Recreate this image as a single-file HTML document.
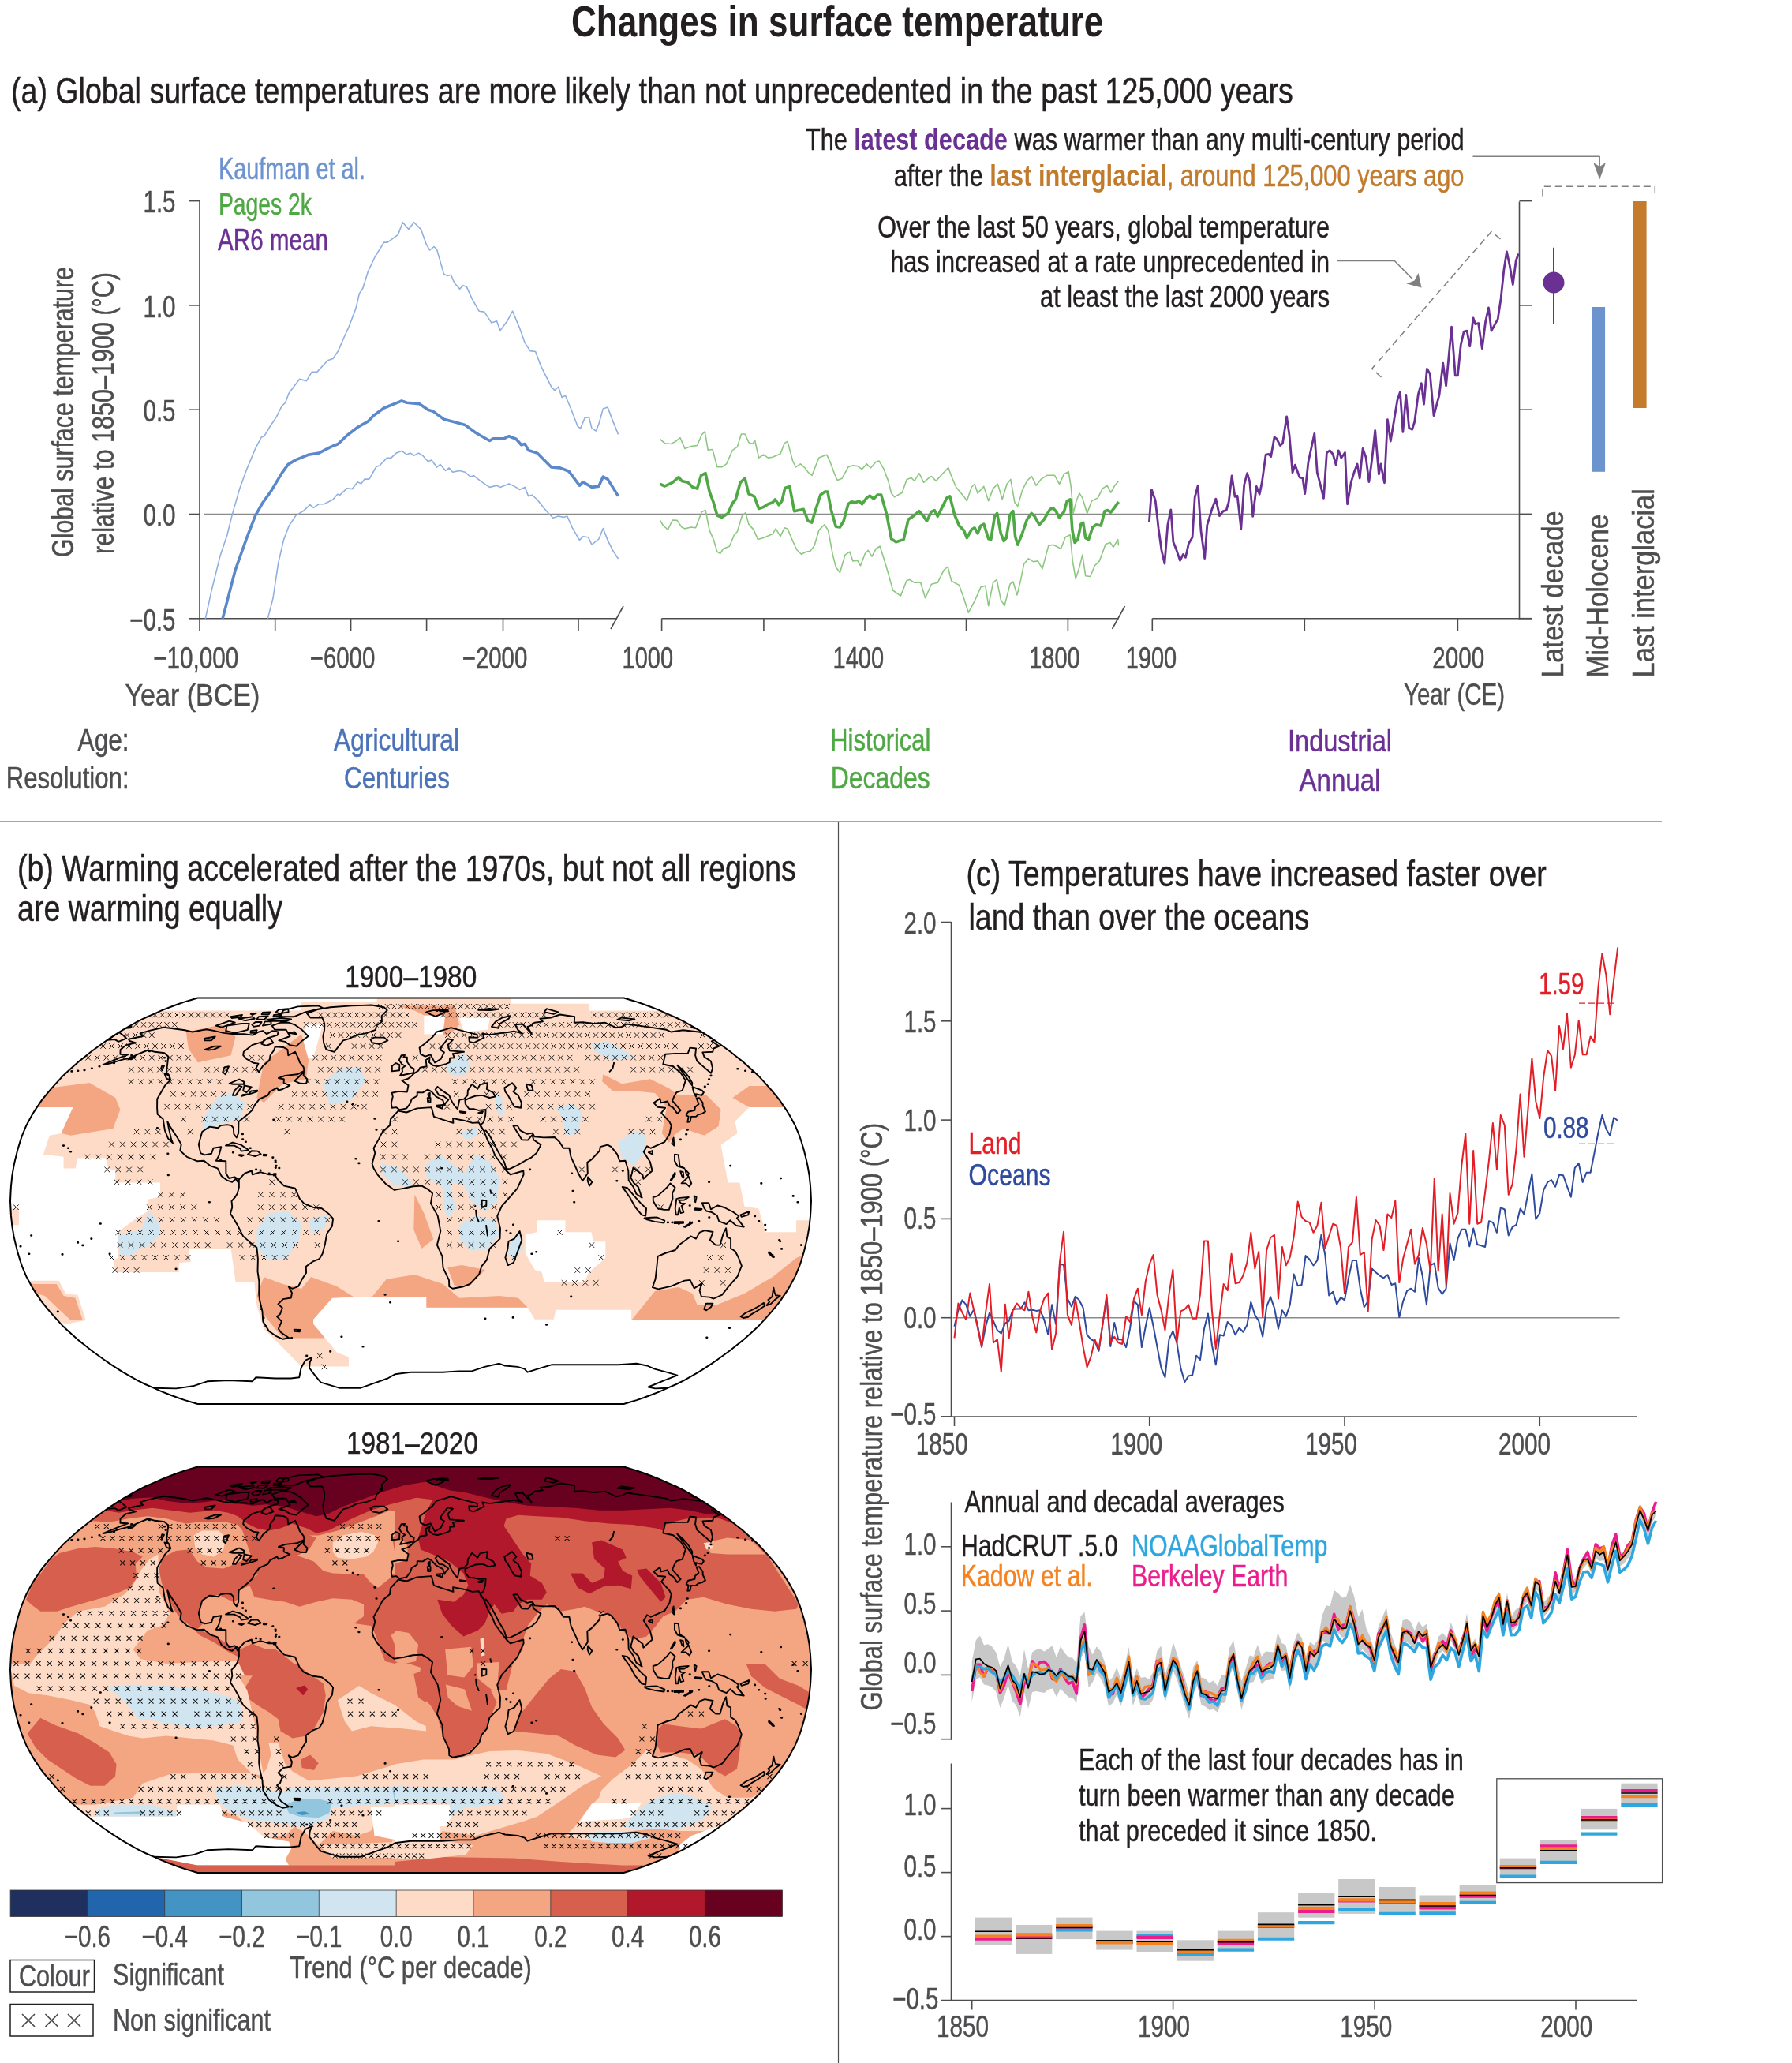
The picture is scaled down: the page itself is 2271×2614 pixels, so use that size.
<!DOCTYPE html>
<html><head><meta charset="utf-8"><title>Changes in surface temperature</title>
<style>html,body{margin:0;padding:0;background:#fff}svg{display:block}text{font-family:"Liberation Sans",sans-serif}</style>
</head><body>
<svg width="2271" height="2614" viewBox="0 0 2271 2614">
<rect width="2271" height="2614" fill="#fff"/>
<g opacity="0.9999">
<text transform="translate(724.0,46.3) scale(0.7952,1)" font-size="55.5" text-anchor="start" fill="#231f20" font-weight="bold">Changes in surface temperature</text>
<text transform="translate(14.0,131.0) scale(0.8258,1)" font-size="45.5" text-anchor="start" fill="#231f20" stroke="#231f20" stroke-width="0.5">(a) Global surface temperatures are more likely than not unprecedented in the past 125,000 years</text>
<text transform="translate(277.0,226.8) scale(0.7492,1)" font-size="38.5" text-anchor="start" fill="#6d93cf" stroke="#6d93cf" stroke-width="0.5">Kaufman et al.</text>
<text transform="translate(277.0,271.6) scale(0.7351,1)" font-size="38.5" text-anchor="start" fill="#4ea843" stroke="#4ea843" stroke-width="0.5">Pages 2k</text>
<text transform="translate(276.0,316.8) scale(0.7696,1)" font-size="38.5" text-anchor="start" fill="#6a3093" stroke="#6a3093" stroke-width="0.5">AR6 mean</text>
<line x1="253.0" y1="253.8" x2="253.0" y2="784.3" stroke="#4d4d4f" stroke-width="1.6" />
<line x1="239.5" y1="254.6" x2="253.0" y2="254.6" stroke="#4d4d4f" stroke-width="1.6" />
<text transform="translate(222.5,269.3) scale(0.7668,1)" font-size="38.5" text-anchor="end" fill="#4d4d4f" stroke="#4d4d4f" stroke-width="0.5">1.5</text>
<line x1="239.5" y1="386.9" x2="253.0" y2="386.9" stroke="#4d4d4f" stroke-width="1.6" />
<text transform="translate(222.5,401.6) scale(0.7668,1)" font-size="38.5" text-anchor="end" fill="#4d4d4f" stroke="#4d4d4f" stroke-width="0.5">1.0</text>
<line x1="239.5" y1="519.2" x2="253.0" y2="519.2" stroke="#4d4d4f" stroke-width="1.6" />
<text transform="translate(222.5,533.9) scale(0.7668,1)" font-size="38.5" text-anchor="end" fill="#4d4d4f" stroke="#4d4d4f" stroke-width="0.5">0.5</text>
<line x1="239.5" y1="651.5" x2="253.0" y2="651.5" stroke="#4d4d4f" stroke-width="1.6" />
<text transform="translate(222.5,666.2) scale(0.7668,1)" font-size="38.5" text-anchor="end" fill="#4d4d4f" stroke="#4d4d4f" stroke-width="0.5">0.0</text>
<line x1="239.5" y1="783.8" x2="253.0" y2="783.8" stroke="#4d4d4f" stroke-width="1.6" />
<text transform="translate(222.5,798.5) scale(0.7668,1)" font-size="38.5" text-anchor="end" fill="#4d4d4f" stroke="#4d4d4f" stroke-width="0.5">−0.5</text>
<line x1="258.0" y1="651.5" x2="1942.0" y2="651.5" stroke="#8a8a8a" stroke-width="1.4" />
<text transform="translate(92.5,522.0) rotate(-90) scale(0.7888,1)" font-size="38.5" text-anchor="middle" fill="#4d4d4f" stroke="#4d4d4f" stroke-width="0.5">Global surface temperature</text>
<text transform="translate(143.7,523.5) rotate(-90) scale(0.7936,1)" font-size="38.5" text-anchor="middle" fill="#4d4d4f" stroke="#4d4d4f" stroke-width="0.5">relative to 1850–1900 (°C)</text>
<line x1="253.0" y1="783.7" x2="781.0" y2="783.7" stroke="#4d4d4f" stroke-width="1.6" />
<line x1="253.0" y1="783.7" x2="253.0" y2="799.7" stroke="#4d4d4f" stroke-width="1.6" />
<line x1="348.7" y1="783.7" x2="348.7" y2="799.7" stroke="#4d4d4f" stroke-width="1.6" />
<line x1="444.6" y1="783.7" x2="444.6" y2="799.7" stroke="#4d4d4f" stroke-width="1.6" />
<line x1="540.6" y1="783.7" x2="540.6" y2="799.7" stroke="#4d4d4f" stroke-width="1.6" />
<line x1="637.5" y1="783.7" x2="637.5" y2="799.7" stroke="#4d4d4f" stroke-width="1.6" />
<line x1="733.0" y1="783.7" x2="733.0" y2="799.7" stroke="#4d4d4f" stroke-width="1.6" />
<line x1="774.0" y1="797.0" x2="790.0" y2="768.0" stroke="#4d4d4f" stroke-width="1.6" />
<text transform="translate(248.2,847.0) scale(0.7701,1)" font-size="38.5" text-anchor="middle" fill="#4d4d4f" stroke="#4d4d4f" stroke-width="0.5">−10,000</text>
<text transform="translate(434.0,847.0) scale(0.7629,1)" font-size="38.5" text-anchor="middle" fill="#4d4d4f" stroke="#4d4d4f" stroke-width="0.5">−6000</text>
<text transform="translate(627.0,847.0) scale(0.7629,1)" font-size="38.5" text-anchor="middle" fill="#4d4d4f" stroke="#4d4d4f" stroke-width="0.5">−2000</text>
<text transform="translate(158.5,894.0) scale(0.8846,1)" font-size="38.5" text-anchor="start" fill="#4d4d4f" stroke="#4d4d4f" stroke-width="0.5">Year (BCE)</text>
<line x1="838.6" y1="783.7" x2="1417.5" y2="783.7" stroke="#4d4d4f" stroke-width="1.6" />
<line x1="838.6" y1="783.7" x2="838.6" y2="799.7" stroke="#4d4d4f" stroke-width="1.6" />
<line x1="967.9" y1="783.7" x2="967.9" y2="799.7" stroke="#4d4d4f" stroke-width="1.6" />
<line x1="1096.0" y1="783.7" x2="1096.0" y2="799.7" stroke="#4d4d4f" stroke-width="1.6" />
<line x1="1224.5" y1="783.7" x2="1224.5" y2="799.7" stroke="#4d4d4f" stroke-width="1.6" />
<line x1="1353.4" y1="783.7" x2="1353.4" y2="799.7" stroke="#4d4d4f" stroke-width="1.6" />
<line x1="1409.5" y1="797.0" x2="1425.5" y2="768.0" stroke="#4d4d4f" stroke-width="1.6" />
<text transform="translate(820.8,847.0) scale(0.7531,1)" font-size="38.5" text-anchor="middle" fill="#4d4d4f" stroke="#4d4d4f" stroke-width="0.5">1000</text>
<text transform="translate(1087.8,847.0) scale(0.7531,1)" font-size="38.5" text-anchor="middle" fill="#4d4d4f" stroke="#4d4d4f" stroke-width="0.5">1400</text>
<text transform="translate(1336.4,847.0) scale(0.7531,1)" font-size="38.5" text-anchor="middle" fill="#4d4d4f" stroke="#4d4d4f" stroke-width="0.5">1800</text>
<line x1="1460.3" y1="783.7" x2="1942.0" y2="783.7" stroke="#4d4d4f" stroke-width="1.6" />
<line x1="1460.3" y1="783.7" x2="1460.3" y2="799.7" stroke="#4d4d4f" stroke-width="1.6" />
<line x1="1653.3" y1="783.7" x2="1653.3" y2="799.7" stroke="#4d4d4f" stroke-width="1.6" />
<line x1="1847.4" y1="783.7" x2="1847.4" y2="799.7" stroke="#4d4d4f" stroke-width="1.6" />
<text transform="translate(1459.0,847.0) scale(0.7531,1)" font-size="38.5" text-anchor="middle" fill="#4d4d4f" stroke="#4d4d4f" stroke-width="0.5">1900</text>
<text transform="translate(1848.2,847.0) scale(0.7706,1)" font-size="38.5" text-anchor="middle" fill="#4d4d4f" stroke="#4d4d4f" stroke-width="0.5">2000</text>
<text transform="translate(1779.0,892.7) scale(0.7636,1)" font-size="38.5" text-anchor="start" fill="#4d4d4f" stroke="#4d4d4f" stroke-width="0.5">Year (CE)</text>
<line x1="1925.5" y1="255.5" x2="1925.5" y2="784.5" stroke="#4d4d4f" stroke-width="1.6" />
<line x1="1925.5" y1="254.6" x2="1942.0" y2="254.6" stroke="#4d4d4f" stroke-width="1.6" />
<line x1="1925.5" y1="386.9" x2="1942.0" y2="386.9" stroke="#4d4d4f" stroke-width="1.6" />
<line x1="1925.5" y1="519.2" x2="1942.0" y2="519.2" stroke="#4d4d4f" stroke-width="1.6" />
<line x1="1925.5" y1="651.5" x2="1942.0" y2="651.5" stroke="#4d4d4f" stroke-width="1.6" />
<line x1="1925.5" y1="783.7" x2="1942.0" y2="783.7" stroke="#4d4d4f" stroke-width="1.6" />
<path d="M260.3,783.9 L267.9,749.1 L279.0,704.5 L287.9,677.7 L294.6,650.9 L303.6,619.6 L312.5,595.1 L323.7,568.3 L331.2,554.0 L334.8,552.7 L341.5,541.5 L350.4,528.1 L357.1,514.7 L361.6,510.3 L366.1,498.2 L379.5,480.4 L388.4,482.6 L395.1,471.4 L401.8,471.4 L415.2,456.7 L421.9,454.5 L428.6,444.6 L435.3,429.0 L442.0,414.3 L450.9,391.1 L455.4,371.9 L459.8,365.2 L466.5,343.8 L475.4,325.0 L486.6,307.1 L491.1,307.1 L504.5,297.3 L510.3,281.7 L517.9,290.6 L524.6,281.7 L533.5,290.6 L540.2,309.4 L544.6,317.0 L550.0,312.5 L553.6,316.1 L562.5,347.3 L567.0,349.6 L571.4,348.2 L575.9,358.5 L582.6,366.1 L587.1,361.6 L591.5,363.8 L598.2,378.6 L607.1,394.2 L613.8,395.1 L622.8,408.9 L629.5,406.7 L633.9,418.8 L642.9,406.7 L649.6,394.2 L658.5,415.6 L665.2,434.4 L671.9,444.6 L678.6,445.5 L685.3,463.4 L692.0,476.8 L698.7,490.2 L703.1,494.6 L707.6,490.2 L712.1,503.6 L716.5,501.3 L723.2,517.0 L732.1,540.2 L735.7,542.9 L741.1,529.5 L746.4,528.6 L750.0,542.9 L755.4,546.0 L758.9,537.1 L764.3,517.9 L770.1,516.1 L776.8,533.9 L783.5,550.4" fill="none" stroke="#8fb0df" stroke-width="1.6" stroke-linejoin="round" />
<path d="M339.3,783.9 L346.0,758.0 L352.7,713.4 L359.4,684.4 L366.1,666.5 L375.0,653.1 L383.9,647.8 L392.9,639.7 L397.3,643.3 L404.0,638.8 L410.7,638.8 L421.9,633.0 L427.7,626.3 L430.8,627.2 L439.7,618.8 L446.4,619.6 L453.1,610.7 L457.6,612.9 L462.1,607.1 L467.9,607.1 L476.8,591.5 L481.2,589.7 L490.2,580.4 L495.5,580.4 L502.2,574.1 L508.9,571.4 L515.6,575.9 L520.1,574.1 L524.6,577.2 L530.4,574.1 L535.7,577.2 L542.4,584.8 L546.9,583.0 L553.6,592.0 L558.0,588.4 L564.7,596.4 L569.2,592.9 L573.7,598.2 L582.6,596.4 L589.3,598.2 L596.0,604.0 L600.4,602.7 L609.4,609.8 L620.5,617.4 L629.5,615.2 L633.9,617.4 L645.1,612.9 L654.0,617.4 L658.5,620.5 L665.2,617.4 L669.6,628.6 L674.1,627.2 L680.8,633.0 L689.7,644.2 L696.4,651.8 L700.9,656.2 L707.6,654.0 L714.3,655.4 L718.8,654.0 L725.4,668.8 L734.4,684.4 L738.8,679.9 L745.5,680.8 L750.0,690.2 L758.9,683.0 L764.3,669.6 L770.1,684.4 L776.8,697.8 L783.5,708.0" fill="none" stroke="#8fb0df" stroke-width="1.6" stroke-linejoin="round" />
<path d="M282.1,783.9 L298.2,722.3 L312.5,682.1 L323.7,653.1 L332.6,637.5 L343.8,621.9 L357.1,599.6 L365.2,588.4 L375.0,582.6 L390.6,576.3 L404.0,574.1 L419.6,566.1 L428.6,562.5 L439.7,551.8 L453.1,541.5 L466.5,533.9 L473.2,526.8 L486.6,517.0 L508.9,508.0 L515.6,510.3 L531.2,511.6 L542.4,519.2 L549.1,521.4 L562.5,531.2 L569.2,533.0 L575.9,534.8 L589.3,538.4 L602.7,548.2 L620.5,558.5 L625.0,555.8 L638.4,555.8 L645.1,552.7 L654.0,556.2 L660.7,563.8 L665.2,562.5 L669.6,570.5 L680.8,574.1 L689.7,583.0 L698.7,592.0 L709.8,592.9 L721.0,597.3 L727.7,606.2 L734.4,615.2 L738.8,610.7 L750.0,617.4 L758.9,616.1 L764.3,604.0 L770.1,607.1 L783.5,628.6" fill="none" stroke="#5b88ca" stroke-width="3.6" stroke-linejoin="round" />
<path d="M836.6,556.6 L842.5,561.7 L850.3,562.5 L856.2,559.4 L862.0,554.7 L867.9,568.4 L875.7,565.6 L883.5,564.5 L889.4,550.8 L893.3,546.9 L897.2,570.3 L903.0,569.5 L908.9,591.8 L914.8,591.8 L920.6,587.9 L928.4,570.3 L934.3,566.4 L939.4,550.0 L944.1,550.0 L948.8,560.5 L953.8,562.5 L956.6,557.8 L961.6,580.1 L967.5,576.2 L973.4,580.1 L979.2,579.3 L989.0,575.0 L994.1,561.7 L998.0,559.4 L1004.6,584.0 L1008.5,591.8 L1014.4,587.9 L1020.2,593.0 L1024.1,598.4 L1029.2,602.3 L1033.9,589.8 L1037.8,580.1 L1047.6,576.2 L1051.5,584.0 L1057.3,599.6 L1061.2,608.6 L1067.1,606.2 L1074.9,591.8 L1080.8,589.8 L1086.6,590.6 L1092.5,594.5 L1098.4,587.9 L1103.4,593.0 L1110.1,585.2 L1114.0,584.0 L1119.8,593.8 L1125.7,609.4 L1129.6,625.0 L1133.5,629.7 L1143.3,624.2 L1149.1,607.4 L1155.0,605.5 L1158.9,609.4 L1164.8,599.6 L1170.6,611.3 L1176.5,606.2 L1180.4,603.5 L1186.2,609.4 L1194.1,600.8 L1201.9,592.6 L1205.8,603.5 L1211.6,617.2 L1221.4,628.9 L1225.3,634.8 L1231.2,617.2 L1235.1,613.3 L1239.0,625.0 L1246.8,616.4 L1252.7,634.8 L1258.5,619.1 L1264.4,613.3 L1270.2,632.8 L1276.1,613.3 L1280.8,607.4 L1285.9,636.7 L1289.8,641.4 L1295.6,621.1 L1301.5,609.4 L1307.3,603.5 L1313.2,615.2 L1319.1,607.4 L1326.9,602.3 L1336.6,602.3 L1342.5,613.3 L1348.4,600.8 L1354.2,597.7 L1357.3,617.2 L1360.1,650.4 L1364.0,634.8 L1367.9,625.0 L1371.8,630.9 L1377.7,650.4 L1383.5,634.8 L1391.3,630.9 L1397.2,619.1 L1403.0,615.2 L1407.7,624.2 L1412.8,615.2 L1417.5,609.4" fill="none" stroke="#8cc880" stroke-width="1.6" stroke-linejoin="round" />
<path d="M836.6,659.4 L840.5,666.0 L846.4,671.1 L852.3,659.0 L858.1,659.4 L864.0,668.0 L867.9,669.9 L875.7,668.0 L881.6,668.8 L889.4,648.4 L894.1,646.5 L899.1,671.9 L904.2,683.6 L908.9,699.2 L912.8,701.2 L916.7,695.3 L924.5,692.2 L930.4,677.7 L934.3,673.8 L940.2,654.3 L944.8,649.6 L948.8,664.1 L955.0,671.1 L960.5,683.6 L967.5,681.6 L973.4,678.9 L979.2,676.6 L983.1,669.9 L989.0,679.7 L994.1,668.8 L998.0,669.9 L1004.6,685.5 L1009.7,696.5 L1015.5,702.3 L1021.4,699.2 L1026.9,698.4 L1032.0,691.4 L1037.8,671.9 L1044.8,664.8 L1049.5,671.9 L1055.4,703.1 L1059.3,718.8 L1064.4,725.4 L1071.0,703.1 L1076.9,699.2 L1080.8,710.9 L1086.6,710.2 L1090.5,716.8 L1096.4,701.2 L1100.3,697.3 L1105.0,705.1 L1110.1,695.3 L1115.2,692.2 L1119.8,707.0 L1125.7,726.6 L1131.6,748.0 L1141.3,755.1 L1149.1,735.5 L1153.0,734.4 L1158.9,738.3 L1166.7,738.3 L1172.6,757.8 L1180.4,740.2 L1188.2,738.3 L1196.0,722.7 L1201.1,718.0 L1205.8,736.3 L1215.5,741.4 L1221.4,757.8 L1227.3,776.2 L1235.1,761.7 L1242.9,744.1 L1248.8,742.2 L1252.7,767.6 L1258.5,738.3 L1263.2,734.4 L1268.3,759.8 L1273.0,767.6 L1280.0,740.2 L1283.9,737.1 L1289.0,753.9 L1293.7,734.4 L1297.6,714.8 L1303.4,707.8 L1309.3,711.7 L1315.2,710.9 L1321.0,720.7 L1328.8,691.4 L1334.7,690.2 L1344.5,695.3 L1350.3,680.5 L1356.2,677.7 L1359.3,710.9 L1363.2,733.6 L1367.9,718.8 L1371.8,703.1 L1375.7,729.7 L1381.6,730.5 L1387.4,716.8 L1393.3,710.9 L1401.1,689.5 L1407.0,687.5 L1410.9,693.4 L1416.7,683.6 L1417.5,691.4" fill="none" stroke="#8cc880" stroke-width="1.6" stroke-linejoin="round" />
<path d="M836.6,613.3 L842.5,616.0 L852.3,611.3 L860.1,604.7 L864.0,609.4 L871.8,611.3 L877.7,617.2 L883.5,619.1 L888.6,602.3 L894.1,599.6 L899.1,623.0 L904.2,636.7 L908.9,653.1 L914.8,655.5 L922.6,650.4 L928.4,637.5 L932.3,632.8 L938.2,611.3 L944.1,606.2 L948.8,625.8 L955.8,628.9 L961.6,644.5 L967.5,642.6 L973.4,638.7 L979.2,636.7 L982.3,632.8 L987.0,639.8 L990.9,634.8 L994.8,618.4 L1000.7,616.4 L1006.6,647.7 L1012.4,646.5 L1018.3,645.3 L1024.1,660.2 L1028.8,662.1 L1033.9,645.3 L1039.8,627.0 L1045.6,623.0 L1048.8,623.0 L1053.4,646.5 L1059.3,667.2 L1064.4,668.0 L1069.1,660.2 L1074.9,638.7 L1078.8,635.9 L1084.7,636.7 L1088.6,634.8 L1092.5,638.7 L1098.4,630.9 L1102.3,628.1 L1107.3,632.0 L1112.0,627.0 L1116.7,627.0 L1123.8,652.3 L1129.6,682.8 L1135.5,686.7 L1145.2,683.6 L1151.1,658.2 L1157.0,654.3 L1164.8,647.7 L1170.6,654.3 L1174.5,660.2 L1180.4,648.4 L1184.3,646.5 L1188.2,654.3 L1194.1,642.6 L1199.9,630.9 L1203.8,628.9 L1209.7,652.3 L1215.5,666.0 L1221.4,671.9 L1225.3,681.6 L1231.2,671.1 L1235.1,668.8 L1239.0,675.8 L1242.9,666.0 L1246.8,664.1 L1252.7,682.8 L1255.8,683.6 L1260.5,654.3 L1263.6,650.4 L1268.3,675.8 L1272.2,685.5 L1275.3,681.6 L1280.0,652.3 L1283.9,647.7 L1286.6,679.7 L1289.8,690.2 L1295.6,675.8 L1301.5,658.2 L1307.3,650.4 L1311.2,654.3 L1317.1,664.8 L1323.0,658.2 L1330.8,645.3 L1334.7,643.8 L1338.6,648.4 L1342.5,656.2 L1348.4,648.4 L1352.3,634.8 L1356.2,632.8 L1358.9,671.9 L1362.0,687.5 L1365.9,683.6 L1369.8,664.1 L1372.6,662.1 L1375.7,681.6 L1379.6,683.6 L1384.7,668.0 L1389.4,664.8 L1395.2,666.0 L1399.9,647.7 L1403.8,646.5 L1407.7,649.2 L1412.8,642.6 L1417.5,635.9" fill="none" stroke="#4ea843" stroke-width="3.6" stroke-linejoin="round" />
<path d="M1456.4,661.4 L1459.5,620.4 L1464.2,634.1 L1468.1,669.2 L1472.0,697.3 L1475.9,714.1 L1479.8,665.3 L1483.8,645.8 L1486.9,686.8 L1490.8,696.6 L1495.5,710.2 L1499.4,702.4 L1502.5,706.3 L1506.4,688.8 L1511.1,680.9 L1514.2,630.2 L1518.1,615.3 L1522.0,673.1 L1526.7,707.5 L1529.8,665.3 L1535.7,645.8 L1540.8,632.1 L1545.5,653.6 L1550.2,647.7 L1554.1,646.6 L1557.2,636.0 L1561.1,602.8 L1565.0,629.4 L1568.1,628.2 L1572.8,670.0 L1576.7,614.5 L1580.6,599.7 L1583.8,610.6 L1587.7,654.4 L1592.3,616.5 L1596.2,626.2 L1599.4,610.6 L1604.1,576.2 L1608.0,575.5 L1610.7,578.6 L1615.0,554.0 L1617.7,555.9 L1622.4,564.5 L1625.5,561.8 L1630.6,527.8 L1634.1,552.0 L1638.0,598.9 L1641.2,589.1 L1647.0,604.8 L1650.9,605.9 L1653.7,625.5 L1658.0,585.2 L1662.7,563.8 L1665.8,549.3 L1669.3,598.9 L1673.6,615.3 L1677.5,631.3 L1681.4,573.5 L1685.3,570.8 L1689.2,575.5 L1693.1,589.1 L1696.2,570.8 L1699.8,580.2 L1704.5,573.5 L1707.6,638.8 L1712.3,610.6 L1716.6,597.0 L1720.1,588.0 L1723.2,605.9 L1727.1,568.4 L1731.0,579.4 L1734.9,610.6 L1738.8,581.3 L1742.7,545.4 L1747.4,600.9 L1749.8,588.0 L1754.5,611.8 L1758.4,531.7 L1762.3,559.1 L1767.0,530.5 L1770.9,507.1 L1774.4,496.6 L1777.9,547.3 L1781.8,500.5 L1785.7,542.3 L1789.6,544.2 L1792.7,534.5 L1797.4,499.3 L1801.3,485.6 L1804.5,512.2 L1808.4,467.3 L1812.3,473.9 L1817.0,526.6 L1820.9,512.2 L1824.0,500.5 L1828.7,460.2 L1832.6,488.8 L1836.5,446.6 L1839.6,414.1 L1844.3,475.9 L1847.4,475.9 L1851.3,436.8 L1855.2,420.0 L1859.1,419.2 L1862.7,438.8 L1867.0,402.8 L1869.7,410.6 L1873.6,409.5 L1878.3,441.5 L1882.6,407.5 L1886.5,389.9 L1890.0,419.2 L1894.3,411.4 L1898.2,404.4 L1902.1,378.2 L1906.0,341.1 L1909.5,318.8 L1913.4,337.2 L1917.3,360.6 L1921.2,330.2 L1924.4,321.6" fill="none" stroke="#6a3093" stroke-width="2.8" stroke-linejoin="round" />
<line x1="1969.0" y1="313.7" x2="1969.0" y2="410.6" stroke="#6a3093" stroke-width="2" />
<circle cx="1969" cy="358" r="13.5" fill="#6a3093"/>
<rect x="2017.5" y="389.0" width="16.6" height="208.8" fill="#6b93cd" stroke="none" stroke-width="0"/>
<rect x="2069.6" y="255.0" width="17.0" height="262.0" fill="#c47c2c" stroke="none" stroke-width="0"/>
<text transform="translate(1981.0,858.5) rotate(-90) scale(0.8723,1)" font-size="38.5" text-anchor="start" fill="#4d4d4f" stroke="#4d4d4f" stroke-width="0.5">Latest decade</text>
<text transform="translate(2037.7,858.5) rotate(-90) scale(0.8715,1)" font-size="38.5" text-anchor="start" fill="#4d4d4f" stroke="#4d4d4f" stroke-width="0.5">Mid-Holocene</text>
<text transform="translate(2096.0,858.5) rotate(-90) scale(0.8953,1)" font-size="38.5" text-anchor="start" fill="#4d4d4f" stroke="#4d4d4f" stroke-width="0.5">Last interglacial</text>
<path d="M1955.0,248.5 L1955.0,236.3 L2097.3,236.3 L2097.3,248.5" fill="none" stroke="#808080" stroke-width="1.5" stroke-linejoin="round" stroke-dasharray="9 5"/>
<path d="M1866.5,198.3 L2027.2,198.3 L2027.2,214.0" fill="none" stroke="#808080" stroke-width="1.5" stroke-linejoin="round" />
<path d="M2019.3,206 L2027.2,227.5 L2035,206 L2027.2,211 Z" fill="#808080"/>
<path d="M1750.5,478.0 L1738.8,467.0 L1890.0,293.5 L1903.0,304.0" fill="none" stroke="#808080" stroke-width="1.5" stroke-linejoin="round" stroke-dasharray="9 5"/>
<path d="M1694.0,330.5 L1767.3,330.5 L1790.0,353.5" fill="none" stroke="#808080" stroke-width="1.5" stroke-linejoin="round" />
<path d="M1797.5,346 L1801.5,364.5 L1782.5,359.5 L1792.5,355.5 Z" fill="#808080"/>
<text transform="translate(1855.5,190.0) scale(0.7980,1)" font-size="38.5" text-anchor="end" xml:space="preserve"><tspan fill="#231f20" stroke="#231f20" stroke-width="0.5">The </tspan><tspan fill="#6a3093" font-weight="bold">latest decade</tspan><tspan fill="#231f20" stroke="#231f20" stroke-width="0.5"> was warmer than any multi-century period</tspan></text>
<text transform="translate(1855.5,235.5) scale(0.8005,1)" font-size="38.5" text-anchor="end" xml:space="preserve"><tspan fill="#231f20" stroke="#231f20" stroke-width="0.5">after the </tspan><tspan fill="#c17b2d" font-weight="bold">last interglacial</tspan><tspan fill="#c17b2d" stroke="#c17b2d" stroke-width="0.5">, around 125,000 years ago</tspan></text>
<text transform="translate(1685.0,301.0) scale(0.7969,1)" font-size="38.5" text-anchor="end" fill="#231f20" stroke="#231f20" stroke-width="0.5">Over the last 50 years, global temperature</text>
<text transform="translate(1685.0,345.0) scale(0.7958,1)" font-size="38.5" text-anchor="end" fill="#231f20" stroke="#231f20" stroke-width="0.5">has increased at a rate unprecedented in</text>
<text transform="translate(1685.0,388.5) scale(0.7976,1)" font-size="38.5" text-anchor="end" fill="#231f20" stroke="#231f20" stroke-width="0.5">at least the last 2000 years</text>
<text transform="translate(163.6,951.0) scale(0.8207,1)" font-size="38.5" text-anchor="end" fill="#4d4d4f" stroke="#4d4d4f" stroke-width="0.5">Age:</text>
<text transform="translate(163.6,999.0) scale(0.8099,1)" font-size="38.5" text-anchor="end" fill="#4d4d4f" stroke="#4d4d4f" stroke-width="0.5">Resolution:</text>
<text transform="translate(502.5,951.0) scale(0.8256,1)" font-size="38.5" text-anchor="middle" fill="#4a72b8" stroke="#4a72b8" stroke-width="0.5">Agricultural</text>
<text transform="translate(503.0,999.0) scale(0.8132,1)" font-size="38.5" text-anchor="middle" fill="#4a72b8" stroke="#4a72b8" stroke-width="0.5">Centuries</text>
<text transform="translate(1115.8,951.0) scale(0.8022,1)" font-size="38.5" text-anchor="middle" fill="#4ea843" stroke="#4ea843" stroke-width="0.5">Historical</text>
<text transform="translate(1115.8,999.0) scale(0.8292,1)" font-size="38.5" text-anchor="middle" fill="#4ea843" stroke="#4ea843" stroke-width="0.5">Decades</text>
<text transform="translate(1698.0,951.5) scale(0.8449,1)" font-size="38.5" text-anchor="middle" fill="#6a3093" stroke="#6a3093" stroke-width="0.5">Industrial</text>
<text transform="translate(1698.0,1002.0) scale(0.8592,1)" font-size="38.5" text-anchor="middle" fill="#6a3093" stroke="#6a3093" stroke-width="0.5">Annual</text>
<line x1="0.0" y1="1041.0" x2="2106.0" y2="1041.0" stroke="#4d4d4f" stroke-width="1.2" />
<line x1="1062.5" y1="1041.0" x2="1062.5" y2="2614.0" stroke="#4d4d4f" stroke-width="1.2" />
<text transform="translate(22.0,1116.0) scale(0.8245,1)" font-size="45.5" text-anchor="start" fill="#231f20" stroke="#231f20" stroke-width="0.5">(b) Warming accelerated after the 1970s, but not all regions</text>
<text transform="translate(22.0,1166.5) scale(0.8252,1)" font-size="45.5" text-anchor="start" fill="#231f20" stroke="#231f20" stroke-width="0.5">are warming equally</text>
<text transform="translate(520.7,1250.8) scale(0.8666,1)" font-size="38.5" text-anchor="middle" fill="#231f20" stroke="#231f20" stroke-width="0.5">1900–1980</text>
<text transform="translate(522.5,1841.8) scale(0.8666,1)" font-size="38.5" text-anchor="middle" fill="#231f20" stroke="#231f20" stroke-width="0.5">1981–2020</text>
<clipPath id="mc1"><path d="M790.6,1264.5 L798.7,1267.0 L806.8,1269.4 L815.9,1272.5 L825.8,1276.3 L835.8,1280.1 L846.3,1284.8 L856.9,1289.5 L866.8,1294.4 L876.0,1299.6 L885.2,1304.8 L893.5,1310.2 L901.9,1315.7 L910.0,1321.3 L917.9,1327.0 L925.8,1332.8 L933.2,1338.7 L940.6,1344.6 L947.6,1350.7 L954.3,1356.8 L961.0,1362.9 L966.7,1369.1 L972.4,1375.3 L977.9,1381.6 L983.1,1387.9 L988.2,1394.2 L992.5,1400.6 L996.8,1406.9 L1000.7,1413.3 L1004.2,1419.7 L1007.7,1426.1 L1010.3,1432.4 L1013.0,1438.8 L1015.2,1445.2 L1017.1,1451.6 L1019.0,1458.0 L1020.5,1464.3 L1022.1,1470.7 L1023.5,1477.1 L1024.6,1483.5 L1025.7,1489.9 L1026.3,1496.2 L1027.0,1502.6 L1027.4,1509.0 L1027.7,1515.4 L1028.0,1521.8 L1027.7,1528.1 L1027.4,1534.5 L1027.0,1540.9 L1026.3,1547.3 L1025.7,1553.6 L1024.6,1560.0 L1023.5,1566.4 L1022.1,1572.8 L1020.5,1579.2 L1019.0,1585.5 L1017.1,1591.9 L1015.2,1598.3 L1013.0,1604.7 L1010.3,1611.1 L1007.7,1617.4 L1004.2,1623.8 L1000.7,1630.2 L996.8,1636.6 L992.5,1642.9 L988.2,1649.3 L983.1,1655.6 L977.9,1661.9 L972.4,1668.2 L966.7,1674.4 L961.0,1680.6 L954.3,1686.7 L947.6,1692.8 L940.6,1698.9 L933.2,1704.8 L925.8,1710.7 L917.9,1716.5 L910.0,1722.2 L901.9,1727.8 L893.5,1733.3 L885.2,1738.7 L876.0,1743.9 L866.8,1749.1 L856.9,1754.0 L846.3,1758.7 L835.8,1763.4 L825.8,1767.2 L815.9,1771.0 L806.8,1774.1 L798.7,1776.5 L790.6,1779.0 L250.4,1779.0 L242.3,1776.5 L234.2,1774.1 L225.1,1771.0 L215.2,1767.2 L205.2,1763.4 L194.7,1758.7 L184.1,1754.0 L174.2,1749.1 L165.0,1743.9 L155.8,1738.7 L147.5,1733.3 L139.1,1727.8 L131.0,1722.2 L123.1,1716.5 L115.2,1710.7 L107.8,1704.8 L100.4,1698.9 L93.4,1692.8 L86.7,1686.7 L80.0,1680.6 L74.3,1674.4 L68.6,1668.2 L63.1,1661.9 L57.9,1655.6 L52.8,1649.3 L48.5,1642.9 L44.2,1636.6 L40.3,1630.2 L36.8,1623.8 L33.3,1617.4 L30.7,1611.1 L28.0,1604.7 L25.8,1598.3 L23.9,1591.9 L22.0,1585.5 L20.5,1579.2 L18.9,1572.8 L17.5,1566.4 L16.4,1560.0 L15.3,1553.6 L14.7,1547.3 L14.0,1540.9 L13.6,1534.5 L13.3,1528.1 L13.0,1521.8 L13.3,1515.4 L13.6,1509.0 L14.0,1502.6 L14.7,1496.2 L15.3,1489.9 L16.4,1483.5 L17.5,1477.1 L18.9,1470.7 L20.5,1464.3 L22.0,1458.0 L23.9,1451.6 L25.8,1445.2 L28.0,1438.8 L30.7,1432.4 L33.3,1426.1 L36.8,1419.7 L40.3,1413.3 L44.2,1406.9 L48.5,1400.6 L52.8,1394.2 L57.9,1387.9 L63.1,1381.6 L68.6,1375.3 L74.3,1369.1 L80.0,1362.9 L86.7,1356.8 L93.4,1350.7 L100.4,1344.6 L107.8,1338.7 L115.2,1332.8 L123.1,1327.0 L131.0,1321.3 L139.1,1315.7 L147.5,1310.2 L155.8,1304.8 L165.0,1299.6 L174.2,1294.4 L184.1,1289.5 L194.7,1284.8 L205.2,1280.1 L215.2,1276.3 L225.1,1272.5 L234.2,1269.4 L242.3,1267.0 L250.4,1264.5 Z"/></clipPath>
<g clip-path="url(#mc1)">
<rect x="0.0" y="1259.5" width="1050.0" height="524.5" fill="#fddbc7" stroke="none" stroke-width="0"/>
<path d="M11.9,1403.0 L92.6,1403.0 L77.6,1435.9 L62.7,1438.8 L54.9,1462.7 L80.6,1465.7 L80.6,1480.6 L95.5,1480.6 L98.5,1467.5 L134.3,1467.5 L137.3,1480.6 L146.3,1483.6 L146.3,1498.5 L203.0,1498.5 L203.0,1516.5 L188.1,1519.4 L188.1,1534.4 L173.2,1543.3 L149.3,1561.2 L149.3,1594.1 L143.3,1597.1 L146.3,1612.0 L226.9,1612.0 L226.9,1600.1 L241.8,1598.9 L238.8,1582.1 L292.6,1582.1 L298.5,1623.9 L322.4,1625.1 L325.4,1653.8 L334.4,1683.7 L352.3,1701.6 L370.2,1719.5 L382.1,1731.4 L441.9,1731.4 L441.9,1719.5 L426.9,1713.5 L412.0,1695.6 L397.1,1677.7 L397.1,1671.7 L421.0,1644.8 L471.7,1643.0 L540.4,1643.0 L540.4,1656.8 L668.8,1656.8 L677.7,1671.7 L701.6,1671.7 L704.6,1659.8 L800.1,1659.8 L800.1,1672.9 L1033.0,1672.9 L1033.0,1803.1 L6.0,1803.1 Z" fill="#ffffff"/>
<path d="M949.4,1403.0 L931.5,1420.9 L934.5,1435.9 L913.6,1450.8 L922.5,1498.5 L937.4,1498.5 L943.4,1528.4 L961.3,1531.4 L970.3,1561.2 L1009.1,1561.2 L1009.1,1546.3 L1033.0,1546.3 L1033.0,1403.0 Z" fill="#ffffff"/>
<path d="M680.7,1546.3 L716.5,1546.3 L716.5,1561.2 L749.4,1561.2 L752.3,1573.2 L767.3,1573.2 L767.3,1594.1 L746.4,1612.0 L740.4,1625.1 L689.7,1625.1 L686.7,1612.0 L677.7,1609.0 L665.8,1588.1 L665.8,1564.2 L680.7,1561.2 Z" fill="#ffffff"/>
<path d="M388.1,1298.5 L409.0,1298.5 L397.1,1340.3 L382.1,1340.3 Z" fill="#ffffff"/>
<path d="M537.4,1286.6 L564.3,1286.6 L561.3,1310.5 L537.4,1310.5 Z" fill="#ffffff"/>
<path d="M582.2,1289.6 L621.0,1289.6 L618.0,1304.5 L588.1,1307.5 Z" fill="#ffffff"/>
<path d="M119.4,1307.5 L185.1,1289.6 L191.1,1280.6 L382.1,1280.6 L382.1,1269.3 L477.7,1269.3 L477.7,1259.7 L238.8,1259.7 Z" fill="#ffffff"/>
<path d="M647.9,1259.7 L800.1,1259.7 L931.5,1319.4 L859.8,1289.6 L847.9,1280.6 L746.4,1280.6 L746.4,1271.7 L647.9,1271.7 Z" fill="#ffffff"/>
<path d="M9.0,1531.4 L23.9,1531.4 L23.9,1552.3 L9.0,1552.3 Z" fill="#fddbc7"/>
<path d="M23.9,1622.7 L74.6,1622.7 L83.6,1639.5 L98.5,1640.7 L108.7,1672.9 L83.6,1677.7 L23.9,1653.8 Z" fill="#fddbc7"/>
<path d="M59.7,1379.1 L113.4,1372.0 L146.3,1391.1 L152.3,1406.0 L143.3,1429.9 L89.6,1438.8 L77.6,1435.9 L92.6,1403.0 L35.8,1403.0 Z" fill="#f4a582"/>
<path d="M235.9,1307.5 L280.6,1298.5 L298.5,1313.4 L292.6,1337.3 L250.8,1346.3 L238.8,1328.4 Z" fill="#f4a582"/>
<path d="M334.4,1346.3 L382.1,1310.5 L391.1,1343.3 L388.1,1367.2 L358.3,1373.2 L334.4,1397.0 L325.4,1391.1 Z" fill="#f4a582"/>
<path d="M504.5,1274.6 L576.2,1274.6 L582.2,1298.5 L567.2,1313.4 L561.3,1310.5 L564.3,1286.6 L537.4,1286.6 L525.4,1280.6 Z" fill="#f4a582"/>
<path d="M764.3,1361.2 L788.2,1373.2 L824.0,1367.2 L847.9,1379.1 L859.8,1388.1 L895.6,1388.1 L913.6,1406.0 L910.6,1426.9 L892.7,1438.8 L865.8,1429.9 L853.9,1438.8 L847.9,1447.8 L838.9,1435.9 L844.9,1403.0 L830.0,1385.1 L800.1,1382.1 L776.2,1382.1 L763.1,1370.2 Z" fill="#f4a582"/>
<path d="M949.4,1376.1 L985.2,1376.1 L1015.1,1403.0 L949.4,1403.0 L928.5,1391.1 Z" fill="#f4a582"/>
<path d="M471.7,1643.0 L489.6,1621.0 L525.4,1615.0 L561.3,1626.9 L582.2,1644.8 L632.9,1641.9 L656.8,1644.8 L668.8,1656.8 L540.4,1656.8 L540.4,1643.0 Z" fill="#f4a582"/>
<path d="M325.4,1641.9 L334.4,1618.0 L358.3,1626.9 L382.1,1632.9 L394.1,1618.0 L426.9,1629.9 L447.8,1643.0 L421.0,1644.8 L397.1,1671.7 L397.1,1677.7 L412.0,1695.6 L382.1,1695.6 L358.3,1695.6 L334.4,1665.7 Z" fill="#f4a582"/>
<path d="M567.2,1606.0 L585.2,1603.0 L615.0,1609.0 L597.1,1626.9 L576.2,1629.9 Z" fill="#f4a582"/>
<path d="M525.4,1513.5 L537.4,1537.4 L549.3,1570.2 L534.4,1582.1 L524.3,1558.3 Z" fill="#f4a582"/>
<path d="M800.1,1672.9 L830.0,1635.9 L859.8,1631.1 L877.7,1638.9 L883.7,1653.8 L907.6,1653.8 L943.4,1638.9 L979.2,1618.0 L1009.1,1594.1 L1030.0,1585.1 L1030.0,1672.9 Z" fill="#f4a582"/>
<path d="M32.8,1626.9 L71.7,1626.9 L80.6,1641.9 L95.5,1644.8 L104.5,1671.7 L89.6,1672.9 L56.7,1641.9 L35.8,1635.9 Z" fill="#f4a582"/>
<path d="M256.8,1417.9 L274.7,1391.1 L292.6,1383.9 L310.5,1397.0 L304.5,1417.9 L280.6,1423.9 L256.8,1432.9 Z" fill="#d1e5f0"/>
<path d="M409.0,1373.2 L429.9,1354.1 L456.8,1352.3 L462.8,1370.2 L444.8,1394.1 L418.0,1400.0 Z" fill="#d1e5f0"/>
<path d="M564.3,1349.3 L588.1,1334.3 L595.9,1349.3 L588.1,1364.2 L570.2,1361.2 Z" fill="#d1e5f0"/>
<path d="M483.7,1474.7 L501.6,1477.7 L519.5,1492.6 L522.5,1504.5 L498.6,1501.5 L483.7,1486.6 Z" fill="#d1e5f0"/>
<path d="M540.4,1474.7 L558.3,1462.7 L573.2,1474.7 L588.1,1486.6 L603.1,1462.7 L621.0,1471.7 L632.9,1492.6 L629.9,1522.4 L615.0,1534.4 L597.1,1522.4 L588.1,1501.5 L573.2,1498.5 L567.2,1516.5 L558.3,1501.5 L540.4,1492.6 Z" fill="#d1e5f0"/>
<path d="M561.3,1510.5 L570.2,1504.5 L578.0,1531.4 L567.2,1543.3 L561.3,1528.4 Z" fill="#d1e5f0"/>
<path d="M582.2,1552.3 L603.1,1540.3 L627.0,1546.3 L632.9,1564.2 L618.0,1582.1 L597.1,1585.1 L582.2,1570.2 Z" fill="#d1e5f0"/>
<path d="M647.9,1570.2 L659.8,1561.2 L662.8,1582.1 L650.8,1597.1 L643.7,1588.1 Z" fill="#d1e5f0"/>
<path d="M704.6,1403.0 L725.5,1398.2 L737.4,1409.0 L733.2,1435.9 L716.5,1438.8 L713.5,1417.9 Z" fill="#d1e5f0"/>
<path d="M782.2,1447.8 L806.1,1432.9 L819.2,1438.8 L815.0,1462.7 L803.1,1477.7 L788.2,1465.7 Z" fill="#d1e5f0"/>
<path d="M627.0,1385.1 L635.9,1388.1 L637.7,1415.0 L629.9,1409.0 Z" fill="#d1e5f0"/>
<path d="M582.2,1435.9 L603.1,1426.9 L606.1,1438.8 L591.1,1444.8 Z" fill="#d1e5f0"/>
<path d="M749.4,1322.4 L770.3,1319.4 L806.1,1340.3 L776.2,1343.3 L753.5,1332.6 Z" fill="#d1e5f0"/>
<path d="M325.4,1558.3 L340.3,1537.4 L364.2,1534.4 L382.1,1549.3 L379.2,1570.2 L364.2,1594.1 L340.3,1597.1 L325.4,1582.1 Z" fill="#d1e5f0"/>
<path d="M394.1,1543.3 L415.0,1540.3 L412.0,1555.3 L398.9,1564.2 L391.1,1555.3 Z" fill="#d1e5f0"/>
<path d="M149.3,1564.2 L179.1,1558.3 L188.1,1534.4 L200.0,1546.3 L203.0,1564.2 L188.1,1579.2 L176.1,1582.1 L167.2,1591.1 L152.3,1591.1 Z" fill="#d1e5f0"/>
<path d="M479.3,1272.1 l6.6,6.6 M479.3,1278.7 l6.6,-6.6 M487.8,1272.1 l6.6,6.6 M487.8,1278.7 l6.6,-6.6 M496.2,1272.1 l6.6,6.6 M496.2,1278.7 l6.6,-6.6 M504.6,1272.1 l6.6,6.6 M504.6,1278.7 l6.6,-6.6 M513.0,1272.1 l6.6,6.6 M513.0,1278.7 l6.6,-6.6 M521.4,1272.1 l6.6,6.6 M521.4,1278.7 l6.6,-6.6 M529.8,1272.1 l6.6,6.6 M529.8,1278.7 l6.6,-6.6 M538.2,1272.1 l6.6,6.6 M538.2,1278.7 l6.6,-6.6 M546.6,1272.1 l6.6,6.6 M546.6,1278.7 l6.6,-6.6 M555.1,1272.1 l6.6,6.6 M555.1,1278.7 l6.6,-6.6 M563.5,1272.1 l6.6,6.6 M563.5,1278.7 l6.6,-6.6 M571.9,1272.1 l6.6,6.6 M571.9,1278.7 l6.6,-6.6 M580.3,1272.1 l6.6,6.6 M580.3,1278.7 l6.6,-6.6 M588.7,1272.1 l6.6,6.6 M588.7,1278.7 l6.6,-6.6 M597.1,1272.1 l6.6,6.6 M597.1,1278.7 l6.6,-6.6 M605.5,1272.1 l6.6,6.6 M605.5,1278.7 l6.6,-6.6 M613.9,1272.1 l6.6,6.6 M613.9,1278.7 l6.6,-6.6 M622.4,1272.1 l6.6,6.6 M622.4,1278.7 l6.6,-6.6 M630.8,1272.1 l6.6,6.6 M630.8,1278.7 l6.6,-6.6 M639.2,1272.1 l6.6,6.6 M639.2,1278.7 l6.6,-6.6 M193.3,1282.7 l6.6,6.6 M193.3,1289.3 l6.6,-6.6 M202.4,1282.7 l6.6,6.6 M202.4,1289.3 l6.6,-6.6 M211.5,1282.7 l6.6,6.6 M211.5,1289.3 l6.6,-6.6 M220.7,1282.7 l6.6,6.6 M220.7,1289.3 l6.6,-6.6 M229.8,1282.7 l6.6,6.6 M229.8,1289.3 l6.6,-6.6 M238.9,1282.7 l6.6,6.6 M238.9,1289.3 l6.6,-6.6 M248.0,1282.7 l6.6,6.6 M248.0,1289.3 l6.6,-6.6 M257.2,1282.7 l6.6,6.6 M257.2,1289.3 l6.6,-6.6 M266.3,1282.7 l6.6,6.6 M266.3,1289.3 l6.6,-6.6 M275.4,1282.7 l6.6,6.6 M275.4,1289.3 l6.6,-6.6 M284.5,1282.7 l6.6,6.6 M284.5,1289.3 l6.6,-6.6 M403.1,1282.7 l6.6,6.6 M403.1,1289.3 l6.6,-6.6 M412.3,1282.7 l6.6,6.6 M412.3,1289.3 l6.6,-6.6 M421.4,1282.7 l6.6,6.6 M421.4,1289.3 l6.6,-6.6 M430.5,1282.7 l6.6,6.6 M430.5,1289.3 l6.6,-6.6 M439.6,1282.7 l6.6,6.6 M439.6,1289.3 l6.6,-6.6 M448.8,1282.7 l6.6,6.6 M448.8,1289.3 l6.6,-6.6 M457.9,1282.7 l6.6,6.6 M457.9,1289.3 l6.6,-6.6 M467.0,1282.7 l6.6,6.6 M467.0,1289.3 l6.6,-6.6 M476.1,1282.7 l6.6,6.6 M476.1,1289.3 l6.6,-6.6 M485.3,1282.7 l6.6,6.6 M485.3,1289.3 l6.6,-6.6 M494.4,1282.7 l6.6,6.6 M494.4,1289.3 l6.6,-6.6 M503.5,1282.7 l6.6,6.6 M503.5,1289.3 l6.6,-6.6 M512.6,1282.7 l6.6,6.6 M512.6,1289.3 l6.6,-6.6 M558.3,1282.7 l6.6,6.6 M558.3,1289.3 l6.6,-6.6 M567.4,1282.7 l6.6,6.6 M567.4,1289.3 l6.6,-6.6 M576.5,1282.7 l6.6,6.6 M576.5,1289.3 l6.6,-6.6 M585.6,1282.7 l6.6,6.6 M585.6,1289.3 l6.6,-6.6 M594.8,1282.7 l6.6,6.6 M594.8,1289.3 l6.6,-6.6 M603.9,1282.7 l6.6,6.6 M603.9,1289.3 l6.6,-6.6 M613.0,1282.7 l6.6,6.6 M613.0,1289.3 l6.6,-6.6 M622.1,1282.7 l6.6,6.6 M622.1,1289.3 l6.6,-6.6 M631.3,1282.7 l6.6,6.6 M631.3,1289.3 l6.6,-6.6 M640.4,1282.7 l6.6,6.6 M640.4,1289.3 l6.6,-6.6 M649.5,1282.7 l6.6,6.6 M649.5,1289.3 l6.6,-6.6 M658.6,1282.7 l6.6,6.6 M658.6,1289.3 l6.6,-6.6 M667.8,1282.7 l6.6,6.6 M667.8,1289.3 l6.6,-6.6 M676.9,1282.7 l6.6,6.6 M676.9,1289.3 l6.6,-6.6 M686.0,1282.7 l6.6,6.6 M686.0,1289.3 l6.6,-6.6 M749.9,1282.7 l6.6,6.6 M749.9,1289.3 l6.6,-6.6 M759.0,1282.7 l6.6,6.6 M759.0,1289.3 l6.6,-6.6 M768.1,1282.7 l6.6,6.6 M768.1,1289.3 l6.6,-6.6 M777.2,1282.7 l6.6,6.6 M777.2,1289.3 l6.6,-6.6 M786.4,1282.7 l6.6,6.6 M786.4,1289.3 l6.6,-6.6 M795.5,1282.7 l6.6,6.6 M795.5,1289.3 l6.6,-6.6 M804.6,1282.7 l6.6,6.6 M804.6,1289.3 l6.6,-6.6 M813.7,1282.7 l6.6,6.6 M813.7,1289.3 l6.6,-6.6 M822.9,1282.7 l6.6,6.6 M822.9,1289.3 l6.6,-6.6 M832.0,1282.7 l6.6,6.6 M832.0,1289.3 l6.6,-6.6 M841.1,1282.7 l6.6,6.6 M841.1,1289.3 l6.6,-6.6 M168.9,1295.0 l6.6,6.6 M168.9,1301.6 l6.6,-6.6 M178.7,1295.0 l6.6,6.6 M178.7,1301.6 l6.6,-6.6 M188.6,1295.0 l6.6,6.6 M188.6,1301.6 l6.6,-6.6 M198.4,1295.0 l6.6,6.6 M198.4,1301.6 l6.6,-6.6 M208.2,1295.0 l6.6,6.6 M208.2,1301.6 l6.6,-6.6 M218.0,1295.0 l6.6,6.6 M218.0,1301.6 l6.6,-6.6 M384.8,1295.0 l6.6,6.6 M384.8,1301.6 l6.6,-6.6 M394.6,1295.0 l6.6,6.6 M394.6,1301.6 l6.6,-6.6 M404.4,1295.0 l6.6,6.6 M404.4,1301.6 l6.6,-6.6 M414.2,1295.0 l6.6,6.6 M414.2,1301.6 l6.6,-6.6 M424.0,1295.0 l6.6,6.6 M424.0,1301.6 l6.6,-6.6 M433.8,1295.0 l6.6,6.6 M433.8,1301.6 l6.6,-6.6 M443.6,1295.0 l6.6,6.6 M443.6,1301.6 l6.6,-6.6 M453.4,1295.0 l6.6,6.6 M453.4,1301.6 l6.6,-6.6 M463.2,1295.0 l6.6,6.6 M463.2,1301.6 l6.6,-6.6 M473.1,1295.0 l6.6,6.6 M473.1,1301.6 l6.6,-6.6 M482.9,1295.0 l6.6,6.6 M482.9,1301.6 l6.6,-6.6 M492.7,1295.0 l6.6,6.6 M492.7,1301.6 l6.6,-6.6 M502.5,1295.0 l6.6,6.6 M502.5,1301.6 l6.6,-6.6 M512.3,1295.0 l6.6,6.6 M512.3,1301.6 l6.6,-6.6 M522.1,1295.0 l6.6,6.6 M522.1,1301.6 l6.6,-6.6 M630.0,1295.0 l6.6,6.6 M630.0,1301.6 l6.6,-6.6 M639.8,1295.0 l6.6,6.6 M639.8,1301.6 l6.6,-6.6 M649.6,1295.0 l6.6,6.6 M649.6,1301.6 l6.6,-6.6 M659.4,1295.0 l6.6,6.6 M659.4,1301.6 l6.6,-6.6 M669.3,1295.0 l6.6,6.6 M669.3,1301.6 l6.6,-6.6 M679.1,1295.0 l6.6,6.6 M679.1,1301.6 l6.6,-6.6 M688.9,1295.0 l6.6,6.6 M688.9,1301.6 l6.6,-6.6 M698.7,1295.0 l6.6,6.6 M698.7,1301.6 l6.6,-6.6 M708.5,1295.0 l6.6,6.6 M708.5,1301.6 l6.6,-6.6 M718.3,1295.0 l6.6,6.6 M718.3,1301.6 l6.6,-6.6 M728.1,1295.0 l6.6,6.6 M728.1,1301.6 l6.6,-6.6 M737.9,1295.0 l6.6,6.6 M737.9,1301.6 l6.6,-6.6 M747.7,1295.0 l6.6,6.6 M747.7,1301.6 l6.6,-6.6 M757.6,1295.0 l6.6,6.6 M757.6,1301.6 l6.6,-6.6 M767.4,1295.0 l6.6,6.6 M767.4,1301.6 l6.6,-6.6 M777.2,1295.0 l6.6,6.6 M777.2,1301.6 l6.6,-6.6 M787.0,1295.0 l6.6,6.6 M787.0,1301.6 l6.6,-6.6 M796.8,1295.0 l6.6,6.6 M796.8,1301.6 l6.6,-6.6 M806.6,1295.0 l6.6,6.6 M806.6,1301.6 l6.6,-6.6 M816.4,1295.0 l6.6,6.6 M816.4,1301.6 l6.6,-6.6 M826.2,1295.0 l6.6,6.6 M826.2,1301.6 l6.6,-6.6 M836.0,1295.0 l6.6,6.6 M836.0,1301.6 l6.6,-6.6 M845.8,1295.0 l6.6,6.6 M845.8,1301.6 l6.6,-6.6 M855.7,1295.0 l6.6,6.6 M855.7,1301.6 l6.6,-6.6 M865.5,1295.0 l6.6,6.6 M865.5,1301.6 l6.6,-6.6 M157.7,1308.3 l6.6,6.6 M157.7,1314.9 l6.6,-6.6 M168.1,1308.3 l6.6,6.6 M168.1,1314.9 l6.6,-6.6 M178.6,1308.3 l6.6,6.6 M178.6,1314.9 l6.6,-6.6 M189.0,1308.3 l6.6,6.6 M189.0,1314.9 l6.6,-6.6 M418.2,1308.3 l6.6,6.6 M418.2,1314.9 l6.6,-6.6 M428.6,1308.3 l6.6,6.6 M428.6,1314.9 l6.6,-6.6 M439.1,1308.3 l6.6,6.6 M439.1,1314.9 l6.6,-6.6 M449.5,1308.3 l6.6,6.6 M449.5,1314.9 l6.6,-6.6 M459.9,1308.3 l6.6,6.6 M459.9,1314.9 l6.6,-6.6 M470.3,1308.3 l6.6,6.6 M470.3,1314.9 l6.6,-6.6 M480.7,1308.3 l6.6,6.6 M480.7,1314.9 l6.6,-6.6 M491.2,1308.3 l6.6,6.6 M491.2,1314.9 l6.6,-6.6 M501.6,1308.3 l6.6,6.6 M501.6,1314.9 l6.6,-6.6 M564.1,1308.3 l6.6,6.6 M564.1,1314.9 l6.6,-6.6 M574.5,1308.3 l6.6,6.6 M574.5,1314.9 l6.6,-6.6 M584.9,1308.3 l6.6,6.6 M584.9,1314.9 l6.6,-6.6 M595.3,1308.3 l6.6,6.6 M595.3,1314.9 l6.6,-6.6 M605.8,1308.3 l6.6,6.6 M605.8,1314.9 l6.6,-6.6 M616.2,1308.3 l6.6,6.6 M616.2,1314.9 l6.6,-6.6 M626.6,1308.3 l6.6,6.6 M626.6,1314.9 l6.6,-6.6 M637.0,1308.3 l6.6,6.6 M637.0,1314.9 l6.6,-6.6 M647.4,1308.3 l6.6,6.6 M647.4,1314.9 l6.6,-6.6 M657.9,1308.3 l6.6,6.6 M657.9,1314.9 l6.6,-6.6 M668.3,1308.3 l6.6,6.6 M668.3,1314.9 l6.6,-6.6 M678.7,1308.3 l6.6,6.6 M678.7,1314.9 l6.6,-6.6 M689.1,1308.3 l6.6,6.6 M689.1,1314.9 l6.6,-6.6 M699.5,1308.3 l6.6,6.6 M699.5,1314.9 l6.6,-6.6 M710.0,1308.3 l6.6,6.6 M710.0,1314.9 l6.6,-6.6 M720.4,1308.3 l6.6,6.6 M720.4,1314.9 l6.6,-6.6 M730.8,1308.3 l6.6,6.6 M730.8,1314.9 l6.6,-6.6 M741.2,1308.3 l6.6,6.6 M741.2,1314.9 l6.6,-6.6 M751.6,1308.3 l6.6,6.6 M751.6,1314.9 l6.6,-6.6 M762.1,1308.3 l6.6,6.6 M762.1,1314.9 l6.6,-6.6 M772.5,1308.3 l6.6,6.6 M772.5,1314.9 l6.6,-6.6 M782.9,1308.3 l6.6,6.6 M782.9,1314.9 l6.6,-6.6 M793.3,1308.3 l6.6,6.6 M793.3,1314.9 l6.6,-6.6 M803.7,1308.3 l6.6,6.6 M803.7,1314.9 l6.6,-6.6 M814.2,1308.3 l6.6,6.6 M814.2,1314.9 l6.6,-6.6 M824.6,1308.3 l6.6,6.6 M824.6,1314.9 l6.6,-6.6 M835.0,1308.3 l6.6,6.6 M835.0,1314.9 l6.6,-6.6 M887.1,1308.3 l6.6,6.6 M887.1,1314.9 l6.6,-6.6 M127.3,1322.3 l6.6,6.6 M127.3,1328.9 l6.6,-6.6 M138.3,1322.3 l6.6,6.6 M138.3,1328.9 l6.6,-6.6 M149.2,1322.3 l6.6,6.6 M149.2,1328.9 l6.6,-6.6 M160.2,1322.3 l6.6,6.6 M160.2,1328.9 l6.6,-6.6 M171.2,1322.3 l6.6,6.6 M171.2,1328.9 l6.6,-6.6 M182.2,1322.3 l6.6,6.6 M182.2,1328.9 l6.6,-6.6 M193.2,1322.3 l6.6,6.6 M193.2,1328.9 l6.6,-6.6 M204.2,1322.3 l6.6,6.6 M204.2,1328.9 l6.6,-6.6 M215.1,1322.3 l6.6,6.6 M215.1,1328.9 l6.6,-6.6 M226.1,1322.3 l6.6,6.6 M226.1,1328.9 l6.6,-6.6 M412.9,1322.3 l6.6,6.6 M412.9,1328.9 l6.6,-6.6 M445.8,1322.3 l6.6,6.6 M445.8,1328.9 l6.6,-6.6 M456.8,1322.3 l6.6,6.6 M456.8,1328.9 l6.6,-6.6 M467.8,1322.3 l6.6,6.6 M467.8,1328.9 l6.6,-6.6 M478.8,1322.3 l6.6,6.6 M478.8,1328.9 l6.6,-6.6 M544.7,1322.3 l6.6,6.6 M544.7,1328.9 l6.6,-6.6 M555.6,1322.3 l6.6,6.6 M555.6,1328.9 l6.6,-6.6 M566.6,1322.3 l6.6,6.6 M566.6,1328.9 l6.6,-6.6 M577.6,1322.3 l6.6,6.6 M577.6,1328.9 l6.6,-6.6 M588.6,1322.3 l6.6,6.6 M588.6,1328.9 l6.6,-6.6 M599.6,1322.3 l6.6,6.6 M599.6,1328.9 l6.6,-6.6 M610.6,1322.3 l6.6,6.6 M610.6,1328.9 l6.6,-6.6 M621.5,1322.3 l6.6,6.6 M621.5,1328.9 l6.6,-6.6 M632.5,1322.3 l6.6,6.6 M632.5,1328.9 l6.6,-6.6 M643.5,1322.3 l6.6,6.6 M643.5,1328.9 l6.6,-6.6 M654.5,1322.3 l6.6,6.6 M654.5,1328.9 l6.6,-6.6 M665.5,1322.3 l6.6,6.6 M665.5,1328.9 l6.6,-6.6 M676.5,1322.3 l6.6,6.6 M676.5,1328.9 l6.6,-6.6 M687.4,1322.3 l6.6,6.6 M687.4,1328.9 l6.6,-6.6 M698.4,1322.3 l6.6,6.6 M698.4,1328.9 l6.6,-6.6 M709.4,1322.3 l6.6,6.6 M709.4,1328.9 l6.6,-6.6 M720.4,1322.3 l6.6,6.6 M720.4,1328.9 l6.6,-6.6 M731.4,1322.3 l6.6,6.6 M731.4,1328.9 l6.6,-6.6 M742.4,1322.3 l6.6,6.6 M742.4,1328.9 l6.6,-6.6 M753.4,1322.3 l6.6,6.6 M753.4,1328.9 l6.6,-6.6 M764.3,1322.3 l6.6,6.6 M764.3,1328.9 l6.6,-6.6 M775.3,1322.3 l6.6,6.6 M775.3,1328.9 l6.6,-6.6 M786.3,1322.3 l6.6,6.6 M786.3,1328.9 l6.6,-6.6 M797.3,1322.3 l6.6,6.6 M797.3,1328.9 l6.6,-6.6 M808.3,1322.3 l6.6,6.6 M808.3,1328.9 l6.6,-6.6 M819.3,1322.3 l6.6,6.6 M819.3,1328.9 l6.6,-6.6 M830.2,1322.3 l6.6,6.6 M830.2,1328.9 l6.6,-6.6 M841.2,1322.3 l6.6,6.6 M841.2,1328.9 l6.6,-6.6 M852.2,1322.3 l6.6,6.6 M852.2,1328.9 l6.6,-6.6 M885.2,1322.3 l6.6,6.6 M885.2,1328.9 l6.6,-6.6 M896.1,1322.3 l6.6,6.6 M896.1,1328.9 l6.6,-6.6 M108.4,1336.9 l6.6,6.6 M108.4,1343.5 l6.6,-6.6 M119.9,1336.9 l6.6,6.6 M119.9,1343.5 l6.6,-6.6 M131.5,1336.9 l6.6,6.6 M131.5,1343.5 l6.6,-6.6 M143.0,1336.9 l6.6,6.6 M143.0,1343.5 l6.6,-6.6 M154.5,1336.9 l6.6,6.6 M154.5,1343.5 l6.6,-6.6 M166.0,1336.9 l6.6,6.6 M166.0,1343.5 l6.6,-6.6 M177.5,1336.9 l6.6,6.6 M177.5,1343.5 l6.6,-6.6 M189.0,1336.9 l6.6,6.6 M189.0,1343.5 l6.6,-6.6 M200.5,1336.9 l6.6,6.6 M200.5,1343.5 l6.6,-6.6 M212.1,1336.9 l6.6,6.6 M212.1,1343.5 l6.6,-6.6 M223.6,1336.9 l6.6,6.6 M223.6,1343.5 l6.6,-6.6 M235.1,1336.9 l6.6,6.6 M235.1,1343.5 l6.6,-6.6 M315.7,1336.9 l6.6,6.6 M315.7,1343.5 l6.6,-6.6 M327.2,1336.9 l6.6,6.6 M327.2,1343.5 l6.6,-6.6 M396.3,1336.9 l6.6,6.6 M396.3,1343.5 l6.6,-6.6 M407.8,1336.9 l6.6,6.6 M407.8,1343.5 l6.6,-6.6 M419.3,1336.9 l6.6,6.6 M419.3,1343.5 l6.6,-6.6 M430.8,1336.9 l6.6,6.6 M430.8,1343.5 l6.6,-6.6 M442.4,1336.9 l6.6,6.6 M442.4,1343.5 l6.6,-6.6 M453.9,1336.9 l6.6,6.6 M453.9,1343.5 l6.6,-6.6 M465.4,1336.9 l6.6,6.6 M465.4,1343.5 l6.6,-6.6 M476.9,1336.9 l6.6,6.6 M476.9,1343.5 l6.6,-6.6 M523.0,1336.9 l6.6,6.6 M523.0,1343.5 l6.6,-6.6 M580.5,1336.9 l6.6,6.6 M580.5,1343.5 l6.6,-6.6 M592.0,1336.9 l6.6,6.6 M592.0,1343.5 l6.6,-6.6 M603.6,1336.9 l6.6,6.6 M603.6,1343.5 l6.6,-6.6 M615.1,1336.9 l6.6,6.6 M615.1,1343.5 l6.6,-6.6 M626.6,1336.9 l6.6,6.6 M626.6,1343.5 l6.6,-6.6 M638.1,1336.9 l6.6,6.6 M638.1,1343.5 l6.6,-6.6 M649.6,1336.9 l6.6,6.6 M649.6,1343.5 l6.6,-6.6 M661.1,1336.9 l6.6,6.6 M661.1,1343.5 l6.6,-6.6 M672.6,1336.9 l6.6,6.6 M672.6,1343.5 l6.6,-6.6 M684.2,1336.9 l6.6,6.6 M684.2,1343.5 l6.6,-6.6 M695.7,1336.9 l6.6,6.6 M695.7,1343.5 l6.6,-6.6 M707.2,1336.9 l6.6,6.6 M707.2,1343.5 l6.6,-6.6 M718.7,1336.9 l6.6,6.6 M718.7,1343.5 l6.6,-6.6 M741.7,1336.9 l6.6,6.6 M741.7,1343.5 l6.6,-6.6 M753.2,1336.9 l6.6,6.6 M753.2,1343.5 l6.6,-6.6 M764.8,1336.9 l6.6,6.6 M764.8,1343.5 l6.6,-6.6 M776.3,1336.9 l6.6,6.6 M776.3,1343.5 l6.6,-6.6 M787.8,1336.9 l6.6,6.6 M787.8,1343.5 l6.6,-6.6 M799.3,1336.9 l6.6,6.6 M799.3,1343.5 l6.6,-6.6 M810.8,1336.9 l6.6,6.6 M810.8,1343.5 l6.6,-6.6 M822.3,1336.9 l6.6,6.6 M822.3,1343.5 l6.6,-6.6 M833.9,1336.9 l6.6,6.6 M833.9,1343.5 l6.6,-6.6 M163.1,1351.9 l6.6,6.6 M163.1,1358.5 l6.6,-6.6 M175.1,1351.9 l6.6,6.6 M175.1,1358.5 l6.6,-6.6 M187.1,1351.9 l6.6,6.6 M187.1,1358.5 l6.6,-6.6 M199.1,1351.9 l6.6,6.6 M199.1,1358.5 l6.6,-6.6 M211.1,1351.9 l6.6,6.6 M211.1,1358.5 l6.6,-6.6 M223.1,1351.9 l6.6,6.6 M223.1,1358.5 l6.6,-6.6 M235.1,1351.9 l6.6,6.6 M235.1,1358.5 l6.6,-6.6 M259.1,1351.9 l6.6,6.6 M259.1,1358.5 l6.6,-6.6 M271.1,1351.9 l6.6,6.6 M271.1,1358.5 l6.6,-6.6 M283.1,1351.9 l6.6,6.6 M283.1,1358.5 l6.6,-6.6 M295.1,1351.9 l6.6,6.6 M295.1,1358.5 l6.6,-6.6 M307.1,1351.9 l6.6,6.6 M307.1,1358.5 l6.6,-6.6 M319.1,1351.9 l6.6,6.6 M319.1,1358.5 l6.6,-6.6 M403.2,1351.9 l6.6,6.6 M403.2,1358.5 l6.6,-6.6 M415.2,1351.9 l6.6,6.6 M415.2,1358.5 l6.6,-6.6 M427.2,1351.9 l6.6,6.6 M427.2,1358.5 l6.6,-6.6 M439.2,1351.9 l6.6,6.6 M439.2,1358.5 l6.6,-6.6 M451.2,1351.9 l6.6,6.6 M451.2,1358.5 l6.6,-6.6 M463.2,1351.9 l6.6,6.6 M463.2,1358.5 l6.6,-6.6 M475.2,1351.9 l6.6,6.6 M475.2,1358.5 l6.6,-6.6 M535.2,1351.9 l6.6,6.6 M535.2,1358.5 l6.6,-6.6 M547.2,1351.9 l6.6,6.6 M547.2,1358.5 l6.6,-6.6 M559.2,1351.9 l6.6,6.6 M559.2,1358.5 l6.6,-6.6 M571.2,1351.9 l6.6,6.6 M571.2,1358.5 l6.6,-6.6 M583.2,1351.9 l6.6,6.6 M583.2,1358.5 l6.6,-6.6 M595.2,1351.9 l6.6,6.6 M595.2,1358.5 l6.6,-6.6 M607.2,1351.9 l6.6,6.6 M607.2,1358.5 l6.6,-6.6 M619.2,1351.9 l6.6,6.6 M619.2,1358.5 l6.6,-6.6 M631.2,1351.9 l6.6,6.6 M631.2,1358.5 l6.6,-6.6 M643.2,1351.9 l6.6,6.6 M643.2,1358.5 l6.6,-6.6 M655.2,1351.9 l6.6,6.6 M655.2,1358.5 l6.6,-6.6 M667.2,1351.9 l6.6,6.6 M667.2,1358.5 l6.6,-6.6 M679.2,1351.9 l6.6,6.6 M679.2,1358.5 l6.6,-6.6 M691.2,1351.9 l6.6,6.6 M691.2,1358.5 l6.6,-6.6 M703.2,1351.9 l6.6,6.6 M703.2,1358.5 l6.6,-6.6 M715.3,1351.9 l6.6,6.6 M715.3,1358.5 l6.6,-6.6 M727.3,1351.9 l6.6,6.6 M727.3,1358.5 l6.6,-6.6 M799.3,1351.9 l6.6,6.6 M799.3,1358.5 l6.6,-6.6 M811.3,1351.9 l6.6,6.6 M811.3,1358.5 l6.6,-6.6 M823.3,1351.9 l6.6,6.6 M823.3,1358.5 l6.6,-6.6 M835.3,1351.9 l6.6,6.6 M835.3,1358.5 l6.6,-6.6 M847.3,1351.9 l6.6,6.6 M847.3,1358.5 l6.6,-6.6 M859.3,1351.9 l6.6,6.6 M859.3,1358.5 l6.6,-6.6 M871.3,1351.9 l6.6,6.6 M871.3,1358.5 l6.6,-6.6 M162.8,1367.4 l6.6,6.6 M162.8,1374.0 l6.6,-6.6 M175.3,1367.4 l6.6,6.6 M175.3,1374.0 l6.6,-6.6 M187.7,1367.4 l6.6,6.6 M187.7,1374.0 l6.6,-6.6 M200.1,1367.4 l6.6,6.6 M200.1,1374.0 l6.6,-6.6 M212.6,1367.4 l6.6,6.6 M212.6,1374.0 l6.6,-6.6 M225.0,1367.4 l6.6,6.6 M225.0,1374.0 l6.6,-6.6 M237.4,1367.4 l6.6,6.6 M237.4,1374.0 l6.6,-6.6 M249.9,1367.4 l6.6,6.6 M249.9,1374.0 l6.6,-6.6 M262.3,1367.4 l6.6,6.6 M262.3,1374.0 l6.6,-6.6 M274.7,1367.4 l6.6,6.6 M274.7,1374.0 l6.6,-6.6 M386.6,1367.4 l6.6,6.6 M386.6,1374.0 l6.6,-6.6 M399.1,1367.4 l6.6,6.6 M399.1,1374.0 l6.6,-6.6 M411.5,1367.4 l6.6,6.6 M411.5,1374.0 l6.6,-6.6 M423.9,1367.4 l6.6,6.6 M423.9,1374.0 l6.6,-6.6 M436.4,1367.4 l6.6,6.6 M436.4,1374.0 l6.6,-6.6 M448.8,1367.4 l6.6,6.6 M448.8,1374.0 l6.6,-6.6 M461.2,1367.4 l6.6,6.6 M461.2,1374.0 l6.6,-6.6 M473.7,1367.4 l6.6,6.6 M473.7,1374.0 l6.6,-6.6 M573.2,1367.4 l6.6,6.6 M573.2,1374.0 l6.6,-6.6 M585.6,1367.4 l6.6,6.6 M585.6,1374.0 l6.6,-6.6 M598.0,1367.4 l6.6,6.6 M598.0,1374.0 l6.6,-6.6 M610.5,1367.4 l6.6,6.6 M610.5,1374.0 l6.6,-6.6 M622.9,1367.4 l6.6,6.6 M622.9,1374.0 l6.6,-6.6 M635.3,1367.4 l6.6,6.6 M635.3,1374.0 l6.6,-6.6 M672.6,1367.4 l6.6,6.6 M672.6,1374.0 l6.6,-6.6 M685.1,1367.4 l6.6,6.6 M685.1,1374.0 l6.6,-6.6 M697.5,1367.4 l6.6,6.6 M697.5,1374.0 l6.6,-6.6 M709.9,1367.4 l6.6,6.6 M709.9,1374.0 l6.6,-6.6 M722.4,1367.4 l6.6,6.6 M722.4,1374.0 l6.6,-6.6 M734.8,1367.4 l6.6,6.6 M734.8,1374.0 l6.6,-6.6 M747.2,1367.4 l6.6,6.6 M747.2,1374.0 l6.6,-6.6 M216.1,1383.0 l6.6,6.6 M216.1,1389.6 l6.6,-6.6 M228.9,1383.0 l6.6,6.6 M228.9,1389.6 l6.6,-6.6 M241.7,1383.0 l6.6,6.6 M241.7,1389.6 l6.6,-6.6 M254.5,1383.0 l6.6,6.6 M254.5,1389.6 l6.6,-6.6 M267.3,1383.0 l6.6,6.6 M267.3,1389.6 l6.6,-6.6 M280.2,1383.0 l6.6,6.6 M280.2,1389.6 l6.6,-6.6 M369.9,1383.0 l6.6,6.6 M369.9,1389.6 l6.6,-6.6 M382.7,1383.0 l6.6,6.6 M382.7,1389.6 l6.6,-6.6 M395.5,1383.0 l6.6,6.6 M395.5,1389.6 l6.6,-6.6 M408.3,1383.0 l6.6,6.6 M408.3,1389.6 l6.6,-6.6 M421.1,1383.0 l6.6,6.6 M421.1,1389.6 l6.6,-6.6 M433.9,1383.0 l6.6,6.6 M433.9,1389.6 l6.6,-6.6 M446.7,1383.0 l6.6,6.6 M446.7,1389.6 l6.6,-6.6 M459.5,1383.0 l6.6,6.6 M459.5,1389.6 l6.6,-6.6 M472.4,1383.0 l6.6,6.6 M472.4,1389.6 l6.6,-6.6 M574.9,1383.0 l6.6,6.6 M574.9,1389.6 l6.6,-6.6 M613.3,1383.0 l6.6,6.6 M613.3,1389.6 l6.6,-6.6 M626.1,1383.0 l6.6,6.6 M626.1,1389.6 l6.6,-6.6 M664.5,1383.0 l6.6,6.6 M664.5,1389.6 l6.6,-6.6 M677.4,1383.0 l6.6,6.6 M677.4,1389.6 l6.6,-6.6 M690.2,1383.0 l6.6,6.6 M690.2,1389.6 l6.6,-6.6 M703.0,1383.0 l6.6,6.6 M703.0,1389.6 l6.6,-6.6 M715.8,1383.0 l6.6,6.6 M715.8,1389.6 l6.6,-6.6 M728.6,1383.0 l6.6,6.6 M728.6,1389.6 l6.6,-6.6 M741.4,1383.0 l6.6,6.6 M741.4,1389.6 l6.6,-6.6 M208.4,1398.9 l6.6,6.6 M208.4,1405.5 l6.6,-6.6 M221.5,1398.9 l6.6,6.6 M221.5,1405.5 l6.6,-6.6 M234.7,1398.9 l6.6,6.6 M234.7,1405.5 l6.6,-6.6 M247.8,1398.9 l6.6,6.6 M247.8,1405.5 l6.6,-6.6 M261.0,1398.9 l6.6,6.6 M261.0,1405.5 l6.6,-6.6 M274.1,1398.9 l6.6,6.6 M274.1,1405.5 l6.6,-6.6 M287.2,1398.9 l6.6,6.6 M287.2,1405.5 l6.6,-6.6 M300.4,1398.9 l6.6,6.6 M300.4,1405.5 l6.6,-6.6 M313.5,1398.9 l6.6,6.6 M313.5,1405.5 l6.6,-6.6 M352.9,1398.9 l6.6,6.6 M352.9,1405.5 l6.6,-6.6 M366.1,1398.9 l6.6,6.6 M366.1,1405.5 l6.6,-6.6 M379.2,1398.9 l6.6,6.6 M379.2,1405.5 l6.6,-6.6 M392.4,1398.9 l6.6,6.6 M392.4,1405.5 l6.6,-6.6 M405.5,1398.9 l6.6,6.6 M405.5,1405.5 l6.6,-6.6 M418.6,1398.9 l6.6,6.6 M418.6,1405.5 l6.6,-6.6 M431.8,1398.9 l6.6,6.6 M431.8,1405.5 l6.6,-6.6 M444.9,1398.9 l6.6,6.6 M444.9,1405.5 l6.6,-6.6 M458.1,1398.9 l6.6,6.6 M458.1,1405.5 l6.6,-6.6 M563.2,1398.9 l6.6,6.6 M563.2,1405.5 l6.6,-6.6 M615.8,1398.9 l6.6,6.6 M615.8,1405.5 l6.6,-6.6 M628.9,1398.9 l6.6,6.6 M628.9,1405.5 l6.6,-6.6 M642.0,1398.9 l6.6,6.6 M642.0,1405.5 l6.6,-6.6 M668.3,1398.9 l6.6,6.6 M668.3,1405.5 l6.6,-6.6 M681.5,1398.9 l6.6,6.6 M681.5,1405.5 l6.6,-6.6 M694.6,1398.9 l6.6,6.6 M694.6,1405.5 l6.6,-6.6 M707.7,1398.9 l6.6,6.6 M707.7,1405.5 l6.6,-6.6 M720.9,1398.9 l6.6,6.6 M720.9,1405.5 l6.6,-6.6 M734.0,1398.9 l6.6,6.6 M734.0,1405.5 l6.6,-6.6 M747.2,1398.9 l6.6,6.6 M747.2,1405.5 l6.6,-6.6 M228.9,1414.8 l6.6,6.6 M228.9,1421.4 l6.6,-6.6 M255.7,1414.8 l6.6,6.6 M255.7,1421.4 l6.6,-6.6 M269.1,1414.8 l6.6,6.6 M269.1,1421.4 l6.6,-6.6 M282.5,1414.8 l6.6,6.6 M282.5,1421.4 l6.6,-6.6 M295.9,1414.8 l6.6,6.6 M295.9,1421.4 l6.6,-6.6 M309.3,1414.8 l6.6,6.6 M309.3,1421.4 l6.6,-6.6 M349.6,1414.8 l6.6,6.6 M349.6,1421.4 l6.6,-6.6 M363.0,1414.8 l6.6,6.6 M363.0,1421.4 l6.6,-6.6 M376.4,1414.8 l6.6,6.6 M376.4,1421.4 l6.6,-6.6 M389.8,1414.8 l6.6,6.6 M389.8,1421.4 l6.6,-6.6 M403.2,1414.8 l6.6,6.6 M403.2,1421.4 l6.6,-6.6 M416.6,1414.8 l6.6,6.6 M416.6,1421.4 l6.6,-6.6 M430.0,1414.8 l6.6,6.6 M430.0,1421.4 l6.6,-6.6 M497.1,1414.8 l6.6,6.6 M497.1,1421.4 l6.6,-6.6 M591.0,1414.8 l6.6,6.6 M591.0,1421.4 l6.6,-6.6 M604.4,1414.8 l6.6,6.6 M604.4,1421.4 l6.6,-6.6 M617.8,1414.8 l6.6,6.6 M617.8,1421.4 l6.6,-6.6 M631.2,1414.8 l6.6,6.6 M631.2,1421.4 l6.6,-6.6 M644.6,1414.8 l6.6,6.6 M644.6,1421.4 l6.6,-6.6 M684.8,1414.8 l6.6,6.6 M684.8,1421.4 l6.6,-6.6 M698.3,1414.8 l6.6,6.6 M698.3,1421.4 l6.6,-6.6 M711.7,1414.8 l6.6,6.6 M711.7,1421.4 l6.6,-6.6 M725.1,1414.8 l6.6,6.6 M725.1,1421.4 l6.6,-6.6 M738.5,1414.8 l6.6,6.6 M738.5,1421.4 l6.6,-6.6 M819.0,1414.8 l6.6,6.6 M819.0,1421.4 l6.6,-6.6 M832.4,1414.8 l6.6,6.6 M832.4,1421.4 l6.6,-6.6 M169.8,1430.7 l6.6,6.6 M169.8,1437.3 l6.6,-6.6 M183.4,1430.7 l6.6,6.6 M183.4,1437.3 l6.6,-6.6 M197.0,1430.7 l6.6,6.6 M197.0,1437.3 l6.6,-6.6 M237.9,1430.7 l6.6,6.6 M237.9,1437.3 l6.6,-6.6 M360.5,1430.7 l6.6,6.6 M360.5,1437.3 l6.6,-6.6 M483.1,1430.7 l6.6,6.6 M483.1,1437.3 l6.6,-6.6 M496.8,1430.7 l6.6,6.6 M496.8,1437.3 l6.6,-6.6 M578.5,1430.7 l6.6,6.6 M578.5,1437.3 l6.6,-6.6 M592.1,1430.7 l6.6,6.6 M592.1,1437.3 l6.6,-6.6 M605.8,1430.7 l6.6,6.6 M605.8,1437.3 l6.6,-6.6 M619.4,1430.7 l6.6,6.6 M619.4,1437.3 l6.6,-6.6 M633.0,1430.7 l6.6,6.6 M633.0,1437.3 l6.6,-6.6 M701.1,1430.7 l6.6,6.6 M701.1,1437.3 l6.6,-6.6 M714.8,1430.7 l6.6,6.6 M714.8,1437.3 l6.6,-6.6 M728.4,1430.7 l6.6,6.6 M728.4,1437.3 l6.6,-6.6 M796.5,1430.7 l6.6,6.6 M796.5,1437.3 l6.6,-6.6 M810.1,1430.7 l6.6,6.6 M810.1,1437.3 l6.6,-6.6 M823.8,1430.7 l6.6,6.6 M823.8,1437.3 l6.6,-6.6 M138.2,1446.7 l6.6,6.6 M138.2,1453.3 l6.6,-6.6 M152.0,1446.7 l6.6,6.6 M152.0,1453.3 l6.6,-6.6 M165.8,1446.7 l6.6,6.6 M165.8,1453.3 l6.6,-6.6 M179.6,1446.7 l6.6,6.6 M179.6,1453.3 l6.6,-6.6 M193.3,1446.7 l6.6,6.6 M193.3,1453.3 l6.6,-6.6 M207.1,1446.7 l6.6,6.6 M207.1,1453.3 l6.6,-6.6 M482.7,1446.7 l6.6,6.6 M482.7,1453.3 l6.6,-6.6 M496.5,1446.7 l6.6,6.6 M496.5,1453.3 l6.6,-6.6 M551.7,1446.7 l6.6,6.6 M551.7,1453.3 l6.6,-6.6 M565.4,1446.7 l6.6,6.6 M565.4,1453.3 l6.6,-6.6 M579.2,1446.7 l6.6,6.6 M579.2,1453.3 l6.6,-6.6 M593.0,1446.7 l6.6,6.6 M593.0,1453.3 l6.6,-6.6 M606.8,1446.7 l6.6,6.6 M606.8,1453.3 l6.6,-6.6 M620.6,1446.7 l6.6,6.6 M620.6,1453.3 l6.6,-6.6 M634.3,1446.7 l6.6,6.6 M634.3,1453.3 l6.6,-6.6 M648.1,1446.7 l6.6,6.6 M648.1,1453.3 l6.6,-6.6 M107.1,1462.6 l6.6,6.6 M107.1,1469.2 l6.6,-6.6 M121.0,1462.6 l6.6,6.6 M121.0,1469.2 l6.6,-6.6 M134.9,1462.6 l6.6,6.6 M134.9,1469.2 l6.6,-6.6 M148.8,1462.6 l6.6,6.6 M148.8,1469.2 l6.6,-6.6 M162.7,1462.6 l6.6,6.6 M162.7,1469.2 l6.6,-6.6 M176.6,1462.6 l6.6,6.6 M176.6,1469.2 l6.6,-6.6 M190.5,1462.6 l6.6,6.6 M190.5,1469.2 l6.6,-6.6 M482.4,1462.6 l6.6,6.6 M482.4,1469.2 l6.6,-6.6 M496.3,1462.6 l6.6,6.6 M496.3,1469.2 l6.6,-6.6 M510.2,1462.6 l6.6,6.6 M510.2,1469.2 l6.6,-6.6 M538.1,1462.6 l6.6,6.6 M538.1,1469.2 l6.6,-6.6 M552.0,1462.6 l6.6,6.6 M552.0,1469.2 l6.6,-6.6 M565.9,1462.6 l6.6,6.6 M565.9,1469.2 l6.6,-6.6 M579.8,1462.6 l6.6,6.6 M579.8,1469.2 l6.6,-6.6 M593.7,1462.6 l6.6,6.6 M593.7,1469.2 l6.6,-6.6 M607.6,1462.6 l6.6,6.6 M607.6,1469.2 l6.6,-6.6 M621.5,1462.6 l6.6,6.6 M621.5,1469.2 l6.6,-6.6 M635.4,1462.6 l6.6,6.6 M635.4,1469.2 l6.6,-6.6 M132.4,1478.6 l6.6,6.6 M132.4,1485.2 l6.6,-6.6 M146.4,1478.6 l6.6,6.6 M146.4,1485.2 l6.6,-6.6 M160.3,1478.6 l6.6,6.6 M160.3,1485.2 l6.6,-6.6 M174.3,1478.6 l6.6,6.6 M174.3,1485.2 l6.6,-6.6 M482.2,1478.6 l6.6,6.6 M482.2,1485.2 l6.6,-6.6 M496.2,1478.6 l6.6,6.6 M496.2,1485.2 l6.6,-6.6 M510.2,1478.6 l6.6,6.6 M510.2,1485.2 l6.6,-6.6 M524.2,1478.6 l6.6,6.6 M524.2,1485.2 l6.6,-6.6 M538.2,1478.6 l6.6,6.6 M538.2,1485.2 l6.6,-6.6 M552.2,1478.6 l6.6,6.6 M552.2,1485.2 l6.6,-6.6 M566.2,1478.6 l6.6,6.6 M566.2,1485.2 l6.6,-6.6 M580.2,1478.6 l6.6,6.6 M580.2,1485.2 l6.6,-6.6 M594.2,1478.6 l6.6,6.6 M594.2,1485.2 l6.6,-6.6 M608.2,1478.6 l6.6,6.6 M608.2,1485.2 l6.6,-6.6 M622.2,1478.6 l6.6,6.6 M622.2,1485.2 l6.6,-6.6 M636.2,1478.6 l6.6,6.6 M636.2,1485.2 l6.6,-6.6 M734.1,1478.6 l6.6,6.6 M734.1,1485.2 l6.6,-6.6 M776.1,1478.6 l6.6,6.6 M776.1,1485.2 l6.6,-6.6 M804.1,1478.6 l6.6,6.6 M804.1,1485.2 l6.6,-6.6 M818.1,1478.6 l6.6,6.6 M818.1,1485.2 l6.6,-6.6 M144.7,1494.5 l6.6,6.6 M144.7,1501.1 l6.6,-6.6 M158.8,1494.5 l6.6,6.6 M158.8,1501.1 l6.6,-6.6 M172.9,1494.5 l6.6,6.6 M172.9,1501.1 l6.6,-6.6 M186.9,1494.5 l6.6,6.6 M186.9,1501.1 l6.6,-6.6 M341.5,1494.5 l6.6,6.6 M341.5,1501.1 l6.6,-6.6 M510.2,1494.5 l6.6,6.6 M510.2,1501.1 l6.6,-6.6 M524.2,1494.5 l6.6,6.6 M524.2,1501.1 l6.6,-6.6 M538.3,1494.5 l6.6,6.6 M538.3,1501.1 l6.6,-6.6 M552.3,1494.5 l6.6,6.6 M552.3,1501.1 l6.6,-6.6 M566.4,1494.5 l6.6,6.6 M566.4,1501.1 l6.6,-6.6 M580.4,1494.5 l6.6,6.6 M580.4,1501.1 l6.6,-6.6 M594.5,1494.5 l6.6,6.6 M594.5,1501.1 l6.6,-6.6 M608.6,1494.5 l6.6,6.6 M608.6,1501.1 l6.6,-6.6 M622.6,1494.5 l6.6,6.6 M622.6,1501.1 l6.6,-6.6 M636.7,1494.5 l6.6,6.6 M636.7,1501.1 l6.6,-6.6 M805.3,1494.5 l6.6,6.6 M805.3,1501.1 l6.6,-6.6 M200.2,1510.5 l6.6,6.6 M200.2,1517.1 l6.6,-6.6 M214.3,1510.5 l6.6,6.6 M214.3,1517.1 l6.6,-6.6 M228.4,1510.5 l6.6,6.6 M228.4,1517.1 l6.6,-6.6 M327.0,1510.5 l6.6,6.6 M327.0,1517.1 l6.6,-6.6 M341.1,1510.5 l6.6,6.6 M341.1,1517.1 l6.6,-6.6 M355.2,1510.5 l6.6,6.6 M355.2,1517.1 l6.6,-6.6 M369.3,1510.5 l6.6,6.6 M369.3,1517.1 l6.6,-6.6 M552.4,1510.5 l6.6,6.6 M552.4,1517.1 l6.6,-6.6 M566.5,1510.5 l6.6,6.6 M566.5,1517.1 l6.6,-6.6 M580.6,1510.5 l6.6,6.6 M580.6,1517.1 l6.6,-6.6 M594.7,1510.5 l6.6,6.6 M594.7,1517.1 l6.6,-6.6 M608.8,1510.5 l6.6,6.6 M608.8,1517.1 l6.6,-6.6 M622.9,1510.5 l6.6,6.6 M622.9,1517.1 l6.6,-6.6 M636.9,1510.5 l6.6,6.6 M636.9,1517.1 l6.6,-6.6 M17.1,1526.4 l6.6,6.6 M17.1,1533.0 l6.6,-6.6 M186.1,1526.4 l6.6,6.6 M186.1,1533.0 l6.6,-6.6 M200.2,1526.4 l6.6,6.6 M200.2,1533.0 l6.6,-6.6 M214.3,1526.4 l6.6,6.6 M214.3,1533.0 l6.6,-6.6 M228.4,1526.4 l6.6,6.6 M228.4,1533.0 l6.6,-6.6 M242.5,1526.4 l6.6,6.6 M242.5,1533.0 l6.6,-6.6 M327.0,1526.4 l6.6,6.6 M327.0,1533.0 l6.6,-6.6 M341.1,1526.4 l6.6,6.6 M341.1,1533.0 l6.6,-6.6 M355.2,1526.4 l6.6,6.6 M355.2,1533.0 l6.6,-6.6 M369.3,1526.4 l6.6,6.6 M369.3,1533.0 l6.6,-6.6 M383.4,1526.4 l6.6,6.6 M383.4,1533.0 l6.6,-6.6 M397.5,1526.4 l6.6,6.6 M397.5,1533.0 l6.6,-6.6 M552.4,1526.4 l6.6,6.6 M552.4,1533.0 l6.6,-6.6 M566.5,1526.4 l6.6,6.6 M566.5,1533.0 l6.6,-6.6 M580.6,1526.4 l6.6,6.6 M580.6,1533.0 l6.6,-6.6 M594.7,1526.4 l6.6,6.6 M594.7,1533.0 l6.6,-6.6 M608.8,1526.4 l6.6,6.6 M608.8,1533.0 l6.6,-6.6 M622.9,1526.4 l6.6,6.6 M622.9,1533.0 l6.6,-6.6 M834.2,1526.4 l6.6,6.6 M834.2,1533.0 l6.6,-6.6 M172.9,1542.4 l6.6,6.6 M172.9,1549.0 l6.6,-6.6 M186.9,1542.4 l6.6,6.6 M186.9,1549.0 l6.6,-6.6 M201.0,1542.4 l6.6,6.6 M201.0,1549.0 l6.6,-6.6 M215.0,1542.4 l6.6,6.6 M215.0,1549.0 l6.6,-6.6 M229.1,1542.4 l6.6,6.6 M229.1,1549.0 l6.6,-6.6 M243.1,1542.4 l6.6,6.6 M243.1,1549.0 l6.6,-6.6 M257.2,1542.4 l6.6,6.6 M257.2,1549.0 l6.6,-6.6 M271.2,1542.4 l6.6,6.6 M271.2,1549.0 l6.6,-6.6 M313.4,1542.4 l6.6,6.6 M313.4,1549.0 l6.6,-6.6 M327.5,1542.4 l6.6,6.6 M327.5,1549.0 l6.6,-6.6 M341.5,1542.4 l6.6,6.6 M341.5,1549.0 l6.6,-6.6 M355.6,1542.4 l6.6,6.6 M355.6,1549.0 l6.6,-6.6 M369.6,1542.4 l6.6,6.6 M369.6,1549.0 l6.6,-6.6 M383.7,1542.4 l6.6,6.6 M383.7,1549.0 l6.6,-6.6 M397.7,1542.4 l6.6,6.6 M397.7,1549.0 l6.6,-6.6 M411.8,1542.4 l6.6,6.6 M411.8,1549.0 l6.6,-6.6 M566.4,1542.4 l6.6,6.6 M566.4,1549.0 l6.6,-6.6 M580.4,1542.4 l6.6,6.6 M580.4,1549.0 l6.6,-6.6 M594.5,1542.4 l6.6,6.6 M594.5,1549.0 l6.6,-6.6 M608.6,1542.4 l6.6,6.6 M608.6,1549.0 l6.6,-6.6 M622.6,1542.4 l6.6,6.6 M622.6,1549.0 l6.6,-6.6 M146.4,1558.3 l6.6,6.6 M146.4,1564.9 l6.6,-6.6 M160.3,1558.3 l6.6,6.6 M160.3,1564.9 l6.6,-6.6 M174.3,1558.3 l6.6,6.6 M174.3,1564.9 l6.6,-6.6 M188.3,1558.3 l6.6,6.6 M188.3,1564.9 l6.6,-6.6 M202.3,1558.3 l6.6,6.6 M202.3,1564.9 l6.6,-6.6 M216.3,1558.3 l6.6,6.6 M216.3,1564.9 l6.6,-6.6 M230.3,1558.3 l6.6,6.6 M230.3,1564.9 l6.6,-6.6 M244.3,1558.3 l6.6,6.6 M244.3,1564.9 l6.6,-6.6 M258.3,1558.3 l6.6,6.6 M258.3,1564.9 l6.6,-6.6 M272.3,1558.3 l6.6,6.6 M272.3,1564.9 l6.6,-6.6 M286.3,1558.3 l6.6,6.6 M286.3,1564.9 l6.6,-6.6 M300.3,1558.3 l6.6,6.6 M300.3,1564.9 l6.6,-6.6 M314.3,1558.3 l6.6,6.6 M314.3,1564.9 l6.6,-6.6 M328.3,1558.3 l6.6,6.6 M328.3,1564.9 l6.6,-6.6 M342.3,1558.3 l6.6,6.6 M342.3,1564.9 l6.6,-6.6 M356.3,1558.3 l6.6,6.6 M356.3,1564.9 l6.6,-6.6 M370.3,1558.3 l6.6,6.6 M370.3,1564.9 l6.6,-6.6 M384.3,1558.3 l6.6,6.6 M384.3,1564.9 l6.6,-6.6 M398.2,1558.3 l6.6,6.6 M398.2,1564.9 l6.6,-6.6 M566.2,1558.3 l6.6,6.6 M566.2,1564.9 l6.6,-6.6 M580.2,1558.3 l6.6,6.6 M580.2,1564.9 l6.6,-6.6 M594.2,1558.3 l6.6,6.6 M594.2,1564.9 l6.6,-6.6 M608.2,1558.3 l6.6,6.6 M608.2,1564.9 l6.6,-6.6 M622.2,1558.3 l6.6,6.6 M622.2,1564.9 l6.6,-6.6 M706.1,1558.3 l6.6,6.6 M706.1,1564.9 l6.6,-6.6 M148.8,1574.3 l6.6,6.6 M148.8,1580.9 l6.6,-6.6 M162.7,1574.3 l6.6,6.6 M162.7,1580.9 l6.6,-6.6 M176.6,1574.3 l6.6,6.6 M176.6,1580.9 l6.6,-6.6 M190.5,1574.3 l6.6,6.6 M190.5,1580.9 l6.6,-6.6 M204.4,1574.3 l6.6,6.6 M204.4,1580.9 l6.6,-6.6 M218.3,1574.3 l6.6,6.6 M218.3,1580.9 l6.6,-6.6 M232.2,1574.3 l6.6,6.6 M232.2,1580.9 l6.6,-6.6 M246.1,1574.3 l6.6,6.6 M246.1,1580.9 l6.6,-6.6 M260.0,1574.3 l6.6,6.6 M260.0,1580.9 l6.6,-6.6 M287.8,1574.3 l6.6,6.6 M287.8,1580.9 l6.6,-6.6 M301.7,1574.3 l6.6,6.6 M301.7,1580.9 l6.6,-6.6 M315.6,1574.3 l6.6,6.6 M315.6,1580.9 l6.6,-6.6 M329.5,1574.3 l6.6,6.6 M329.5,1580.9 l6.6,-6.6 M343.4,1574.3 l6.6,6.6 M343.4,1580.9 l6.6,-6.6 M357.3,1574.3 l6.6,6.6 M357.3,1580.9 l6.6,-6.6 M371.2,1574.3 l6.6,6.6 M371.2,1580.9 l6.6,-6.6 M399.0,1574.3 l6.6,6.6 M399.0,1580.9 l6.6,-6.6 M565.9,1574.3 l6.6,6.6 M565.9,1580.9 l6.6,-6.6 M579.8,1574.3 l6.6,6.6 M579.8,1580.9 l6.6,-6.6 M593.7,1574.3 l6.6,6.6 M593.7,1580.9 l6.6,-6.6 M607.6,1574.3 l6.6,6.6 M607.6,1580.9 l6.6,-6.6 M621.5,1574.3 l6.6,6.6 M621.5,1580.9 l6.6,-6.6 M746.6,1574.3 l6.6,6.6 M746.6,1580.9 l6.6,-6.6 M913.4,1574.3 l6.6,6.6 M913.4,1580.9 l6.6,-6.6 M138.2,1590.2 l6.6,6.6 M138.2,1596.8 l6.6,-6.6 M152.0,1590.2 l6.6,6.6 M152.0,1596.8 l6.6,-6.6 M165.8,1590.2 l6.6,6.6 M165.8,1596.8 l6.6,-6.6 M179.6,1590.2 l6.6,6.6 M179.6,1596.8 l6.6,-6.6 M193.3,1590.2 l6.6,6.6 M193.3,1596.8 l6.6,-6.6 M207.1,1590.2 l6.6,6.6 M207.1,1596.8 l6.6,-6.6 M220.9,1590.2 l6.6,6.6 M220.9,1596.8 l6.6,-6.6 M234.7,1590.2 l6.6,6.6 M234.7,1596.8 l6.6,-6.6 M303.6,1590.2 l6.6,6.6 M303.6,1596.8 l6.6,-6.6 M317.4,1590.2 l6.6,6.6 M317.4,1596.8 l6.6,-6.6 M331.2,1590.2 l6.6,6.6 M331.2,1596.8 l6.6,-6.6 M344.9,1590.2 l6.6,6.6 M344.9,1596.8 l6.6,-6.6 M358.7,1590.2 l6.6,6.6 M358.7,1596.8 l6.6,-6.6 M648.1,1590.2 l6.6,6.6 M648.1,1596.8 l6.6,-6.6 M758.4,1590.2 l6.6,6.6 M758.4,1596.8 l6.6,-6.6 M896.2,1590.2 l6.6,6.6 M896.2,1596.8 l6.6,-6.6 M910.0,1590.2 l6.6,6.6 M910.0,1596.8 l6.6,-6.6 M142.5,1606.2 l6.6,6.6 M142.5,1612.8 l6.6,-6.6 M156.1,1606.2 l6.6,6.6 M156.1,1612.8 l6.6,-6.6 M169.8,1606.2 l6.6,6.6 M169.8,1612.8 l6.6,-6.6 M728.4,1606.2 l6.6,6.6 M728.4,1612.8 l6.6,-6.6 M742.0,1606.2 l6.6,6.6 M742.0,1612.8 l6.6,-6.6 M891.9,1606.2 l6.6,6.6 M891.9,1612.8 l6.6,-6.6 M905.5,1606.2 l6.6,6.6 M905.5,1612.8 l6.6,-6.6 M919.1,1606.2 l6.6,6.6 M919.1,1612.8 l6.6,-6.6 M711.7,1622.1 l6.6,6.6 M711.7,1628.7 l6.6,-6.6 M725.1,1622.1 l6.6,6.6 M725.1,1628.7 l6.6,-6.6 M738.5,1622.1 l6.6,6.6 M738.5,1628.7 l6.6,-6.6 M751.9,1622.1 l6.6,6.6 M751.9,1628.7 l6.6,-6.6 M886.0,1622.1 l6.6,6.6 M886.0,1628.7 l6.6,-6.6 M912.8,1622.1 l6.6,6.6 M912.8,1628.7 l6.6,-6.6 M401.9,1714.6 l6.6,6.6 M401.9,1721.2 l6.6,-6.6 M407.8,1728.6 l6.6,6.6 M407.8,1735.2 l6.6,-6.6 " stroke="#111" stroke-width="0.95" fill="none"/>
<path d="M163.0,1316.8 L174.9,1314.3 L181.0,1313.0 L177.6,1309.4 L188.4,1306.1 L207.2,1301.7 L215.7,1302.7 L234.2,1305.3 L243.9,1307.5 L261.8,1304.2 L271.9,1306.1 L283.5,1308.9 L296.7,1310.2 L309.1,1310.2 L320.4,1311.6 L327.9,1307.5 L333.0,1306.1 L338.1,1310.2 L345.3,1306.1 L352.5,1307.5 L351.7,1311.6 L338.3,1315.7 L333.2,1319.9 L319.4,1324.2 L308.8,1332.8 L308.2,1337.2 L312.3,1341.7 L320.9,1346.7 L327.5,1347.6 L324.4,1353.7 L328.2,1358.3 L333.0,1350.7 L341.6,1343.2 L342.5,1337.2 L346.9,1331.3 L348.8,1326.2 L359.3,1327.0 L364.4,1329.9 L365.3,1337.2 L374.1,1332.8 L377.7,1340.2 L379.9,1346.1 L384.7,1352.2 L385.5,1356.8 L376.7,1361.3 L361.4,1362.9 L353.0,1366.0 L359.9,1367.5 L359.6,1372.2 L367.3,1375.3 L358.3,1380.0 L352.8,1381.6 L351.2,1378.4 L342.1,1383.2 L339.3,1387.9 L328.7,1392.6 L322.5,1400.6 L319.4,1406.9 L312.4,1413.3 L302.4,1421.3 L302.2,1435.6 L299.8,1441.4 L296.4,1437.2 L295.8,1429.2 L293.1,1426.1 L288.0,1425.1 L279.6,1426.1 L276.2,1429.2 L265.7,1427.6 L256.2,1434.0 L251.8,1450.0 L254.2,1461.1 L259.5,1463.4 L268.0,1461.8 L270.4,1454.8 L280.3,1453.2 L277.4,1464.3 L273.9,1470.7 L286.3,1471.3 L286.4,1486.7 L290.2,1493.0 L297.3,1491.4 L302.8,1494.6 L302.6,1499.4 L298.6,1493.7 L294.2,1497.8 L287.3,1495.3 L280.5,1489.9 L275.7,1480.3 L266.2,1477.1 L258.5,1470.7 L250.1,1471.3 L236.9,1465.9 L228.3,1458.0 L229.7,1450.0 L224.5,1441.0 L215.6,1427.6 L212.3,1421.3 L213.8,1429.2 L217.1,1443.6 L219.0,1448.4 L213.1,1442.6 L208.9,1432.4 L206.7,1418.1 L199.6,1411.7 L199.1,1403.7 L199.2,1392.6 L209.2,1375.3 L216.2,1368.2 L214.6,1362.9 L210.8,1358.3 L212.1,1349.1 L213.3,1338.7 L208.4,1334.3 L196.3,1332.8 L187.6,1330.5 L175.1,1335.7 L165.8,1340.2 L153.4,1343.2 L139.1,1347.6 L130.5,1349.1 L152.0,1340.2 L162.0,1336.3 L152.4,1335.7 L152.6,1329.9 L159.8,1324.2 L172.1,1321.3 L164.2,1319.0 Z M389.0,1284.1 L402.3,1279.1 L418.7,1276.3 L445.4,1274.4 L470.9,1273.5 L486.6,1276.3 L490.7,1280.1 L483.7,1287.2 L484.0,1294.4 L477.1,1299.6 L475.9,1304.8 L464.9,1308.9 L451.7,1311.6 L441.9,1316.3 L434.8,1318.4 L423.7,1332.8 L413.5,1329.9 L410.1,1321.3 L409.4,1313.0 L411.1,1304.8 L411.3,1297.0 L408.4,1289.5 L393.4,1289.5 Z M365.6,1295.7 L373.3,1298.3 L382.7,1304.8 L390.6,1313.0 L383.4,1318.4 L375.5,1325.6 L367.5,1324.2 L361.2,1319.9 L353.4,1318.4 L367.5,1313.0 L362.5,1304.8 L348.3,1304.8 L344.7,1299.6 L355.9,1295.7 Z M287.5,1299.6 L306.1,1297.0 L315.8,1297.0 L313.8,1304.8 L297.9,1308.9 L286.2,1306.1 Z M353.6,1288.3 L372.2,1288.3 L386.9,1282.4 L409.3,1277.3 L403.7,1274.4 L377.5,1275.4 L359.3,1280.1 Z M273.6,1299.6 L290.6,1293.7 L297.8,1295.7 L281.1,1301.7 Z M338.3,1291.9 L355.5,1290.0 L369.1,1291.4 L363.4,1293.7 L344.2,1293.7 Z M302.0,1290.7 L320.3,1288.3 L322.7,1290.7 L310.3,1293.2 Z M302.8,1494.6 L310.2,1486.7 L318.9,1483.5 L319.9,1488.3 L330.0,1485.1 L341.0,1488.3 L348.0,1488.3 L351.9,1494.6 L360.1,1502.6 L374.1,1505.8 L379.6,1518.6 L385.2,1524.9 L396.5,1529.7 L407.8,1531.3 L416.3,1537.7 L422.1,1544.1 L420.9,1553.6 L414.2,1563.2 L412.0,1576.0 L408.6,1588.7 L404.8,1595.1 L396.8,1598.3 L387.8,1604.7 L388.1,1612.7 L383.0,1620.6 L377.8,1630.2 L370.2,1632.8 L365.8,1630.2 L370.0,1638.2 L368.8,1644.5 L358.7,1646.1 L352.5,1652.4 L357.8,1657.2 L355.0,1665.1 L351.0,1668.2 L356.9,1674.4 L352.9,1683.7 L356.1,1688.3 L366.1,1695.3 L358.5,1696.8 L349.7,1692.8 L341.0,1686.7 L333.3,1674.4 L332.5,1661.9 L329.5,1649.3 L328.2,1639.8 L328.4,1623.8 L326.5,1611.1 L326.9,1595.1 L325.4,1580.8 L317.2,1574.4 L308.1,1566.4 L301.6,1553.6 L296.1,1544.1 L291.9,1537.7 L294.3,1529.7 L293.5,1521.8 L297.9,1517.0 L300.8,1512.2 L302.9,1504.2 Z M504.6,1407.6 L515.2,1409.5 L528.4,1404.4 L546.8,1403.1 L549.9,1414.9 L560.8,1418.7 L574.4,1422.9 L574.1,1417.1 L587.7,1419.7 L598.7,1422.9 L606.7,1422.2 L613.0,1432.4 L618.1,1445.2 L623.6,1454.8 L627.5,1464.3 L635.0,1474.5 L641.8,1483.5 L646.7,1488.3 L663.3,1483.5 L663.6,1488.3 L655.6,1505.8 L644.5,1518.6 L636.0,1528.1 L630.2,1540.9 L634.0,1556.8 L633.5,1569.6 L620.4,1582.4 L616.8,1596.7 L610.2,1604.7 L607.3,1614.3 L595.5,1627.0 L587.2,1630.2 L573.7,1632.8 L569.3,1630.2 L569.0,1622.2 L561.5,1606.3 L560.5,1591.9 L553.9,1577.6 L558.3,1560.0 L554.8,1540.9 L545.9,1524.9 L548.1,1512.2 L543.0,1507.4 L534.6,1502.6 L523.3,1503.2 L512.1,1505.8 L499.4,1507.7 L488.2,1499.4 L478.4,1488.3 L473.5,1480.3 L471.6,1474.5 L475.3,1461.1 L473.5,1454.8 L479.9,1443.6 L485.1,1433.4 L494.0,1426.1 L495.0,1418.1 Z M658.6,1560.0 L661.3,1571.2 L650.9,1599.9 L643.8,1603.1 L640.4,1593.5 L643.4,1582.4 L644.5,1572.8 L651.7,1569.6 Z M496.8,1403.7 L495.7,1398.0 L497.8,1389.5 L496.7,1384.7 L505.2,1382.9 L515.9,1383.5 L517.5,1375.3 L509.3,1369.1 L516.8,1366.9 L520.5,1364.4 L524.4,1360.4 L530.1,1356.8 L532.4,1352.8 L540.7,1351.3 L539.6,1343.2 L544.6,1339.6 L543.9,1346.1 L548.9,1350.1 L554.5,1351.0 L564.2,1348.5 L569.7,1346.1 L570.1,1340.8 L575.8,1340.2 L573.8,1335.1 L583.7,1333.4 L588.0,1332.8 L576.6,1331.9 L569.8,1331.3 L567.5,1324.2 L573.9,1317.6 L567.2,1316.3 L559.1,1327.0 L558.5,1330.5 L562.9,1333.4 L558.7,1341.7 L554.3,1344.6 L551.0,1346.4 L545.5,1336.3 L538.8,1338.7 L533.0,1335.7 L531.6,1327.6 L537.9,1322.7 L547.9,1314.3 L553.3,1307.5 L563.0,1304.8 L571.5,1302.2 L581.3,1304.8 L587.9,1306.7 L604.6,1310.8 L605.0,1314.9 L594.3,1314.3 L594.8,1319.9 L600.6,1321.3 L606.2,1318.4 L613.4,1314.9 L611.4,1309.4 L620.3,1311.1 L632.0,1309.4 L643.7,1308.0 L651.2,1306.7 L662.0,1309.4 L656.2,1304.8 L652.9,1298.3 L662.2,1297.5 L673.9,1310.2 L668.6,1300.9 L674.1,1299.1 L677.4,1295.7 L687.9,1294.4 L684.4,1290.7 L698.0,1289.5 L709.7,1285.5 L728.2,1288.3 L727.7,1295.7 L738.7,1295.2 L752.5,1297.0 L766.4,1295.7 L780.6,1302.2 L788.8,1300.9 L794.1,1297.5 L818.6,1300.9 L844.7,1304.8 L850.4,1307.5 L865.7,1305.3 L885.3,1307.5 L890.2,1308.0 L905.2,1317.9 L901.9,1319.3 L911.5,1325.6 L904.3,1328.5 L903.3,1332.8 L890.4,1333.4 L892.6,1339.3 L900.9,1344.6 L903.1,1353.7 L901.0,1359.8 L883.4,1344.6 L881.1,1337.2 L882.1,1328.5 L874.4,1327.6 L871.7,1334.9 L855.9,1334.9 L843.1,1335.7 L840.3,1348.5 L853.2,1351.3 L862.9,1359.8 L868.8,1369.1 L864.8,1381.6 L857.4,1384.1 L854.2,1389.5 L852.1,1394.8 L862.6,1406.9 L858.4,1411.1 L853.2,1403.7 L848.6,1401.2 L845.9,1395.5 L837.7,1397.4 L836.3,1392.0 L828.5,1397.4 L833.5,1402.8 L843.2,1403.7 L838.1,1410.1 L848.4,1421.3 L850.7,1426.1 L848.4,1437.2 L842.4,1446.8 L833.5,1450.9 L824.5,1454.8 L820.0,1452.2 L815.7,1459.5 L823.9,1472.3 L826.6,1483.5 L819.4,1489.9 L815.4,1493.7 L814.5,1488.9 L807.5,1483.5 L802.4,1479.6 L800.8,1486.7 L799.3,1492.1 L803.1,1498.8 L809.0,1504.2 L812.1,1513.8 L813.6,1517.6 L806.4,1512.8 L802.8,1504.2 L796.7,1495.6 L796.3,1483.5 L792.5,1470.7 L785.3,1471.3 L782.3,1462.7 L774.6,1453.2 L770.0,1450.6 L760.7,1453.2 L760.0,1458.0 L749.7,1469.1 L744.3,1472.9 L744.8,1486.7 L738.3,1496.2 L733.7,1488.3 L728.7,1477.1 L723.5,1465.9 L721.4,1454.8 L714.0,1454.8 L709.0,1446.8 L702.8,1441.0 L689.1,1441.4 L677.5,1440.4 L674.7,1435.6 L668.0,1436.9 L659.3,1432.4 L655.8,1426.1 L650.5,1426.7 L658.1,1438.8 L661.4,1444.2 L668.9,1444.6 L674.5,1438.2 L676.3,1444.2 L685.4,1450.6 L680.0,1461.1 L673.5,1466.6 L665.4,1470.7 L654.6,1477.1 L646.4,1480.9 L641.7,1481.2 L639.0,1472.3 L631.4,1459.5 L626.6,1450.0 L620.4,1438.8 L615.7,1432.4 L613.9,1433.1 L610.1,1429.2 L608.5,1426.1 L612.9,1421.9 L615.2,1413.3 L615.6,1406.0 L606.5,1406.9 L601.0,1405.3 L594.4,1405.0 L589.8,1399.0 L589.4,1394.2 L595.4,1391.1 L602.8,1388.5 L611.7,1387.9 L620.0,1391.1 L627.4,1389.5 L625.3,1384.7 L616.8,1380.0 L617.8,1372.2 L608.2,1374.4 L605.3,1379.7 L598.1,1373.8 L592.9,1381.6 L592.5,1387.9 L587.9,1392.6 L582.3,1393.6 L580.8,1400.6 L579.9,1405.3 L575.6,1400.6 L571.0,1392.6 L569.3,1387.9 L558.6,1380.6 L554.5,1376.9 L551.7,1380.6 L556.5,1387.9 L561.7,1388.5 L568.3,1393.6 L564.9,1397.4 L563.2,1400.6 L561.3,1394.2 L552.7,1389.5 L546.7,1383.2 L542.1,1380.6 L535.8,1384.4 L528.7,1384.1 L528.7,1388.5 L521.8,1392.6 L519.7,1398.3 L515.2,1404.4 L506.5,1406.3 L502.1,1403.1 Z M150.8,1308.0 L155.8,1311.6 L160.3,1315.7 L150.2,1319.9 L145.6,1317.1 L135.8,1317.9 Z M507.0,1362.9 L524.1,1359.2 L524.6,1354.3 L520.5,1352.2 L515.8,1345.2 L515.9,1339.6 L511.3,1339.3 L513.0,1336.9 L508.6,1337.2 L505.9,1343.2 L509.2,1348.2 L513.4,1350.7 L509.3,1353.7 L510.1,1357.4 Z M506.1,1356.2 L506.3,1349.1 L501.7,1347.0 L496.8,1350.7 L496.8,1357.4 Z M469.4,1317.1 L474.1,1314.6 L486.7,1314.6 L491.4,1318.4 L481.3,1323.0 L471.8,1321.3 Z M622.9,1300.9 L628.2,1294.4 L636.4,1289.5 L646.5,1287.2 L644.8,1290.7 L633.6,1297.0 L631.8,1302.7 Z M540.1,1282.4 L548.5,1280.1 L567.6,1279.7 L560.2,1284.3 L551.9,1287.9 L545.9,1285.3 Z M689.7,1282.4 L692.9,1278.2 L707.5,1282.4 L701.5,1284.8 Z M782.4,1291.9 L787.7,1289.5 L804.3,1291.4 L797.6,1293.2 Z M871.3,1421.9 L872.6,1414.6 L869.7,1413.3 L872.0,1408.8 L880.4,1406.9 L880.9,1402.8 L885.5,1399.0 L882.7,1391.7 L886.1,1391.1 L890.6,1397.4 L890.6,1401.2 L893.9,1408.5 L889.8,1411.1 L885.0,1412.3 L881.8,1414.9 L875.9,1414.9 L874.5,1421.3 Z M882.0,1389.5 L879.1,1384.1 L877.6,1377.2 L889.7,1381.6 L891.9,1384.1 L889.3,1387.9 L881.8,1386.3 Z M877.0,1375.3 L868.0,1362.9 L858.3,1349.8 L866.3,1356.8 L872.8,1364.4 L877.3,1372.2 Z M851.5,1448.4 L853.6,1441.4 L854.3,1451.6 Z M821.9,1460.2 L826.5,1458.0 L827.2,1462.7 Z M745.1,1491.4 L750.4,1497.8 L747.0,1502.6 L744.7,1496.2 Z M855.0,1462.7 L859.8,1463.4 L861.4,1477.1 L867.4,1480.3 L858.7,1477.7 L854.9,1470.7 Z M863.6,1499.4 L872.8,1490.8 L876.2,1499.4 L873.7,1503.6 L869.2,1499.4 Z M788.7,1503.9 L795.0,1505.2 L803.7,1515.4 L812.2,1524.9 L819.1,1531.3 L818.2,1540.6 L813.2,1539.3 L805.1,1529.7 L798.1,1517.0 Z M816.6,1543.4 L825.7,1542.8 L832.7,1542.5 L842.3,1546.6 L841.5,1549.5 L829.6,1547.9 L819.9,1545.4 Z M827.7,1517.0 L833.3,1515.4 L838.8,1510.6 L845.6,1504.2 L849.5,1499.4 L855.5,1504.8 L852.1,1512.2 L852.5,1518.6 L847.8,1532.9 L841.6,1532.9 L833.2,1531.3 L830.5,1526.5 L827.8,1521.8 Z M857.3,1519.2 L861.5,1517.9 L872.8,1517.0 L867.3,1520.5 L860.2,1520.8 L863.0,1524.9 L868.0,1524.9 L863.7,1528.1 L866.3,1536.1 L862.6,1537.1 L860.8,1530.4 L859.1,1539.3 L856.8,1539.3 L855.7,1531.3 Z M889.8,1524.3 L898.2,1524.3 L900.8,1532.3 L909.4,1527.5 L917.8,1530.0 L928.8,1535.5 L936.4,1540.9 L933.9,1543.4 L942.7,1554.6 L933.1,1553.0 L925.2,1546.3 L920.6,1551.1 L911.1,1547.3 L908.8,1540.3 L902.1,1536.1 L895.1,1534.5 L892.4,1530.7 Z M833.6,1591.9 L832.4,1604.7 L830.6,1620.6 L826.9,1631.2 L834.1,1633.4 L850.1,1629.9 L867.6,1622.6 L874.6,1621.9 L879.7,1632.4 L889.8,1626.1 L886.5,1635.0 L888.9,1642.9 L899.1,1643.6 L904.6,1645.5 L915.1,1640.7 L923.3,1630.2 L934.6,1617.4 L939.9,1604.0 L935.9,1593.5 L931.7,1585.5 L926.1,1581.7 L926.1,1569.6 L921.4,1567.4 L920.1,1556.2 L916.6,1563.2 L912.5,1577.6 L907.0,1577.6 L899.8,1571.2 L903.5,1561.0 L893.1,1559.1 L886.6,1561.6 L882.0,1569.6 L875.4,1566.4 L869.1,1571.2 L860.5,1577.6 L855.8,1584.0 L844.1,1587.5 Z M894.8,1651.8 L903.4,1651.8 L900.9,1656.2 L895.1,1660.3 L892.3,1658.8 Z M980.4,1631.8 L981.6,1637.5 L983.1,1641.3 L988.7,1642.0 L981.9,1647.1 L976.6,1652.4 L971.5,1654.0 L975.2,1649.3 L973.5,1647.1 L978.6,1642.9 L979.9,1634.0 Z M968.0,1650.9 L968.9,1654.7 L960.8,1660.3 L952.6,1665.1 L948.1,1668.8 L942.0,1670.0 L938.6,1668.2 L944.9,1663.5 L954.9,1658.8 L961.7,1655.0 Z M286.0,1451.6 L294.8,1447.7 L305.4,1450.6 L313.1,1455.7 L315.1,1457.3 L305.8,1458.6 L304.8,1455.7 L297.0,1451.6 Z M314.0,1462.7 L318.9,1458.3 L326.6,1458.6 L330.7,1462.4 L323.2,1465.0 Z M373.3,1369.7 L385.0,1358.3 L384.7,1362.9 L389.5,1367.5 L388.0,1373.1 L380.6,1372.8 Z M639.3,1378.4 L649.0,1372.2 L654.4,1378.4 L650.5,1383.2 L656.7,1387.9 L660.9,1397.4 L660.1,1403.7 L651.9,1402.2 L648.1,1395.8 L643.8,1387.9 L640.3,1383.2 Z M666.9,1373.8 L673.7,1375.3 L675.5,1381.6 L669.2,1381.6 Z M610.7,1520.8 L616.4,1521.1 L616.3,1528.1 L610.7,1529.7 Z M290.7,1372.8 L303.1,1367.5 L309.1,1370.7 L309.0,1373.8 L302.8,1373.8 L295.2,1373.8 Z M294.9,1387.9 L298.7,1387.9 L306.4,1376.9 L303.0,1375.9 L297.4,1381.6 Z M309.6,1375.3 L318.7,1377.5 L312.5,1384.1 L308.1,1382.2 Z M306.1,1388.8 L318.3,1385.7 L325.6,1383.2 L326.1,1381.6 L318.1,1382.5 L315.5,1386.3 L307.4,1387.3 Z M284.7,1352.2 L290.0,1351.3 L285.7,1361.3 L282.2,1358.3 Z M259.9,1315.7 L272.7,1313.5 L267.8,1318.4 L259.2,1318.4 Z M259.6,1329.9 L272.3,1325.6 L280.0,1325.6 L270.8,1329.9 L263.6,1330.5 Z M335.8,1294.4 L343.5,1294.4 L343.6,1297.5 L332.9,1299.6 Z M323.8,1295.0 L331.5,1295.0 L328.9,1299.6 L321.7,1300.9 L319.4,1298.3 Z M335.2,1317.1 L342.5,1315.7 L346.3,1321.3 L337.4,1325.0 L331.3,1322.7 Z M317.8,1306.1 L325.6,1305.3 L323.9,1308.6 L317.5,1308.9 Z M327.7,1288.3 L339.7,1287.6 L334.5,1291.9 L325.6,1291.4 Z M353.7,1279.1 L365.3,1278.2 L365.6,1282.4 L354.5,1284.3 L349.5,1282.4 Z M292.4,1288.3 L307.0,1286.0 L304.7,1288.8 L293.7,1290.0 Z M332.9,1282.9 L342.4,1282.4 L340.7,1285.3 L331.6,1285.3 Z M208.5,1360.4 L214.6,1362.9 L214.9,1368.2 L211.0,1366.6 Z M205.4,1350.1 L208.0,1350.7 L205.3,1356.2 L204.1,1353.7 Z M165.6,1339.3 L171.3,1338.7 L167.7,1341.7 L162.5,1342.3 Z M854.8,1548.2 L866.1,1548.2 L866.0,1549.8 L854.7,1550.1 Z M867.0,1554.6 L877.3,1548.5 L877.2,1549.8 L868.4,1554.9 Z M879.8,1515.4 L882.6,1517.0 L881.3,1523.3 L879.9,1520.2 Z M881.1,1531.3 L889.5,1532.0 L888.1,1533.2 L881.0,1532.9 Z M849.8,1495.3 L855.4,1485.7 L855.7,1488.3 L851.4,1494.6 Z M868.4,1481.9 L872.9,1486.7 L871.9,1489.9 L869.6,1487.3 Z M862.2,1484.1 L865.7,1485.1 L866.4,1492.4 L864.3,1490.5 Z M938.5,1539.3 L949.1,1535.1 L948.3,1539.3 L939.7,1541.8 Z M974.5,1586.2 L981.0,1592.9 L979.5,1593.2 L974.1,1587.8 Z M541.7,1391.1 L545.6,1391.1 L545.5,1396.7 L542.4,1397.4 Z M542.5,1386.3 L544.8,1384.7 L544.7,1389.5 L542.9,1388.8 Z M553.3,1400.6 L561.4,1399.9 L560.1,1404.7 L553.4,1402.2 Z M582.8,1408.2 L590.3,1409.1 L589.6,1410.1 L583.2,1409.5 Z M606.3,1410.1 L612.0,1408.2 L610.7,1411.1 L607.0,1411.1 Z M303.1,1463.1 L308.9,1463.7 L306.5,1465.0 L303.0,1464.0 Z M334.0,1462.7 L338.4,1463.1 L337.7,1464.3 L333.8,1464.3 Z M372.7,1684.6 L380.6,1684.9 L379.7,1687.3 L373.5,1686.7 Z M346.9,1487.3 L349.7,1487.3 L349.3,1489.5 L346.8,1489.5 Z M161.3,1301.7 L166.7,1300.9 L165.4,1302.2 L159.5,1302.7 Z M876.2,1301.4 L878.3,1300.9 L881.5,1302.7 L879.1,1302.7 Z M365.9,1308.9 L373.0,1307.5 L375.4,1310.2 Z M317.8,1284.8 L324.8,1283.6 L319.8,1286.0 Z M347.1,1286.0 L357.1,1285.3 L356.3,1287.6 L346.2,1288.3 Z M606.1,1279.7 L618.8,1278.2 L631.4,1278.8 L622.1,1280.1 Z M555.4,1279.5 L565.8,1279.5 L568.2,1281.3 L557.6,1281.3 Z M194.7,1758.7 L223.3,1759.4 L244.6,1756.3 L262.5,1750.3 L289.7,1749.1 L319.9,1750.3 L324.3,1745.2 L349.0,1746.5 L368.5,1746.5 L379.2,1745.2 L381.6,1733.3 L387.0,1723.6 L395.2,1720.2 L392.7,1726.4 L392.0,1733.3 L400.0,1743.9 L406.6,1751.6 L430.0,1758.7 L457.1,1758.7 L473.4,1752.8 L491.3,1746.5 L500.5,1741.3 L520.5,1738.7 L540.8,1738.7 L561.0,1738.7 L581.6,1737.4 L597.9,1737.4 L614.3,1731.9 L632.8,1727.8 L639.9,1730.5 L656.0,1731.9 L664.8,1734.6 L668.4,1738.7 L681.2,1734.6 L699.6,1729.2 L720.7,1729.2 L741.8,1729.2 L762.8,1729.2 L783.9,1729.2 L806.5,1727.8 L820.2,1730.5 L829.6,1734.6 L844.7,1738.7 L858.4,1742.6 L841.7,1749.1 L821.6,1757.5 L830.4,1759.4 L846.3,1758.7 M772.1,1358.3 L776.4,1353.7 L778.3,1346.1 M603.0,1532.9 L603.8,1540.9 L607.0,1548.9 M616.0,1552.1 L617.1,1560.0 L618.0,1566.4 M621.3,1507.4 L622.5,1512.8 M601.6,1529.4 L602.8,1527.2 " fill="none" stroke="#000" stroke-width="1.9" stroke-linejoin="round"/>
<path d="M86.2,1454.8 h0.6 M89.3,1459.2 h0.6 M80.2,1451.6 h0.6 M25.7,1579.2 h0.6 M1015.1,1577.6 h0.6 M978.6,1590.3 h0.6 M969.4,1552.1 h0.6 M988.4,1572.8 h0.6 M104.6,1577.9 h0.6 M39.4,1565.5 h0.6 M925.4,1477.1 h0.6 M898.3,1497.8 h0.6 M349.7,1477.1 h0.6 M348.8,1470.7 h0.6 M335.5,1463.7 h0.6 M305.5,1464.0 h0.6 M454.6,1473.9 h0.6 M476.7,1431.5 h0.6 M453.3,1401.2 h0.6 M474.6,1417.4 h0.6 M679.4,1586.2 h0.6 M673.6,1588.7 h0.6 M725.8,1509.0 h0.6 M265.1,1523.3 h0.6 M377.7,1685.8 h0.6 M432.6,1693.7 h0.6 M692.3,1678.4 h0.6 M504.3,1572.8 h0.6 M479.7,1547.3 h0.6 M542.8,1394.8 h0.6 M543.3,1387.9 h0.6 M557.0,1402.2 h0.6 M586.6,1409.5 h0.6 M607.9,1410.1 h0.6 M346.5,1418.7 h0.6 M869.4,1437.2 h0.6 M880.8,1532.0 h0.6 M874.2,1548.9 h0.6 M860.0,1550.5 h0.6 M851.7,1548.9 h0.6 M846.1,1548.9 h0.6 M948.2,1536.1 h0.6 M956.3,1540.9 h0.6 M964.5,1499.4 h0.6 M989.2,1493.0 h0.6 M1004.9,1515.4 h0.6 M127.0,1550.5 h0.6 M222.8,1607.9 h0.6 M73.0,1661.9 h0.6 M553.6,1280.6 h0.6 M620.2,1278.2 h0.6 M482.0,1293.2 h0.6 M125.7,1351.3 h0.6 M116.1,1353.7 h0.6 M106.7,1355.9 h0.6 M98.5,1356.8 h0.6 M90.6,1357.4 h0.6 M953.2,1358.3 h0.6 M944.3,1356.8 h0.6 M934.5,1354.3 h0.6 M893.0,1376.9 h0.6 M896.9,1373.8 h0.6 M898.3,1367.5 h0.6 M900.7,1362.9 h0.6 M871.0,1431.5 h0.6 M862.1,1443.9 h0.6 M307.4,1443.6 h0.6 M311.1,1446.8 h0.6 M317.0,1454.8 h0.6 M307.1,1436.9 h0.6 M348.9,1472.6 h0.6 M349.0,1479.6 h0.6 M353.5,1480.0 h0.6 M345.5,1466.6 h0.6 M671.3,1481.9 h0.6 M559.4,1480.3 h0.6 M961.4,1547.3 h0.6 M969.9,1558.4 h0.6 M987.4,1571.2 h0.6 M990.3,1582.4 h0.6 M36.5,1588.7 h0.6 M1010.7,1523.3 h0.6 M78.7,1589.4 h0.6 M98.3,1574.4 h0.6 M138.8,1588.7 h0.6 M115.5,1569.6 h0.6 M873.9,1527.5 h0.6 M885.5,1547.3 h0.6 M898.5,1542.5 h0.6 M789.0,1483.5 h0.6 M781.5,1496.2 h0.6 M724.3,1486.7 h0.6 M727.4,1523.3 h0.6 M641.5,1559.1 h0.6 M646.7,1562.6 h0.6 M650.2,1551.7 h0.6 M450.6,1468.2 h0.6 M446.9,1399.0 h0.6 M439.5,1395.8 h0.6 M924.2,1682.8 h0.6 M895.5,1694.7 h0.6 M459.7,1706.3 h0.6 M418.4,1712.4 h0.6 M388.4,1717.9 h0.6 M614.6,1670.7 h0.6 M649.9,1669.4 h0.6 M723.4,1642.9 h0.6 M487.8,1640.4 h0.6 M494.3,1650.2 h0.6 M329.8,1482.8 h0.6 M324.3,1481.9 h0.6 M340.8,1486.7 h0.6 M295.1,1460.2 h0.6 M279.3,1469.8 h0.6 M213.0,1488.9 h0.6 M212.5,1461.8 h0.6 M199.1,1429.2 h0.6 M166.4,1337.2 h0.6 M144.2,1347.0 h0.6 M189.1,1331.9 h0.6 M208.2,1340.2 h0.6 M209.8,1344.6 h0.6 M369.3,1695.3 h0.6 M336.7,1680.6 h0.6 M333.7,1669.7 h0.6 M331.1,1658.8 h0.6 " stroke="#000" stroke-width="2.6" stroke-linecap="round"/>
</g>
<path d="M790.6,1264.5 L798.7,1267.0 L806.8,1269.4 L815.9,1272.5 L825.8,1276.3 L835.8,1280.1 L846.3,1284.8 L856.9,1289.5 L866.8,1294.4 L876.0,1299.6 L885.2,1304.8 L893.5,1310.2 L901.9,1315.7 L910.0,1321.3 L917.9,1327.0 L925.8,1332.8 L933.2,1338.7 L940.6,1344.6 L947.6,1350.7 L954.3,1356.8 L961.0,1362.9 L966.7,1369.1 L972.4,1375.3 L977.9,1381.6 L983.1,1387.9 L988.2,1394.2 L992.5,1400.6 L996.8,1406.9 L1000.7,1413.3 L1004.2,1419.7 L1007.7,1426.1 L1010.3,1432.4 L1013.0,1438.8 L1015.2,1445.2 L1017.1,1451.6 L1019.0,1458.0 L1020.5,1464.3 L1022.1,1470.7 L1023.5,1477.1 L1024.6,1483.5 L1025.7,1489.9 L1026.3,1496.2 L1027.0,1502.6 L1027.4,1509.0 L1027.7,1515.4 L1028.0,1521.8 L1027.7,1528.1 L1027.4,1534.5 L1027.0,1540.9 L1026.3,1547.3 L1025.7,1553.6 L1024.6,1560.0 L1023.5,1566.4 L1022.1,1572.8 L1020.5,1579.2 L1019.0,1585.5 L1017.1,1591.9 L1015.2,1598.3 L1013.0,1604.7 L1010.3,1611.1 L1007.7,1617.4 L1004.2,1623.8 L1000.7,1630.2 L996.8,1636.6 L992.5,1642.9 L988.2,1649.3 L983.1,1655.6 L977.9,1661.9 L972.4,1668.2 L966.7,1674.4 L961.0,1680.6 L954.3,1686.7 L947.6,1692.8 L940.6,1698.9 L933.2,1704.8 L925.8,1710.7 L917.9,1716.5 L910.0,1722.2 L901.9,1727.8 L893.5,1733.3 L885.2,1738.7 L876.0,1743.9 L866.8,1749.1 L856.9,1754.0 L846.3,1758.7 L835.8,1763.4 L825.8,1767.2 L815.9,1771.0 L806.8,1774.1 L798.7,1776.5 L790.6,1779.0 L250.4,1779.0 L242.3,1776.5 L234.2,1774.1 L225.1,1771.0 L215.2,1767.2 L205.2,1763.4 L194.7,1758.7 L184.1,1754.0 L174.2,1749.1 L165.0,1743.9 L155.8,1738.7 L147.5,1733.3 L139.1,1727.8 L131.0,1722.2 L123.1,1716.5 L115.2,1710.7 L107.8,1704.8 L100.4,1698.9 L93.4,1692.8 L86.7,1686.7 L80.0,1680.6 L74.3,1674.4 L68.6,1668.2 L63.1,1661.9 L57.9,1655.6 L52.8,1649.3 L48.5,1642.9 L44.2,1636.6 L40.3,1630.2 L36.8,1623.8 L33.3,1617.4 L30.7,1611.1 L28.0,1604.7 L25.8,1598.3 L23.9,1591.9 L22.0,1585.5 L20.5,1579.2 L18.9,1572.8 L17.5,1566.4 L16.4,1560.0 L15.3,1553.6 L14.7,1547.3 L14.0,1540.9 L13.6,1534.5 L13.3,1528.1 L13.0,1521.8 L13.3,1515.4 L13.6,1509.0 L14.0,1502.6 L14.7,1496.2 L15.3,1489.9 L16.4,1483.5 L17.5,1477.1 L18.9,1470.7 L20.5,1464.3 L22.0,1458.0 L23.9,1451.6 L25.8,1445.2 L28.0,1438.8 L30.7,1432.4 L33.3,1426.1 L36.8,1419.7 L40.3,1413.3 L44.2,1406.9 L48.5,1400.6 L52.8,1394.2 L57.9,1387.9 L63.1,1381.6 L68.6,1375.3 L74.3,1369.1 L80.0,1362.9 L86.7,1356.8 L93.4,1350.7 L100.4,1344.6 L107.8,1338.7 L115.2,1332.8 L123.1,1327.0 L131.0,1321.3 L139.1,1315.7 L147.5,1310.2 L155.8,1304.8 L165.0,1299.6 L174.2,1294.4 L184.1,1289.5 L194.7,1284.8 L205.2,1280.1 L215.2,1276.3 L225.1,1272.5 L234.2,1269.4 L242.3,1267.0 L250.4,1264.5 Z" fill="none" stroke="#000" stroke-width="2"/>
<clipPath id="mc2"><path d="M790.6,1858.5 L798.7,1861.0 L806.8,1863.4 L815.9,1866.5 L825.8,1870.3 L835.8,1874.1 L846.3,1878.8 L856.9,1883.5 L866.8,1888.4 L876.0,1893.6 L885.2,1898.8 L893.5,1904.2 L901.9,1909.7 L910.0,1915.3 L917.9,1921.0 L925.8,1926.8 L933.2,1932.7 L940.6,1938.6 L947.6,1944.7 L954.3,1950.8 L961.0,1956.9 L966.7,1963.1 L972.4,1969.3 L977.9,1975.6 L983.1,1981.9 L988.2,1988.2 L992.5,1994.6 L996.8,2000.9 L1000.7,2007.3 L1004.2,2013.7 L1007.7,2020.1 L1010.3,2026.4 L1013.0,2032.8 L1015.2,2039.2 L1017.1,2045.6 L1019.0,2052.0 L1020.5,2058.3 L1022.1,2064.7 L1023.5,2071.1 L1024.6,2077.5 L1025.7,2083.9 L1026.3,2090.2 L1027.0,2096.6 L1027.4,2103.0 L1027.7,2109.4 L1028.0,2115.8 L1027.7,2122.1 L1027.4,2128.5 L1027.0,2134.9 L1026.3,2141.3 L1025.7,2147.6 L1024.6,2154.0 L1023.5,2160.4 L1022.1,2166.8 L1020.5,2173.2 L1019.0,2179.5 L1017.1,2185.9 L1015.2,2192.3 L1013.0,2198.7 L1010.3,2205.1 L1007.7,2211.4 L1004.2,2217.8 L1000.7,2224.2 L996.8,2230.6 L992.5,2236.9 L988.2,2243.3 L983.1,2249.6 L977.9,2255.9 L972.4,2262.2 L966.7,2268.4 L961.0,2274.6 L954.3,2280.7 L947.6,2286.8 L940.6,2292.9 L933.2,2298.8 L925.8,2304.7 L917.9,2310.5 L910.0,2316.2 L901.9,2321.8 L893.5,2327.3 L885.2,2332.7 L876.0,2337.9 L866.8,2343.1 L856.9,2348.0 L846.3,2352.7 L835.8,2357.4 L825.8,2361.2 L815.9,2365.0 L806.8,2368.1 L798.7,2370.5 L790.6,2373.0 L250.4,2373.0 L242.3,2370.5 L234.2,2368.1 L225.1,2365.0 L215.2,2361.2 L205.2,2357.4 L194.7,2352.7 L184.1,2348.0 L174.2,2343.1 L165.0,2337.9 L155.8,2332.7 L147.5,2327.3 L139.1,2321.8 L131.0,2316.2 L123.1,2310.5 L115.2,2304.7 L107.8,2298.8 L100.4,2292.9 L93.4,2286.8 L86.7,2280.7 L80.0,2274.6 L74.3,2268.4 L68.6,2262.2 L63.1,2255.9 L57.9,2249.6 L52.8,2243.3 L48.5,2236.9 L44.2,2230.6 L40.3,2224.2 L36.8,2217.8 L33.3,2211.4 L30.7,2205.1 L28.0,2198.7 L25.8,2192.3 L23.9,2185.9 L22.0,2179.5 L20.5,2173.2 L18.9,2166.8 L17.5,2160.4 L16.4,2154.0 L15.3,2147.6 L14.7,2141.3 L14.0,2134.9 L13.6,2128.5 L13.3,2122.1 L13.0,2115.8 L13.3,2109.4 L13.6,2103.0 L14.0,2096.6 L14.7,2090.2 L15.3,2083.9 L16.4,2077.5 L17.5,2071.1 L18.9,2064.7 L20.5,2058.3 L22.0,2052.0 L23.9,2045.6 L25.8,2039.2 L28.0,2032.8 L30.7,2026.4 L33.3,2020.1 L36.8,2013.7 L40.3,2007.3 L44.2,2000.9 L48.5,1994.6 L52.8,1988.2 L57.9,1981.9 L63.1,1975.6 L68.6,1969.3 L74.3,1963.1 L80.0,1956.9 L86.7,1950.8 L93.4,1944.7 L100.4,1938.6 L107.8,1932.7 L115.2,1926.8 L123.1,1921.0 L131.0,1915.3 L139.1,1909.7 L147.5,1904.2 L155.8,1898.8 L165.0,1893.6 L174.2,1888.4 L184.1,1883.5 L194.7,1878.8 L205.2,1874.1 L215.2,1870.3 L225.1,1866.5 L234.2,1863.4 L242.3,1861.0 L250.4,1858.5 Z"/></clipPath>
<g clip-path="url(#mc2)">
<rect x="0.0" y="1853.5" width="1050.0" height="524.5" fill="#f4a582" stroke="none" stroke-width="0"/>
<path d="M90.4,1849.0 L542.3,1849.0 L542.3,1919.8 L494.1,1913.8 L476.1,1921.3 L452.0,1930.4 L427.8,1939.4 L403.7,1945.4 L388.7,1945.4 L376.6,1952.9 L361.6,1960.5 L346.5,1966.5 L331.4,1969.5 L319.4,1975.5 L307.3,1939.4 L301.3,1931.9 L283.2,1927.9 L259.1,1927.9 L235.0,1930.4 L210.9,1924.3 L186.8,1921.3 L162.7,1924.3 L138.6,1928.8 L117.5,1927.3 L90.4,1939.4 Z" fill="#d6604d"/>
<path d="M75.3,1968.0 L99.4,1962.0 L120.5,1959.9 L144.6,1962.0 L168.7,1966.5 L180.8,1972.5 L171.7,1981.6 L173.2,1999.7 L164.2,2011.7 L150.7,2017.7 L132.6,2023.8 L111.5,2029.8 L90.4,2035.8 L72.3,2041.8 L51.2,2041.8 L39.2,2032.8 L33.1,2026.8 L42.2,2005.7 L54.2,1990.6 L64.8,1975.5 Z" fill="#d6604d"/>
<path d="M207.9,1972.5 L223.0,1965.0 L238.0,1963.5 L244.1,1969.5 L250.1,1978.6 L262.1,1986.1 L283.2,1987.6 L298.3,1981.6 L319.4,1971.0 L331.4,1965.0 L346.5,1962.0 L361.6,1956.0 L373.6,1948.4 L388.7,1943.9 L400.7,1948.4 L391.7,1963.5 L373.6,1972.5 L355.5,1981.6 L337.5,1990.6 L322.4,1996.6 L316.4,2008.7 L304.3,2014.7 L301.3,2026.8 L295.3,2029.8 L277.2,2020.7 L262.1,2023.8 L254.6,2032.8 L251.6,2047.9 L257.6,2056.9 L250.1,2064.4 L241.0,2059.9 L229.0,2050.9 L219.9,2038.8 L212.4,2020.7 L204.9,2005.7 L201.3,1987.6 Z" fill="#d6604d"/>
<path d="M250.1,2064.4 L262.1,2068.9 L280.2,2078.0 L295.3,2087.0 L304.3,2090.0 L301.3,2099.1 L289.2,2093.1 L271.2,2081.0 L253.1,2072.0 L241.0,2059.9 Z" fill="#d6604d"/>
<path d="M319.4,1999.7 L346.5,1983.1 L376.6,1971.0 L397.7,1978.6 L409.8,1990.6 L421.8,1993.6 L461.0,1995.1 L470.0,2005.7 L479.1,2011.7 L494.1,1999.7 L500.2,1993.6 L500.2,1966.5 L497.1,1948.4 L512.2,1936.4 L542.3,1930.4 L542.3,2099.1 L512.2,2102.1 L500.2,2108.1 L488.1,2105.1 L482.1,2090.0 L476.1,2072.0 L470.0,2059.9 L448.9,2056.9 L461.0,2047.9 L461.0,2032.8 L445.9,2026.8 L421.8,2025.3 L400.7,2029.8 L379.6,2035.8 L361.6,2029.8 L340.5,2026.8 L322.4,2023.8 L316.4,2008.7 Z" fill="#d6604d"/>
<path d="M304.3,2090.0 L319.4,2082.5 L337.5,2090.0 L349.5,2090.0 L361.6,2099.1 L379.6,2114.1 L388.7,2123.2 L301.3,2123.2 L301.3,2099.1 Z" fill="#d6604d"/>
<path d="M500.0,1879.1 L921.8,1909.3 L952.0,1939.4 L1012.2,2032.8 L1009.2,2038.8 L982.1,2041.8 L952.0,2038.8 L921.8,2032.8 L891.7,2023.8 L870.6,2026.8 L855.5,2041.8 L840.5,2047.9 L831.4,2059.9 L819.4,2073.5 L801.3,2078.0 L789.2,2065.9 L780.2,2053.9 L771.2,2044.8 L756.1,2041.8 L741.0,2035.8 L729.0,2038.8 L710.9,2041.8 L692.8,2032.8 L680.8,2044.8 L668.7,2059.9 L662.7,2078.0 L662.7,2090.0 L650.6,2105.1 L641.6,2141.3 L539.2,2141.3 L536.2,2114.1 L518.1,2108.1 L500.0,2105.1 Z" fill="#d6604d"/>
<path d="M894.7,1954.5 L921.8,1948.4 L952.0,1951.4 L970.0,1969.5 L921.8,1969.5 L900.7,1968.0 Z" fill="#f4a582"/>
<path d="M500.0,2065.9 L518.1,2068.9 L530.1,2084.0 L527.1,2105.1 L512.1,2108.1 L500.0,2105.1 Z" fill="#f4a582"/>
<path d="M564.8,2099.1 L578.3,2090.0 L599.4,2099.1 L600.9,2135.2 L590.4,2142.8 L567.8,2135.2 Z" fill="#f4a582"/>
<path d="M500.0,1948.4 L515.1,1954.5 L518.1,1975.5 L500.0,1981.6 Z" fill="#f4a582"/>
<path d="M495.6,2072.0 L503.2,2065.9 L518.2,2072.0 L524.3,2087.0 L512.2,2090.0 L500.2,2084.0 Z" fill="#f4a582"/>
<path d="M90.4,1849.0 L539.9,1849.0 L539.9,1894.2 L518.2,1900.2 L494.1,1906.2 L470.0,1913.8 L445.9,1924.3 L427.8,1933.4 L415.8,1939.4 L400.7,1942.4 L388.7,1936.4 L370.6,1930.4 L355.5,1936.4 L340.5,1939.4 L325.4,1936.4 L313.4,1930.4 L301.3,1921.3 L289.2,1916.8 L271.2,1913.8 L241.0,1916.8 L216.9,1913.8 L192.8,1910.8 L168.7,1913.8 L150.7,1916.8 L132.6,1913.8 L90.4,1924.3 Z" fill="#b2182b"/>
<path d="M500.0,1849.0 L952.0,1849.0 L952.0,1939.4 L912.8,1924.3 L897.7,1922.8 L870.6,1924.3 L843.5,1930.4 L840.5,1939.4 L831.4,1936.4 L801.3,1931.9 L771.2,1930.4 L741.0,1927.3 L710.9,1922.8 L680.8,1921.3 L656.7,1919.8 L641.6,1924.3 L638.6,1933.4 L650.6,1951.4 L662.7,1969.5 L673.2,1981.6 L671.7,1996.6 L686.8,2005.7 L692.8,2017.7 L686.8,2026.8 L668.7,2026.8 L656.7,2032.8 L650.6,2041.8 L635.6,2044.8 L626.5,2032.8 L620.5,2041.8 L614.5,2056.9 L605.5,2065.9 L587.4,2073.5 L572.3,2059.9 L560.3,2044.8 L554.2,2026.8 L575.3,2029.8 L587.4,2020.7 L593.4,2008.7 L587.4,1993.6 L569.3,1978.6 L548.2,1969.5 L533.1,1963.5 L530.1,1948.4 L539.2,1918.3 L548.2,1900.2 L500.0,1894.2 Z" fill="#b2182b"/>
<path d="M750.1,1954.5 L762.1,1951.4 L789.2,1963.5 L793.8,1974.0 L783.2,1978.6 L789.2,1990.6 L801.3,1996.6 L799.8,2013.2 L783.2,2008.7 L765.1,2010.2 L747.1,2019.2 L732.0,2011.7 L723.0,1993.6 L738.0,1993.6 L750.1,2005.7 L765.1,1999.7 L766.7,1987.6 L753.1,1975.5 Z" fill="#b2182b"/>
<path d="M807.3,1989.1 L819.4,1987.6 L837.5,2005.7 L843.5,2023.8 L837.5,2029.8 L822.4,2011.7 L810.3,1996.6 Z" fill="#b2182b"/>
<path d="M90.4,1849.0 L539.9,1849.0 L539.9,1877.6 L512.2,1882.1 L482.1,1891.2 L458.0,1900.2 L433.9,1909.3 L415.8,1918.3 L400.7,1921.3 L385.7,1916.8 L361.6,1909.3 L337.5,1906.2 L319.4,1907.8 L301.3,1904.7 L280.2,1900.2 L259.1,1903.2 L235.0,1904.7 L210.9,1901.7 L192.8,1897.2 L168.7,1898.7 L150.7,1901.7 L90.4,1909.3 Z" fill="#67001f"/>
<path d="M500.0,1849.0 L952.0,1849.0 L952.0,1939.4 L912.8,1919.8 L894.7,1918.3 L873.6,1913.8 L849.5,1910.8 L819.4,1912.3 L789.2,1913.8 L759.1,1913.8 L729.0,1910.8 L698.9,1909.3 L668.7,1907.8 L641.6,1903.2 L614.5,1897.2 L590.4,1891.2 L569.3,1888.2 L551.2,1882.1 L539.2,1874.6 L518.1,1876.1 L500.0,1877.6 Z" fill="#67001f"/>
<path d="M245.6,1945.4 L256.1,1939.4 L277.2,1939.4 L286.2,1948.4 L283.2,1963.5 L271.2,1972.5 L256.1,1969.5 L247.1,1960.5 Z" fill="#fddbc7"/>
<path d="M421.8,1954.5 L433.9,1945.4 L458.0,1940.9 L476.1,1945.4 L479.1,1954.5 L473.0,1966.5 L464.0,1972.5 L445.9,1975.5 L427.8,1974.0 L421.8,1966.5 Z" fill="#fddbc7"/>
<path d="M200.4,1969.5 L201.9,2017.7 L210.9,2035.8 L215.4,2044.8 L204.9,2059.9 L186.8,2065.9 L177.8,2078.0 L168.7,2090.0 L177.8,2102.1 L210.9,2108.1 L271.2,2105.1 L301.3,2105.1 L310.3,2123.2 L27.1,2123.2 L45.2,2099.1 L69.3,2075.0 L81.4,2056.9 L99.4,2041.8 L132.6,2035.8 L141.6,2029.8 L156.7,2020.7 L168.7,2008.7 L177.8,1990.6 L189.8,1975.5 Z" fill="#fddbc7"/>
<path d="M891.7,1955.1 L902.2,1954.5 L903.1,1962.3 L895.3,1963.5 Z" fill="#fddbc7"/>
<path d="M608.5,2076.5 L613.6,2075.6 L614.5,2097.6 L610.0,2098.5 Z" fill="#fddbc7"/>
<path d="M34.6,2196.4 L51.2,2176.8 L69.3,2185.8 L99.4,2196.4 L120.5,2208.4 L138.6,2220.5 L147.6,2235.5 L146.1,2250.6 L132.6,2262.7 L114.5,2262.7 L96.4,2253.6 L78.3,2241.6 L60.3,2229.5 L45.2,2214.5 Z" fill="#d6604d"/>
<path d="M310.3,2139.1 L319.4,2124.1 L331.4,2109.0 L376.6,2109.0 L391.7,2121.1 L409.8,2133.1 L412.8,2148.2 L409.8,2169.3 L397.7,2190.4 L388.7,2199.4 L370.6,2202.4 L355.5,2193.4 L352.5,2178.3 L340.5,2169.3 L325.4,2160.2 L313.4,2151.2 Z" fill="#d6604d"/>
<path d="M375.1,2139.1 L385.7,2135.5 L390.2,2140.6 L384.2,2148.2 Z" fill="#b2182b"/>
<path d="M381.1,2229.5 L393.2,2223.5 L403.7,2234.0 L397.7,2243.1 L382.7,2240.1 Z" fill="#d6604d"/>
<path d="M524.3,2121.1 L539.9,2115.0 L539.9,2157.2 L530.3,2151.2 Z" fill="#d6604d"/>
<path d="M12.1,2109.0 L301.3,2109.0 L304.3,2127.1 L313.4,2142.1 L319.4,2169.3 L323.9,2187.3 L326.9,2208.4 L331.4,2235.5 L334.4,2250.6 L319.4,2247.6 L301.3,2229.5 L295.3,2211.4 L271.2,2205.4 L241.0,2202.4 L210.9,2199.4 L180.8,2202.4 L162.7,2199.4 L144.6,2193.4 L126.5,2187.3 L120.5,2169.3 L114.5,2160.2 L90.4,2154.2 L60.3,2148.2 L36.2,2145.2 L18.1,2136.1 Z" fill="#fddbc7"/>
<path d="M132.6,2137.6 L168.7,2134.6 L210.9,2136.1 L247.1,2139.1 L271.2,2145.2 L295.3,2151.2 L304.3,2160.2 L307.3,2181.3 L295.3,2184.3 L271.2,2187.3 L241.0,2188.8 L210.9,2184.3 L192.8,2179.8 L174.8,2178.3 L168.7,2169.3 L156.7,2154.2 L144.6,2145.2 Z" fill="#d1e5f0"/>
<path d="M427.8,2154.2 L455.0,2136.1 L470.0,2145.2 L500.2,2160.2 L527.3,2181.3 L539.9,2187.3 L539.9,2193.4 L512.2,2190.4 L470.0,2187.3 L445.9,2193.4 L436.9,2181.3 Z" fill="#fddbc7"/>
<path d="M180.8,2259.7 L216.9,2247.6 L316.4,2246.1 L328.4,2253.6 L337.5,2241.6 L343.5,2223.5 L340.5,2208.4 L352.5,2208.4 L361.6,2235.5 L370.6,2244.6 L391.7,2256.6 L452.0,2250.6 L500.2,2236.1 L542.3,2232.5 L542.3,2289.8 L482.1,2295.8 L470.0,2319.9 L452.0,2325.9 L421.8,2319.9 L403.7,2338.0 L391.7,2325.9 L373.6,2313.9 L361.6,2325.9 L337.5,2328.9 L313.4,2313.9 L301.3,2301.8 L271.2,2289.8 L229.0,2286.8 L223.0,2301.8 L138.6,2301.8 L111.5,2301.8 L90.4,2286.8 L120.5,2286.8 L168.7,2277.7 Z" fill="#fddbc7"/>
<path d="M271.2,2265.7 L301.3,2262.7 L331.4,2265.7 L355.5,2271.7 L370.6,2265.7 L421.8,2265.7 L482.1,2264.2 L542.3,2263.3 L542.3,2284.4 L482.1,2286.8 L421.8,2289.8 L415.8,2304.8 L391.7,2313.9 L361.6,2310.9 L331.4,2307.9 L313.4,2304.8 L289.2,2292.8 L277.2,2283.8 Z" fill="#d1e5f0"/>
<path d="M120.5,2292.8 L144.6,2286.8 L192.8,2286.8 L210.9,2292.8 L229.0,2297.3 L223.0,2301.8 L120.5,2301.8 Z" fill="#d1e5f0"/>
<path d="M144.6,2296.4 L180.8,2295.2 L180.8,2298.8 L144.6,2298.2 Z" fill="#92c5de"/>
<path d="M361.6,2286.8 L379.6,2279.2 L403.7,2279.2 L420.3,2283.8 L417.3,2297.3 L403.7,2303.3 L379.6,2301.8 L366.1,2297.3 Z" fill="#92c5de"/>
<path d="M375.1,2296.4 L385.7,2295.2 L393.2,2298.2 L382.7,2300.0 Z" fill="#4393c3"/>
<path d="M497.1,2265.7 L509.2,2268.7 L512.2,2283.8 L500.2,2282.2 Z" fill="#92c5de"/>
<path d="M403.7,2338.0 L542.3,2332.6 L542.3,2353.7 L421.8,2354.6 Z" fill="#fddbc7"/>
<path d="M110.0,2301.8 L223.0,2301.8 L224.5,2286.8 L278.7,2286.8 L283.2,2301.8 L313.4,2309.4 L334.4,2327.4 L366.1,2333.5 L369.1,2342.5 L361.6,2356.1 L366.1,2363.6 L250.1,2363.6 L210.9,2357.6 L150.7,2335.0 Z" fill="#ffffff"/>
<path d="M470.0,2289.8 L542.3,2287.4 L542.3,2332.6 L512.2,2333.5 L474.5,2325.9 Z" fill="#ffffff"/>
<path d="M180.8,2350.0 L250.1,2363.6 L539.9,2363.6 L539.9,2380.2 L180.8,2380.2 Z" fill="#d6604d"/>
<path d="M530.1,2130.1 L536.2,2096.9 L560.3,2087.9 L599.4,2090.9 L603.9,2127.1 L620.5,2139.1 L629.6,2157.2 L620.5,2178.3 L614.5,2193.4 L605.5,2208.4 L590.4,2223.5 L572.3,2226.5 L563.3,2205.4 L554.2,2175.3 L545.2,2160.2 L533.1,2148.2 Z" fill="#d6604d"/>
<path d="M650.6,2193.4 L656.7,2175.3 L668.7,2160.2 L680.8,2145.2 L695.8,2127.1 L710.9,2115.0 L729.0,2118.0 L741.0,2139.1 L750.1,2163.2 L765.1,2184.3 L783.2,2202.4 L792.3,2217.5 L780.2,2226.5 L756.1,2223.5 L729.0,2211.4 L707.9,2199.4 L680.8,2196.4 Z" fill="#d6604d"/>
<path d="M831.4,2193.4 L840.5,2184.3 L861.6,2187.3 L888.7,2190.4 L903.7,2184.3 L918.8,2178.3 L933.9,2187.3 L939.9,2199.4 L936.9,2223.5 L933.9,2241.6 L918.8,2250.6 L903.7,2241.6 L885.7,2223.5 L861.6,2220.5 L837.5,2220.5 L831.4,2208.4 Z" fill="#d6604d"/>
<path d="M945.9,2109.0 L970.0,2109.0 L988.1,2127.1 L1012.2,2136.1 L1027.3,2145.2 L1027.3,2169.3 L1012.2,2160.2 L994.1,2151.2 L970.0,2139.1 L952.0,2124.1 Z" fill="#d6604d"/>
<path d="M564.8,2134.6 L588.9,2140.6 L597.9,2167.8 L579.8,2161.7 L567.8,2151.2 Z" fill="#f4a582"/>
<path d="M603.9,2107.5 L632.6,2106.0 L629.6,2145.2 L620.5,2139.1 L605.5,2127.1 Z" fill="#f4a582"/>
<path d="M564.2,2089.7 L597.0,2086.7 L600.0,2110.5 L588.3,2125.6 L567.2,2122.6 Z" fill="#f4a582"/>
<path d="M500.0,2359.1 L560.3,2353.1 L650.6,2354.6 L710.9,2359.1 L789.2,2363.6 L891.7,2363.6 L891.7,2380.2 L500.0,2380.2 Z" fill="#d6604d"/>
<path d="M500.0,2235.5 L536.2,2229.5 L575.3,2229.5 L599.4,2223.5 L620.5,2219.0 L656.7,2218.1 L692.8,2222.0 L729.0,2235.5 L762.1,2250.6 L738.0,2262.7 L716.9,2277.7 L698.9,2289.8 L680.8,2301.8 L662.7,2307.9 L632.6,2316.9 L602.4,2325.9 L560.3,2319.9 L557.2,2332.0 L518.1,2333.5 L500.0,2338.0 Z" fill="#fddbc7"/>
<path d="M762.1,2268.7 L777.2,2253.6 L801.3,2235.5 L819.4,2217.5 L828.4,2226.5 L849.5,2223.5 L870.6,2229.5 L888.7,2241.6 L894.7,2250.6 L903.7,2265.7 L921.8,2277.7 L952.0,2277.7 L964.0,2271.7 L945.9,2295.8 L921.8,2313.9 L891.7,2319.9 L861.6,2319.9 L831.4,2316.9 L801.3,2319.9 L771.2,2325.9 L741.0,2332.0 L716.9,2325.9 L729.0,2313.9 L747.1,2289.8 L759.1,2277.7 Z" fill="#fddbc7"/>
<path d="M497.0,2332.6 L518.1,2333.5 L557.2,2332.0 L599.4,2338.0 L590.4,2350.0 L536.2,2356.1 L497.0,2354.6 Z" fill="#fddbc7"/>
<path d="M500.0,2262.7 L545.2,2265.7 L590.4,2264.2 L626.5,2265.7 L638.6,2274.7 L635.6,2286.8 L590.4,2289.8 L572.3,2301.8 L569.3,2283.8 L500.0,2283.8 Z" fill="#d1e5f0"/>
<path d="M825.4,2280.7 L846.5,2273.2 L861.6,2271.7 L888.7,2280.7 L903.7,2289.8 L891.7,2304.8 L861.6,2316.9 L831.4,2316.9 L801.3,2316.9 L789.2,2313.9 L801.3,2301.8 L813.4,2289.8 Z" fill="#d1e5f0"/>
<path d="M741.0,2325.9 L759.1,2319.9 L783.2,2319.9 L807.3,2322.9 L825.4,2328.9 L801.3,2335.0 L771.2,2335.0 L750.1,2333.5 Z" fill="#d1e5f0"/>
<path d="M500.0,2286.8 L569.3,2286.8 L572.3,2301.8 L564.8,2313.9 L557.2,2313.9 L557.2,2332.0 L518.1,2333.5 L500.0,2333.5 Z" fill="#ffffff"/>
<path d="M750.1,2285.3 L813.4,2283.8 L801.3,2301.8 L789.2,2304.8 L735.0,2307.9 L741.0,2298.8 Z" fill="#ffffff"/>
<path d="M860.1,2338.0 L876.6,2325.9 L900.7,2316.9 L927.8,2310.9 L927.8,2350.0 L860.1,2350.0 Z" fill="#ffffff"/>
<path d="M120.2,1931.2 l6.0,6.0 M120.2,1937.2 l6.0,-6.0 M131.8,1931.2 l6.0,6.0 M131.8,1937.2 l6.0,-6.0 M200.8,1931.2 l6.0,6.0 M200.8,1937.2 l6.0,-6.0 M212.4,1931.2 l6.0,6.0 M212.4,1937.2 l6.0,-6.0 M223.9,1931.2 l6.0,6.0 M223.9,1937.2 l6.0,-6.0 M235.4,1931.2 l6.0,6.0 M235.4,1937.2 l6.0,-6.0 M246.9,1931.2 l6.0,6.0 M246.9,1937.2 l6.0,-6.0 M258.4,1931.2 l6.0,6.0 M258.4,1937.2 l6.0,-6.0 M269.9,1931.2 l6.0,6.0 M269.9,1937.2 l6.0,-6.0 M281.5,1931.2 l6.0,6.0 M281.5,1937.2 l6.0,-6.0 M293.0,1931.2 l6.0,6.0 M293.0,1937.2 l6.0,-6.0 M431.1,1931.2 l6.0,6.0 M431.1,1937.2 l6.0,-6.0 M442.7,1931.2 l6.0,6.0 M442.7,1937.2 l6.0,-6.0 M454.2,1931.2 l6.0,6.0 M454.2,1937.2 l6.0,-6.0 M465.7,1931.2 l6.0,6.0 M465.7,1937.2 l6.0,-6.0 M477.2,1931.2 l6.0,6.0 M477.2,1937.2 l6.0,-6.0 M127.4,1946.2 l6.0,6.0 M127.4,1952.2 l6.0,-6.0 M139.4,1946.2 l6.0,6.0 M139.4,1952.2 l6.0,-6.0 M151.4,1946.2 l6.0,6.0 M151.4,1952.2 l6.0,-6.0 M163.4,1946.2 l6.0,6.0 M163.4,1952.2 l6.0,-6.0 M175.4,1946.2 l6.0,6.0 M175.4,1952.2 l6.0,-6.0 M187.4,1946.2 l6.0,6.0 M187.4,1952.2 l6.0,-6.0 M199.4,1946.2 l6.0,6.0 M199.4,1952.2 l6.0,-6.0 M211.4,1946.2 l6.0,6.0 M211.4,1952.2 l6.0,-6.0 M223.4,1946.2 l6.0,6.0 M223.4,1952.2 l6.0,-6.0 M235.4,1946.2 l6.0,6.0 M235.4,1952.2 l6.0,-6.0 M247.4,1946.2 l6.0,6.0 M247.4,1952.2 l6.0,-6.0 M259.4,1946.2 l6.0,6.0 M259.4,1952.2 l6.0,-6.0 M271.4,1946.2 l6.0,6.0 M271.4,1952.2 l6.0,-6.0 M283.4,1946.2 l6.0,6.0 M283.4,1952.2 l6.0,-6.0 M295.4,1946.2 l6.0,6.0 M295.4,1952.2 l6.0,-6.0 M307.4,1946.2 l6.0,6.0 M307.4,1952.2 l6.0,-6.0 M319.4,1946.2 l6.0,6.0 M319.4,1952.2 l6.0,-6.0 M415.5,1946.2 l6.0,6.0 M415.5,1952.2 l6.0,-6.0 M427.5,1946.2 l6.0,6.0 M427.5,1952.2 l6.0,-6.0 M439.5,1946.2 l6.0,6.0 M439.5,1952.2 l6.0,-6.0 M451.5,1946.2 l6.0,6.0 M451.5,1952.2 l6.0,-6.0 M463.5,1946.2 l6.0,6.0 M463.5,1952.2 l6.0,-6.0 M475.5,1946.2 l6.0,6.0 M475.5,1952.2 l6.0,-6.0 M703.5,1946.2 l6.0,6.0 M703.5,1952.2 l6.0,-6.0 M715.6,1946.2 l6.0,6.0 M715.6,1952.2 l6.0,-6.0 M150.7,1961.7 l6.0,6.0 M150.7,1967.7 l6.0,-6.0 M163.1,1961.7 l6.0,6.0 M163.1,1967.7 l6.0,-6.0 M175.6,1961.7 l6.0,6.0 M175.6,1967.7 l6.0,-6.0 M188.0,1961.7 l6.0,6.0 M188.0,1967.7 l6.0,-6.0 M200.4,1961.7 l6.0,6.0 M200.4,1967.7 l6.0,-6.0 M237.7,1961.7 l6.0,6.0 M237.7,1967.7 l6.0,-6.0 M250.2,1961.7 l6.0,6.0 M250.2,1967.7 l6.0,-6.0 M262.6,1961.7 l6.0,6.0 M262.6,1967.7 l6.0,-6.0 M275.0,1961.7 l6.0,6.0 M275.0,1967.7 l6.0,-6.0 M411.8,1961.7 l6.0,6.0 M411.8,1967.7 l6.0,-6.0 M424.2,1961.7 l6.0,6.0 M424.2,1967.7 l6.0,-6.0 M436.7,1961.7 l6.0,6.0 M436.7,1967.7 l6.0,-6.0 M449.1,1961.7 l6.0,6.0 M449.1,1967.7 l6.0,-6.0 M461.5,1961.7 l6.0,6.0 M461.5,1967.7 l6.0,-6.0 M152.3,1977.3 l6.0,6.0 M152.3,1983.3 l6.0,-6.0 M165.1,1977.3 l6.0,6.0 M165.1,1983.3 l6.0,-6.0 M178.0,1977.3 l6.0,6.0 M178.0,1983.3 l6.0,-6.0 M190.8,1977.3 l6.0,6.0 M190.8,1983.3 l6.0,-6.0 M254.8,1977.3 l6.0,6.0 M254.8,1983.3 l6.0,-6.0 M267.6,1977.3 l6.0,6.0 M267.6,1983.3 l6.0,-6.0 M280.5,1977.3 l6.0,6.0 M280.5,1983.3 l6.0,-6.0 M421.4,1977.3 l6.0,6.0 M421.4,1983.3 l6.0,-6.0 M434.2,1977.3 l6.0,6.0 M434.2,1983.3 l6.0,-6.0 M169.3,1993.2 l6.0,6.0 M169.3,1999.2 l6.0,-6.0 M182.4,1993.2 l6.0,6.0 M182.4,1999.2 l6.0,-6.0 M195.6,1993.2 l6.0,6.0 M195.6,1999.2 l6.0,-6.0 M162.1,2009.1 l6.0,6.0 M162.1,2015.1 l6.0,-6.0 M175.5,2009.1 l6.0,6.0 M175.5,2015.1 l6.0,-6.0 M188.9,2009.1 l6.0,6.0 M188.9,2015.1 l6.0,-6.0 M142.8,2025.0 l6.0,6.0 M142.8,2031.0 l6.0,-6.0 M156.4,2025.0 l6.0,6.0 M156.4,2031.0 l6.0,-6.0 M170.1,2025.0 l6.0,6.0 M170.1,2031.0 l6.0,-6.0 M183.7,2025.0 l6.0,6.0 M183.7,2031.0 l6.0,-6.0 M197.3,2025.0 l6.0,6.0 M197.3,2031.0 l6.0,-6.0 M97.2,2041.0 l6.0,6.0 M97.2,2047.0 l6.0,-6.0 M110.9,2041.0 l6.0,6.0 M110.9,2047.0 l6.0,-6.0 M124.7,2041.0 l6.0,6.0 M124.7,2047.0 l6.0,-6.0 M138.5,2041.0 l6.0,6.0 M138.5,2047.0 l6.0,-6.0 M152.3,2041.0 l6.0,6.0 M152.3,2047.0 l6.0,-6.0 M166.1,2041.0 l6.0,6.0 M166.1,2047.0 l6.0,-6.0 M179.9,2041.0 l6.0,6.0 M179.9,2047.0 l6.0,-6.0 M193.6,2041.0 l6.0,6.0 M193.6,2047.0 l6.0,-6.0 M207.4,2041.0 l6.0,6.0 M207.4,2047.0 l6.0,-6.0 M758.7,2041.0 l6.0,6.0 M758.7,2047.0 l6.0,-6.0 M79.6,2056.9 l6.0,6.0 M79.6,2062.9 l6.0,-6.0 M93.5,2056.9 l6.0,6.0 M93.5,2062.9 l6.0,-6.0 M107.4,2056.9 l6.0,6.0 M107.4,2062.9 l6.0,-6.0 M121.3,2056.9 l6.0,6.0 M121.3,2062.9 l6.0,-6.0 M135.2,2056.9 l6.0,6.0 M135.2,2062.9 l6.0,-6.0 M149.1,2056.9 l6.0,6.0 M149.1,2062.9 l6.0,-6.0 M163.0,2056.9 l6.0,6.0 M163.0,2062.9 l6.0,-6.0 M176.9,2056.9 l6.0,6.0 M176.9,2062.9 l6.0,-6.0 M190.8,2056.9 l6.0,6.0 M190.8,2062.9 l6.0,-6.0 M204.7,2056.9 l6.0,6.0 M204.7,2062.9 l6.0,-6.0 M62.7,2072.9 l6.0,6.0 M62.7,2078.9 l6.0,-6.0 M76.7,2072.9 l6.0,6.0 M76.7,2078.9 l6.0,-6.0 M90.7,2072.9 l6.0,6.0 M90.7,2078.9 l6.0,-6.0 M104.7,2072.9 l6.0,6.0 M104.7,2078.9 l6.0,-6.0 M118.7,2072.9 l6.0,6.0 M118.7,2078.9 l6.0,-6.0 M132.7,2072.9 l6.0,6.0 M132.7,2078.9 l6.0,-6.0 M146.7,2072.9 l6.0,6.0 M146.7,2078.9 l6.0,-6.0 M160.6,2072.9 l6.0,6.0 M160.6,2078.9 l6.0,-6.0 M174.6,2072.9 l6.0,6.0 M174.6,2078.9 l6.0,-6.0 M32.6,2088.8 l6.0,6.0 M32.6,2094.8 l6.0,-6.0 M46.7,2088.8 l6.0,6.0 M46.7,2094.8 l6.0,-6.0 M60.7,2088.8 l6.0,6.0 M60.7,2094.8 l6.0,-6.0 M74.8,2088.8 l6.0,6.0 M74.8,2094.8 l6.0,-6.0 M88.8,2088.8 l6.0,6.0 M88.8,2094.8 l6.0,-6.0 M102.9,2088.8 l6.0,6.0 M102.9,2094.8 l6.0,-6.0 M116.9,2088.8 l6.0,6.0 M116.9,2094.8 l6.0,-6.0 M131.0,2088.8 l6.0,6.0 M131.0,2094.8 l6.0,-6.0 M145.0,2088.8 l6.0,6.0 M145.0,2094.8 l6.0,-6.0 M159.1,2088.8 l6.0,6.0 M159.1,2094.8 l6.0,-6.0 M173.2,2088.8 l6.0,6.0 M173.2,2094.8 l6.0,-6.0 M594.8,2088.8 l6.0,6.0 M594.8,2094.8 l6.0,-6.0 M608.9,2088.8 l6.0,6.0 M608.9,2094.8 l6.0,-6.0 M17.4,2104.8 l6.0,6.0 M17.4,2110.8 l6.0,-6.0 M31.5,2104.8 l6.0,6.0 M31.5,2110.8 l6.0,-6.0 M45.6,2104.8 l6.0,6.0 M45.6,2110.8 l6.0,-6.0 M59.7,2104.8 l6.0,6.0 M59.7,2110.8 l6.0,-6.0 M73.7,2104.8 l6.0,6.0 M73.7,2110.8 l6.0,-6.0 M87.8,2104.8 l6.0,6.0 M87.8,2110.8 l6.0,-6.0 M101.9,2104.8 l6.0,6.0 M101.9,2110.8 l6.0,-6.0 M116.0,2104.8 l6.0,6.0 M116.0,2110.8 l6.0,-6.0 M130.1,2104.8 l6.0,6.0 M130.1,2110.8 l6.0,-6.0 M144.2,2104.8 l6.0,6.0 M144.2,2110.8 l6.0,-6.0 M158.3,2104.8 l6.0,6.0 M158.3,2110.8 l6.0,-6.0 M172.4,2104.8 l6.0,6.0 M172.4,2110.8 l6.0,-6.0 M186.4,2104.8 l6.0,6.0 M186.4,2110.8 l6.0,-6.0 M200.5,2104.8 l6.0,6.0 M200.5,2110.8 l6.0,-6.0 M214.6,2104.8 l6.0,6.0 M214.6,2110.8 l6.0,-6.0 M228.7,2104.8 l6.0,6.0 M228.7,2110.8 l6.0,-6.0 M242.8,2104.8 l6.0,6.0 M242.8,2110.8 l6.0,-6.0 M256.9,2104.8 l6.0,6.0 M256.9,2110.8 l6.0,-6.0 M271.0,2104.8 l6.0,6.0 M271.0,2110.8 l6.0,-6.0 M285.1,2104.8 l6.0,6.0 M285.1,2110.8 l6.0,-6.0 M609.1,2104.8 l6.0,6.0 M609.1,2110.8 l6.0,-6.0 M1003.5,2104.8 l6.0,6.0 M1003.5,2110.8 l6.0,-6.0 M1017.6,2104.8 l6.0,6.0 M1017.6,2110.8 l6.0,-6.0 M17.4,2120.7 l6.0,6.0 M17.4,2126.7 l6.0,-6.0 M31.5,2120.7 l6.0,6.0 M31.5,2126.7 l6.0,-6.0 M45.6,2120.7 l6.0,6.0 M45.6,2126.7 l6.0,-6.0 M59.7,2120.7 l6.0,6.0 M59.7,2126.7 l6.0,-6.0 M73.7,2120.7 l6.0,6.0 M73.7,2126.7 l6.0,-6.0 M87.8,2120.7 l6.0,6.0 M87.8,2126.7 l6.0,-6.0 M101.9,2120.7 l6.0,6.0 M101.9,2126.7 l6.0,-6.0 M116.0,2120.7 l6.0,6.0 M116.0,2126.7 l6.0,-6.0 M130.1,2120.7 l6.0,6.0 M130.1,2126.7 l6.0,-6.0 M144.2,2120.7 l6.0,6.0 M144.2,2126.7 l6.0,-6.0 M158.3,2120.7 l6.0,6.0 M158.3,2126.7 l6.0,-6.0 M172.4,2120.7 l6.0,6.0 M172.4,2126.7 l6.0,-6.0 M186.4,2120.7 l6.0,6.0 M186.4,2126.7 l6.0,-6.0 M200.5,2120.7 l6.0,6.0 M200.5,2126.7 l6.0,-6.0 M214.6,2120.7 l6.0,6.0 M214.6,2126.7 l6.0,-6.0 M228.7,2120.7 l6.0,6.0 M228.7,2126.7 l6.0,-6.0 M242.8,2120.7 l6.0,6.0 M242.8,2126.7 l6.0,-6.0 M256.9,2120.7 l6.0,6.0 M256.9,2126.7 l6.0,-6.0 M271.0,2120.7 l6.0,6.0 M271.0,2126.7 l6.0,-6.0 M285.1,2120.7 l6.0,6.0 M285.1,2126.7 l6.0,-6.0 M299.1,2120.7 l6.0,6.0 M299.1,2126.7 l6.0,-6.0 M46.7,2136.7 l6.0,6.0 M46.7,2142.7 l6.0,-6.0 M60.7,2136.7 l6.0,6.0 M60.7,2142.7 l6.0,-6.0 M74.8,2136.7 l6.0,6.0 M74.8,2142.7 l6.0,-6.0 M88.8,2136.7 l6.0,6.0 M88.8,2142.7 l6.0,-6.0 M102.9,2136.7 l6.0,6.0 M102.9,2142.7 l6.0,-6.0 M116.9,2136.7 l6.0,6.0 M116.9,2142.7 l6.0,-6.0 M131.0,2136.7 l6.0,6.0 M131.0,2142.7 l6.0,-6.0 M145.0,2136.7 l6.0,6.0 M145.0,2142.7 l6.0,-6.0 M159.1,2136.7 l6.0,6.0 M159.1,2142.7 l6.0,-6.0 M173.2,2136.7 l6.0,6.0 M173.2,2142.7 l6.0,-6.0 M187.2,2136.7 l6.0,6.0 M187.2,2142.7 l6.0,-6.0 M201.3,2136.7 l6.0,6.0 M201.3,2142.7 l6.0,-6.0 M215.3,2136.7 l6.0,6.0 M215.3,2142.7 l6.0,-6.0 M229.4,2136.7 l6.0,6.0 M229.4,2142.7 l6.0,-6.0 M243.4,2136.7 l6.0,6.0 M243.4,2142.7 l6.0,-6.0 M257.5,2136.7 l6.0,6.0 M257.5,2142.7 l6.0,-6.0 M271.5,2136.7 l6.0,6.0 M271.5,2142.7 l6.0,-6.0 M285.6,2136.7 l6.0,6.0 M285.6,2142.7 l6.0,-6.0 M118.7,2152.6 l6.0,6.0 M118.7,2158.6 l6.0,-6.0 M132.7,2152.6 l6.0,6.0 M132.7,2158.6 l6.0,-6.0 M146.7,2152.6 l6.0,6.0 M146.7,2158.6 l6.0,-6.0 M160.6,2152.6 l6.0,6.0 M160.6,2158.6 l6.0,-6.0 M174.6,2152.6 l6.0,6.0 M174.6,2158.6 l6.0,-6.0 M188.6,2152.6 l6.0,6.0 M188.6,2158.6 l6.0,-6.0 M202.6,2152.6 l6.0,6.0 M202.6,2158.6 l6.0,-6.0 M216.6,2152.6 l6.0,6.0 M216.6,2158.6 l6.0,-6.0 M230.6,2152.6 l6.0,6.0 M230.6,2158.6 l6.0,-6.0 M244.6,2152.6 l6.0,6.0 M244.6,2158.6 l6.0,-6.0 M258.6,2152.6 l6.0,6.0 M258.6,2158.6 l6.0,-6.0 M272.6,2152.6 l6.0,6.0 M272.6,2158.6 l6.0,-6.0 M286.6,2152.6 l6.0,6.0 M286.6,2158.6 l6.0,-6.0 M300.6,2152.6 l6.0,6.0 M300.6,2158.6 l6.0,-6.0 M440.5,2152.6 l6.0,6.0 M440.5,2158.6 l6.0,-6.0 M454.5,2152.6 l6.0,6.0 M454.5,2158.6 l6.0,-6.0 M135.2,2168.6 l6.0,6.0 M135.2,2174.6 l6.0,-6.0 M149.1,2168.6 l6.0,6.0 M149.1,2174.6 l6.0,-6.0 M163.0,2168.6 l6.0,6.0 M163.0,2174.6 l6.0,-6.0 M176.9,2168.6 l6.0,6.0 M176.9,2174.6 l6.0,-6.0 M190.8,2168.6 l6.0,6.0 M190.8,2174.6 l6.0,-6.0 M204.7,2168.6 l6.0,6.0 M204.7,2174.6 l6.0,-6.0 M218.6,2168.6 l6.0,6.0 M218.6,2174.6 l6.0,-6.0 M246.4,2168.6 l6.0,6.0 M246.4,2174.6 l6.0,-6.0 M260.3,2168.6 l6.0,6.0 M260.3,2174.6 l6.0,-6.0 M274.2,2168.6 l6.0,6.0 M274.2,2174.6 l6.0,-6.0 M288.1,2168.6 l6.0,6.0 M288.1,2174.6 l6.0,-6.0 M302.0,2168.6 l6.0,6.0 M302.0,2174.6 l6.0,-6.0 M315.9,2168.6 l6.0,6.0 M315.9,2174.6 l6.0,-6.0 M441.0,2168.6 l6.0,6.0 M441.0,2174.6 l6.0,-6.0 M454.9,2168.6 l6.0,6.0 M454.9,2174.6 l6.0,-6.0 M468.8,2168.6 l6.0,6.0 M468.8,2174.6 l6.0,-6.0 M482.7,2168.6 l6.0,6.0 M482.7,2174.6 l6.0,-6.0 M496.6,2168.6 l6.0,6.0 M496.6,2174.6 l6.0,-6.0 M872.0,2168.6 l6.0,6.0 M872.0,2174.6 l6.0,-6.0 M885.9,2168.6 l6.0,6.0 M885.9,2174.6 l6.0,-6.0 M152.3,2184.5 l6.0,6.0 M152.3,2190.5 l6.0,-6.0 M166.1,2184.5 l6.0,6.0 M166.1,2190.5 l6.0,-6.0 M179.9,2184.5 l6.0,6.0 M179.9,2190.5 l6.0,-6.0 M193.6,2184.5 l6.0,6.0 M193.6,2190.5 l6.0,-6.0 M207.4,2184.5 l6.0,6.0 M207.4,2190.5 l6.0,-6.0 M221.2,2184.5 l6.0,6.0 M221.2,2190.5 l6.0,-6.0 M235.0,2184.5 l6.0,6.0 M235.0,2190.5 l6.0,-6.0 M248.8,2184.5 l6.0,6.0 M248.8,2190.5 l6.0,-6.0 M262.5,2184.5 l6.0,6.0 M262.5,2190.5 l6.0,-6.0 M276.3,2184.5 l6.0,6.0 M276.3,2190.5 l6.0,-6.0 M290.1,2184.5 l6.0,6.0 M290.1,2190.5 l6.0,-6.0 M303.9,2184.5 l6.0,6.0 M303.9,2190.5 l6.0,-6.0 M317.7,2184.5 l6.0,6.0 M317.7,2190.5 l6.0,-6.0 M813.8,2184.5 l6.0,6.0 M813.8,2190.5 l6.0,-6.0 M292.7,2200.5 l6.0,6.0 M292.7,2206.5 l6.0,-6.0 M306.3,2200.5 l6.0,6.0 M306.3,2206.5 l6.0,-6.0 M319.9,2200.5 l6.0,6.0 M319.9,2206.5 l6.0,-6.0 M347.2,2200.5 l6.0,6.0 M347.2,2206.5 l6.0,-6.0 M810.4,2200.5 l6.0,6.0 M810.4,2206.5 l6.0,-6.0 M824.1,2200.5 l6.0,6.0 M824.1,2206.5 l6.0,-6.0 M309.6,2216.4 l6.0,6.0 M309.6,2222.4 l6.0,-6.0 M323.0,2216.4 l6.0,6.0 M323.0,2222.4 l6.0,-6.0 M349.9,2216.4 l6.0,6.0 M349.9,2222.4 l6.0,-6.0 M805.8,2216.4 l6.0,6.0 M805.8,2222.4 l6.0,-6.0 M819.3,2216.4 l6.0,6.0 M819.3,2222.4 l6.0,-6.0 M313.8,2232.3 l6.0,6.0 M313.8,2238.3 l6.0,-6.0 M353.2,2232.3 l6.0,6.0 M353.2,2238.3 l6.0,-6.0 M616.1,2232.3 l6.0,6.0 M616.1,2238.3 l6.0,-6.0 M629.2,2232.3 l6.0,6.0 M629.2,2238.3 l6.0,-6.0 M642.3,2232.3 l6.0,6.0 M642.3,2238.3 l6.0,-6.0 M655.5,2232.3 l6.0,6.0 M655.5,2238.3 l6.0,-6.0 M668.6,2232.3 l6.0,6.0 M668.6,2238.3 l6.0,-6.0 M681.8,2232.3 l6.0,6.0 M681.8,2238.3 l6.0,-6.0 M694.9,2232.3 l6.0,6.0 M694.9,2238.3 l6.0,-6.0 M708.0,2232.3 l6.0,6.0 M708.0,2238.3 l6.0,-6.0 M721.2,2232.3 l6.0,6.0 M721.2,2238.3 l6.0,-6.0 M800.0,2232.3 l6.0,6.0 M800.0,2238.3 l6.0,-6.0 M813.2,2232.3 l6.0,6.0 M813.2,2238.3 l6.0,-6.0 M826.3,2232.3 l6.0,6.0 M826.3,2238.3 l6.0,-6.0 M839.4,2232.3 l6.0,6.0 M839.4,2238.3 l6.0,-6.0 M852.6,2232.3 l6.0,6.0 M852.6,2238.3 l6.0,-6.0 M865.7,2232.3 l6.0,6.0 M865.7,2238.3 l6.0,-6.0 M62.6,2248.2 l6.0,6.0 M62.6,2254.2 l6.0,-6.0 M216.4,2248.2 l6.0,6.0 M216.4,2254.2 l6.0,-6.0 M229.2,2248.2 l6.0,6.0 M229.2,2254.2 l6.0,-6.0 M254.8,2248.2 l6.0,6.0 M254.8,2254.2 l6.0,-6.0 M267.6,2248.2 l6.0,6.0 M267.6,2254.2 l6.0,-6.0 M280.5,2248.2 l6.0,6.0 M280.5,2254.2 l6.0,-6.0 M293.3,2248.2 l6.0,6.0 M293.3,2254.2 l6.0,-6.0 M306.1,2248.2 l6.0,6.0 M306.1,2254.2 l6.0,-6.0 M318.9,2248.2 l6.0,6.0 M318.9,2254.2 l6.0,-6.0 M357.3,2248.2 l6.0,6.0 M357.3,2254.2 l6.0,-6.0 M459.8,2248.2 l6.0,6.0 M459.8,2254.2 l6.0,-6.0 M472.7,2248.2 l6.0,6.0 M472.7,2254.2 l6.0,-6.0 M485.5,2248.2 l6.0,6.0 M485.5,2254.2 l6.0,-6.0 M498.3,2248.2 l6.0,6.0 M498.3,2254.2 l6.0,-6.0 M511.1,2248.2 l6.0,6.0 M511.1,2254.2 l6.0,-6.0 M523.9,2248.2 l6.0,6.0 M523.9,2254.2 l6.0,-6.0 M536.7,2248.2 l6.0,6.0 M536.7,2254.2 l6.0,-6.0 M613.6,2248.2 l6.0,6.0 M613.6,2254.2 l6.0,-6.0 M626.4,2248.2 l6.0,6.0 M626.4,2254.2 l6.0,-6.0 M639.2,2248.2 l6.0,6.0 M639.2,2254.2 l6.0,-6.0 M652.0,2248.2 l6.0,6.0 M652.0,2254.2 l6.0,-6.0 M690.5,2248.2 l6.0,6.0 M690.5,2254.2 l6.0,-6.0 M703.3,2248.2 l6.0,6.0 M703.3,2254.2 l6.0,-6.0 M716.1,2248.2 l6.0,6.0 M716.1,2254.2 l6.0,-6.0 M728.9,2248.2 l6.0,6.0 M728.9,2254.2 l6.0,-6.0 M793.0,2248.2 l6.0,6.0 M793.0,2254.2 l6.0,-6.0 M805.8,2248.2 l6.0,6.0 M805.8,2254.2 l6.0,-6.0 M818.6,2248.2 l6.0,6.0 M818.6,2254.2 l6.0,-6.0 M831.4,2248.2 l6.0,6.0 M831.4,2254.2 l6.0,-6.0 M844.2,2248.2 l6.0,6.0 M844.2,2254.2 l6.0,-6.0 M857.0,2248.2 l6.0,6.0 M857.0,2254.2 l6.0,-6.0 M869.9,2248.2 l6.0,6.0 M869.9,2254.2 l6.0,-6.0 M882.7,2248.2 l6.0,6.0 M882.7,2254.2 l6.0,-6.0 M972.4,2248.2 l6.0,6.0 M972.4,2254.2 l6.0,-6.0 M76.1,2263.8 l6.0,6.0 M76.1,2269.8 l6.0,-6.0 M175.6,2263.8 l6.0,6.0 M175.6,2269.8 l6.0,-6.0 M188.0,2263.8 l6.0,6.0 M188.0,2269.8 l6.0,-6.0 M200.4,2263.8 l6.0,6.0 M200.4,2269.8 l6.0,-6.0 M212.9,2263.8 l6.0,6.0 M212.9,2269.8 l6.0,-6.0 M225.3,2263.8 l6.0,6.0 M225.3,2269.8 l6.0,-6.0 M237.7,2263.8 l6.0,6.0 M237.7,2269.8 l6.0,-6.0 M250.2,2263.8 l6.0,6.0 M250.2,2269.8 l6.0,-6.0 M262.6,2263.8 l6.0,6.0 M262.6,2269.8 l6.0,-6.0 M275.0,2263.8 l6.0,6.0 M275.0,2269.8 l6.0,-6.0 M287.5,2263.8 l6.0,6.0 M287.5,2269.8 l6.0,-6.0 M299.9,2263.8 l6.0,6.0 M299.9,2269.8 l6.0,-6.0 M312.3,2263.8 l6.0,6.0 M312.3,2269.8 l6.0,-6.0 M324.8,2263.8 l6.0,6.0 M324.8,2269.8 l6.0,-6.0 M337.2,2263.8 l6.0,6.0 M337.2,2269.8 l6.0,-6.0 M349.6,2263.8 l6.0,6.0 M349.6,2269.8 l6.0,-6.0 M362.1,2263.8 l6.0,6.0 M362.1,2269.8 l6.0,-6.0 M374.5,2263.8 l6.0,6.0 M374.5,2269.8 l6.0,-6.0 M386.9,2263.8 l6.0,6.0 M386.9,2269.8 l6.0,-6.0 M399.4,2263.8 l6.0,6.0 M399.4,2269.8 l6.0,-6.0 M411.8,2263.8 l6.0,6.0 M411.8,2269.8 l6.0,-6.0 M424.2,2263.8 l6.0,6.0 M424.2,2269.8 l6.0,-6.0 M436.7,2263.8 l6.0,6.0 M436.7,2269.8 l6.0,-6.0 M449.1,2263.8 l6.0,6.0 M449.1,2269.8 l6.0,-6.0 M461.5,2263.8 l6.0,6.0 M461.5,2269.8 l6.0,-6.0 M474.0,2263.8 l6.0,6.0 M474.0,2269.8 l6.0,-6.0 M486.4,2263.8 l6.0,6.0 M486.4,2269.8 l6.0,-6.0 M498.8,2263.8 l6.0,6.0 M498.8,2269.8 l6.0,-6.0 M511.3,2263.8 l6.0,6.0 M511.3,2269.8 l6.0,-6.0 M523.7,2263.8 l6.0,6.0 M523.7,2269.8 l6.0,-6.0 M536.2,2263.8 l6.0,6.0 M536.2,2269.8 l6.0,-6.0 M548.6,2263.8 l6.0,6.0 M548.6,2269.8 l6.0,-6.0 M561.0,2263.8 l6.0,6.0 M561.0,2269.8 l6.0,-6.0 M573.5,2263.8 l6.0,6.0 M573.5,2269.8 l6.0,-6.0 M585.9,2263.8 l6.0,6.0 M585.9,2269.8 l6.0,-6.0 M598.3,2263.8 l6.0,6.0 M598.3,2269.8 l6.0,-6.0 M610.8,2263.8 l6.0,6.0 M610.8,2269.8 l6.0,-6.0 M623.2,2263.8 l6.0,6.0 M623.2,2269.8 l6.0,-6.0 M635.6,2263.8 l6.0,6.0 M635.6,2269.8 l6.0,-6.0 M648.1,2263.8 l6.0,6.0 M648.1,2269.8 l6.0,-6.0 M660.5,2263.8 l6.0,6.0 M660.5,2269.8 l6.0,-6.0 M672.9,2263.8 l6.0,6.0 M672.9,2269.8 l6.0,-6.0 M685.4,2263.8 l6.0,6.0 M685.4,2269.8 l6.0,-6.0 M697.8,2263.8 l6.0,6.0 M697.8,2269.8 l6.0,-6.0 M710.2,2263.8 l6.0,6.0 M710.2,2269.8 l6.0,-6.0 M834.6,2263.8 l6.0,6.0 M834.6,2269.8 l6.0,-6.0 M847.0,2263.8 l6.0,6.0 M847.0,2269.8 l6.0,-6.0 M859.4,2263.8 l6.0,6.0 M859.4,2269.8 l6.0,-6.0 M871.9,2263.8 l6.0,6.0 M871.9,2269.8 l6.0,-6.0 M884.3,2263.8 l6.0,6.0 M884.3,2269.8 l6.0,-6.0 M946.5,2263.8 l6.0,6.0 M946.5,2269.8 l6.0,-6.0 M958.9,2263.8 l6.0,6.0 M958.9,2269.8 l6.0,-6.0 M91.4,2279.3 l6.0,6.0 M91.4,2285.3 l6.0,-6.0 M103.4,2279.3 l6.0,6.0 M103.4,2285.3 l6.0,-6.0 M115.4,2279.3 l6.0,6.0 M115.4,2285.3 l6.0,-6.0 M127.4,2279.3 l6.0,6.0 M127.4,2285.3 l6.0,-6.0 M139.4,2279.3 l6.0,6.0 M139.4,2285.3 l6.0,-6.0 M151.4,2279.3 l6.0,6.0 M151.4,2285.3 l6.0,-6.0 M163.4,2279.3 l6.0,6.0 M163.4,2285.3 l6.0,-6.0 M175.4,2279.3 l6.0,6.0 M175.4,2285.3 l6.0,-6.0 M187.4,2279.3 l6.0,6.0 M187.4,2285.3 l6.0,-6.0 M199.4,2279.3 l6.0,6.0 M199.4,2285.3 l6.0,-6.0 M211.4,2279.3 l6.0,6.0 M211.4,2285.3 l6.0,-6.0 M223.4,2279.3 l6.0,6.0 M223.4,2285.3 l6.0,-6.0 M235.4,2279.3 l6.0,6.0 M235.4,2285.3 l6.0,-6.0 M247.4,2279.3 l6.0,6.0 M247.4,2285.3 l6.0,-6.0 M259.4,2279.3 l6.0,6.0 M259.4,2285.3 l6.0,-6.0 M271.4,2279.3 l6.0,6.0 M271.4,2285.3 l6.0,-6.0 M283.4,2279.3 l6.0,6.0 M283.4,2285.3 l6.0,-6.0 M295.4,2279.3 l6.0,6.0 M295.4,2285.3 l6.0,-6.0 M307.4,2279.3 l6.0,6.0 M307.4,2285.3 l6.0,-6.0 M319.4,2279.3 l6.0,6.0 M319.4,2285.3 l6.0,-6.0 M331.5,2279.3 l6.0,6.0 M331.5,2285.3 l6.0,-6.0 M343.5,2279.3 l6.0,6.0 M343.5,2285.3 l6.0,-6.0 M415.5,2279.3 l6.0,6.0 M415.5,2285.3 l6.0,-6.0 M427.5,2279.3 l6.0,6.0 M427.5,2285.3 l6.0,-6.0 M439.5,2279.3 l6.0,6.0 M439.5,2285.3 l6.0,-6.0 M451.5,2279.3 l6.0,6.0 M451.5,2285.3 l6.0,-6.0 M463.5,2279.3 l6.0,6.0 M463.5,2285.3 l6.0,-6.0 M475.5,2279.3 l6.0,6.0 M475.5,2285.3 l6.0,-6.0 M487.5,2279.3 l6.0,6.0 M487.5,2285.3 l6.0,-6.0 M499.5,2279.3 l6.0,6.0 M499.5,2285.3 l6.0,-6.0 M511.5,2279.3 l6.0,6.0 M511.5,2285.3 l6.0,-6.0 M523.5,2279.3 l6.0,6.0 M523.5,2285.3 l6.0,-6.0 M535.5,2279.3 l6.0,6.0 M535.5,2285.3 l6.0,-6.0 M547.5,2279.3 l6.0,6.0 M547.5,2285.3 l6.0,-6.0 M559.5,2279.3 l6.0,6.0 M559.5,2285.3 l6.0,-6.0 M571.5,2279.3 l6.0,6.0 M571.5,2285.3 l6.0,-6.0 M583.5,2279.3 l6.0,6.0 M583.5,2285.3 l6.0,-6.0 M595.5,2279.3 l6.0,6.0 M595.5,2285.3 l6.0,-6.0 M607.5,2279.3 l6.0,6.0 M607.5,2285.3 l6.0,-6.0 M619.5,2279.3 l6.0,6.0 M619.5,2285.3 l6.0,-6.0 M631.5,2279.3 l6.0,6.0 M631.5,2285.3 l6.0,-6.0 M643.5,2279.3 l6.0,6.0 M643.5,2285.3 l6.0,-6.0 M655.5,2279.3 l6.0,6.0 M655.5,2285.3 l6.0,-6.0 M667.5,2279.3 l6.0,6.0 M667.5,2285.3 l6.0,-6.0 M679.5,2279.3 l6.0,6.0 M679.5,2285.3 l6.0,-6.0 M691.5,2279.3 l6.0,6.0 M691.5,2285.3 l6.0,-6.0 M775.6,2279.3 l6.0,6.0 M775.6,2285.3 l6.0,-6.0 M787.6,2279.3 l6.0,6.0 M787.6,2285.3 l6.0,-6.0 M823.6,2279.3 l6.0,6.0 M823.6,2285.3 l6.0,-6.0 M835.6,2279.3 l6.0,6.0 M835.6,2285.3 l6.0,-6.0 M847.6,2279.3 l6.0,6.0 M847.6,2285.3 l6.0,-6.0 M859.6,2279.3 l6.0,6.0 M859.6,2285.3 l6.0,-6.0 M871.6,2279.3 l6.0,6.0 M871.6,2285.3 l6.0,-6.0 M883.6,2279.3 l6.0,6.0 M883.6,2285.3 l6.0,-6.0 M895.6,2279.3 l6.0,6.0 M895.6,2285.3 l6.0,-6.0 M907.6,2279.3 l6.0,6.0 M907.6,2285.3 l6.0,-6.0 M919.6,2279.3 l6.0,6.0 M919.6,2285.3 l6.0,-6.0 M931.6,2279.3 l6.0,6.0 M931.6,2285.3 l6.0,-6.0 M943.6,2279.3 l6.0,6.0 M943.6,2285.3 l6.0,-6.0 M108.7,2294.3 l6.0,6.0 M108.7,2300.3 l6.0,-6.0 M120.2,2294.3 l6.0,6.0 M120.2,2300.3 l6.0,-6.0 M131.8,2294.3 l6.0,6.0 M131.8,2300.3 l6.0,-6.0 M177.8,2294.3 l6.0,6.0 M177.8,2300.3 l6.0,-6.0 M189.3,2294.3 l6.0,6.0 M189.3,2300.3 l6.0,-6.0 M200.8,2294.3 l6.0,6.0 M200.8,2300.3 l6.0,-6.0 M212.4,2294.3 l6.0,6.0 M212.4,2300.3 l6.0,-6.0 M223.9,2294.3 l6.0,6.0 M223.9,2300.3 l6.0,-6.0 M281.5,2294.3 l6.0,6.0 M281.5,2300.3 l6.0,-6.0 M293.0,2294.3 l6.0,6.0 M293.0,2300.3 l6.0,-6.0 M304.5,2294.3 l6.0,6.0 M304.5,2300.3 l6.0,-6.0 M316.0,2294.3 l6.0,6.0 M316.0,2300.3 l6.0,-6.0 M327.5,2294.3 l6.0,6.0 M327.5,2300.3 l6.0,-6.0 M339.0,2294.3 l6.0,6.0 M339.0,2300.3 l6.0,-6.0 M350.5,2294.3 l6.0,6.0 M350.5,2300.3 l6.0,-6.0 M419.6,2294.3 l6.0,6.0 M419.6,2300.3 l6.0,-6.0 M431.1,2294.3 l6.0,6.0 M431.1,2300.3 l6.0,-6.0 M442.7,2294.3 l6.0,6.0 M442.7,2300.3 l6.0,-6.0 M454.2,2294.3 l6.0,6.0 M454.2,2300.3 l6.0,-6.0 M465.7,2294.3 l6.0,6.0 M465.7,2300.3 l6.0,-6.0 M477.2,2294.3 l6.0,6.0 M477.2,2300.3 l6.0,-6.0 M569.3,2294.3 l6.0,6.0 M569.3,2300.3 l6.0,-6.0 M580.8,2294.3 l6.0,6.0 M580.8,2300.3 l6.0,-6.0 M592.3,2294.3 l6.0,6.0 M592.3,2300.3 l6.0,-6.0 M603.9,2294.3 l6.0,6.0 M603.9,2300.3 l6.0,-6.0 M615.4,2294.3 l6.0,6.0 M615.4,2300.3 l6.0,-6.0 M626.9,2294.3 l6.0,6.0 M626.9,2300.3 l6.0,-6.0 M638.4,2294.3 l6.0,6.0 M638.4,2300.3 l6.0,-6.0 M649.9,2294.3 l6.0,6.0 M649.9,2300.3 l6.0,-6.0 M661.4,2294.3 l6.0,6.0 M661.4,2300.3 l6.0,-6.0 M799.6,2294.3 l6.0,6.0 M799.6,2300.3 l6.0,-6.0 M811.1,2294.3 l6.0,6.0 M811.1,2300.3 l6.0,-6.0 M822.6,2294.3 l6.0,6.0 M822.6,2300.3 l6.0,-6.0 M834.2,2294.3 l6.0,6.0 M834.2,2300.3 l6.0,-6.0 M880.2,2294.3 l6.0,6.0 M880.2,2300.3 l6.0,-6.0 M891.7,2294.3 l6.0,6.0 M891.7,2300.3 l6.0,-6.0 M903.2,2294.3 l6.0,6.0 M903.2,2300.3 l6.0,-6.0 M914.8,2294.3 l6.0,6.0 M914.8,2300.3 l6.0,-6.0 M926.3,2294.3 l6.0,6.0 M926.3,2300.3 l6.0,-6.0 M314.3,2308.9 l6.0,6.0 M314.3,2314.9 l6.0,-6.0 M325.3,2308.9 l6.0,6.0 M325.3,2314.9 l6.0,-6.0 M336.3,2308.9 l6.0,6.0 M336.3,2314.9 l6.0,-6.0 M347.3,2308.9 l6.0,6.0 M347.3,2314.9 l6.0,-6.0 M358.2,2308.9 l6.0,6.0 M358.2,2314.9 l6.0,-6.0 M369.2,2308.9 l6.0,6.0 M369.2,2314.9 l6.0,-6.0 M380.2,2308.9 l6.0,6.0 M380.2,2314.9 l6.0,-6.0 M391.2,2308.9 l6.0,6.0 M391.2,2314.9 l6.0,-6.0 M402.2,2308.9 l6.0,6.0 M402.2,2314.9 l6.0,-6.0 M413.2,2308.9 l6.0,6.0 M413.2,2314.9 l6.0,-6.0 M424.1,2308.9 l6.0,6.0 M424.1,2314.9 l6.0,-6.0 M435.1,2308.9 l6.0,6.0 M435.1,2314.9 l6.0,-6.0 M446.1,2308.9 l6.0,6.0 M446.1,2314.9 l6.0,-6.0 M566.9,2308.9 l6.0,6.0 M566.9,2314.9 l6.0,-6.0 M577.9,2308.9 l6.0,6.0 M577.9,2314.9 l6.0,-6.0 M588.9,2308.9 l6.0,6.0 M588.9,2314.9 l6.0,-6.0 M599.9,2308.9 l6.0,6.0 M599.9,2314.9 l6.0,-6.0 M731.7,2308.9 l6.0,6.0 M731.7,2314.9 l6.0,-6.0 M742.7,2308.9 l6.0,6.0 M742.7,2314.9 l6.0,-6.0 M753.7,2308.9 l6.0,6.0 M753.7,2314.9 l6.0,-6.0 M764.6,2308.9 l6.0,6.0 M764.6,2314.9 l6.0,-6.0 M775.6,2308.9 l6.0,6.0 M775.6,2314.9 l6.0,-6.0 M786.6,2308.9 l6.0,6.0 M786.6,2314.9 l6.0,-6.0 M797.6,2308.9 l6.0,6.0 M797.6,2314.9 l6.0,-6.0 M808.6,2308.9 l6.0,6.0 M808.6,2314.9 l6.0,-6.0 M819.6,2308.9 l6.0,6.0 M819.6,2314.9 l6.0,-6.0 M830.5,2308.9 l6.0,6.0 M830.5,2314.9 l6.0,-6.0 M841.5,2308.9 l6.0,6.0 M841.5,2314.9 l6.0,-6.0 M852.5,2308.9 l6.0,6.0 M852.5,2314.9 l6.0,-6.0 M863.5,2308.9 l6.0,6.0 M863.5,2314.9 l6.0,-6.0 M874.5,2308.9 l6.0,6.0 M874.5,2314.9 l6.0,-6.0 M885.5,2308.9 l6.0,6.0 M885.5,2314.9 l6.0,-6.0 M896.4,2308.9 l6.0,6.0 M896.4,2314.9 l6.0,-6.0 M907.4,2308.9 l6.0,6.0 M907.4,2314.9 l6.0,-6.0 M335.2,2322.9 l6.0,6.0 M335.2,2328.9 l6.0,-6.0 M345.6,2322.9 l6.0,6.0 M345.6,2328.9 l6.0,-6.0 M356.0,2322.9 l6.0,6.0 M356.0,2328.9 l6.0,-6.0 M366.4,2322.9 l6.0,6.0 M366.4,2328.9 l6.0,-6.0 M397.7,2322.9 l6.0,6.0 M397.7,2328.9 l6.0,-6.0 M408.1,2322.9 l6.0,6.0 M408.1,2328.9 l6.0,-6.0 M418.5,2322.9 l6.0,6.0 M418.5,2328.9 l6.0,-6.0 M428.9,2322.9 l6.0,6.0 M428.9,2328.9 l6.0,-6.0 M439.4,2322.9 l6.0,6.0 M439.4,2328.9 l6.0,-6.0 M449.8,2322.9 l6.0,6.0 M449.8,2328.9 l6.0,-6.0 M522.7,2322.9 l6.0,6.0 M522.7,2328.9 l6.0,-6.0 M533.1,2322.9 l6.0,6.0 M533.1,2328.9 l6.0,-6.0 M543.5,2322.9 l6.0,6.0 M543.5,2328.9 l6.0,-6.0 M554.0,2322.9 l6.0,6.0 M554.0,2328.9 l6.0,-6.0 M564.4,2322.9 l6.0,6.0 M564.4,2328.9 l6.0,-6.0 M574.8,2322.9 l6.0,6.0 M574.8,2328.9 l6.0,-6.0 M585.2,2322.9 l6.0,6.0 M585.2,2328.9 l6.0,-6.0 M595.6,2322.9 l6.0,6.0 M595.6,2328.9 l6.0,-6.0 M679.0,2322.9 l6.0,6.0 M679.0,2328.9 l6.0,-6.0 M689.4,2322.9 l6.0,6.0 M689.4,2328.9 l6.0,-6.0 M699.8,2322.9 l6.0,6.0 M699.8,2328.9 l6.0,-6.0 M710.3,2322.9 l6.0,6.0 M710.3,2328.9 l6.0,-6.0 M720.7,2322.9 l6.0,6.0 M720.7,2328.9 l6.0,-6.0 M731.1,2322.9 l6.0,6.0 M731.1,2328.9 l6.0,-6.0 M741.5,2322.9 l6.0,6.0 M741.5,2328.9 l6.0,-6.0 M751.9,2322.9 l6.0,6.0 M751.9,2328.9 l6.0,-6.0 M762.4,2322.9 l6.0,6.0 M762.4,2328.9 l6.0,-6.0 M772.8,2322.9 l6.0,6.0 M772.8,2328.9 l6.0,-6.0 M783.2,2322.9 l6.0,6.0 M783.2,2328.9 l6.0,-6.0 M793.6,2322.9 l6.0,6.0 M793.6,2328.9 l6.0,-6.0 M804.0,2322.9 l6.0,6.0 M804.0,2328.9 l6.0,-6.0 M814.5,2322.9 l6.0,6.0 M814.5,2328.9 l6.0,-6.0 M824.9,2322.9 l6.0,6.0 M824.9,2328.9 l6.0,-6.0 M835.3,2322.9 l6.0,6.0 M835.3,2328.9 l6.0,-6.0 M845.7,2322.9 l6.0,6.0 M845.7,2328.9 l6.0,-6.0 M856.1,2322.9 l6.0,6.0 M856.1,2328.9 l6.0,-6.0 M404.7,2336.2 l6.0,6.0 M404.7,2342.2 l6.0,-6.0 M414.5,2336.2 l6.0,6.0 M414.5,2342.2 l6.0,-6.0 M424.3,2336.2 l6.0,6.0 M424.3,2342.2 l6.0,-6.0 M434.1,2336.2 l6.0,6.0 M434.1,2342.2 l6.0,-6.0 M443.9,2336.2 l6.0,6.0 M443.9,2342.2 l6.0,-6.0 M453.7,2336.2 l6.0,6.0 M453.7,2342.2 l6.0,-6.0 M463.5,2336.2 l6.0,6.0 M463.5,2342.2 l6.0,-6.0 M473.4,2336.2 l6.0,6.0 M473.4,2342.2 l6.0,-6.0 M483.2,2336.2 l6.0,6.0 M483.2,2342.2 l6.0,-6.0 M493.0,2336.2 l6.0,6.0 M493.0,2342.2 l6.0,-6.0 M502.8,2336.2 l6.0,6.0 M502.8,2342.2 l6.0,-6.0 M512.6,2336.2 l6.0,6.0 M512.6,2342.2 l6.0,-6.0 M522.4,2336.2 l6.0,6.0 M522.4,2342.2 l6.0,-6.0 M532.2,2336.2 l6.0,6.0 M532.2,2342.2 l6.0,-6.0 M542.0,2336.2 l6.0,6.0 M542.0,2342.2 l6.0,-6.0 M551.8,2336.2 l6.0,6.0 M551.8,2342.2 l6.0,-6.0 M561.6,2336.2 l6.0,6.0 M561.6,2342.2 l6.0,-6.0 M571.5,2336.2 l6.0,6.0 M571.5,2342.2 l6.0,-6.0 M581.3,2336.2 l6.0,6.0 M581.3,2342.2 l6.0,-6.0 M591.1,2336.2 l6.0,6.0 M591.1,2342.2 l6.0,-6.0 M689.2,2336.2 l6.0,6.0 M689.2,2342.2 l6.0,-6.0 M699.0,2336.2 l6.0,6.0 M699.0,2342.2 l6.0,-6.0 M708.8,2336.2 l6.0,6.0 M708.8,2342.2 l6.0,-6.0 M718.6,2336.2 l6.0,6.0 M718.6,2342.2 l6.0,-6.0 M728.4,2336.2 l6.0,6.0 M728.4,2342.2 l6.0,-6.0 M738.2,2336.2 l6.0,6.0 M738.2,2342.2 l6.0,-6.0 M748.0,2336.2 l6.0,6.0 M748.0,2342.2 l6.0,-6.0 M757.9,2336.2 l6.0,6.0 M757.9,2342.2 l6.0,-6.0 M767.7,2336.2 l6.0,6.0 M767.7,2342.2 l6.0,-6.0 M777.5,2336.2 l6.0,6.0 M777.5,2342.2 l6.0,-6.0 M787.3,2336.2 l6.0,6.0 M787.3,2342.2 l6.0,-6.0 M797.1,2336.2 l6.0,6.0 M797.1,2342.2 l6.0,-6.0 M806.9,2336.2 l6.0,6.0 M806.9,2342.2 l6.0,-6.0 M816.7,2336.2 l6.0,6.0 M816.7,2342.2 l6.0,-6.0 M826.5,2336.2 l6.0,6.0 M826.5,2342.2 l6.0,-6.0 M836.3,2336.2 l6.0,6.0 M836.3,2342.2 l6.0,-6.0 M846.1,2336.2 l6.0,6.0 M846.1,2342.2 l6.0,-6.0 M856.0,2336.2 l6.0,6.0 M856.0,2342.2 l6.0,-6.0 M865.8,2336.2 l6.0,6.0 M865.8,2342.2 l6.0,-6.0 M421.7,2348.5 l6.0,6.0 M421.7,2354.5 l6.0,-6.0 M430.8,2348.5 l6.0,6.0 M430.8,2354.5 l6.0,-6.0 M439.9,2348.5 l6.0,6.0 M439.9,2354.5 l6.0,-6.0 M449.1,2348.5 l6.0,6.0 M449.1,2354.5 l6.0,-6.0 M458.2,2348.5 l6.0,6.0 M458.2,2354.5 l6.0,-6.0 M467.3,2348.5 l6.0,6.0 M467.3,2354.5 l6.0,-6.0 M476.4,2348.5 l6.0,6.0 M476.4,2354.5 l6.0,-6.0 M485.6,2348.5 l6.0,6.0 M485.6,2354.5 l6.0,-6.0 M494.7,2348.5 l6.0,6.0 M494.7,2354.5 l6.0,-6.0 M503.8,2348.5 l6.0,6.0 M503.8,2354.5 l6.0,-6.0 M512.9,2348.5 l6.0,6.0 M512.9,2354.5 l6.0,-6.0 M522.1,2348.5 l6.0,6.0 M522.1,2354.5 l6.0,-6.0 M531.2,2348.5 l6.0,6.0 M531.2,2354.5 l6.0,-6.0 M823.2,2348.5 l6.0,6.0 M823.2,2354.5 l6.0,-6.0 M832.3,2348.5 l6.0,6.0 M832.3,2354.5 l6.0,-6.0 " stroke="#111" stroke-width="1.05" fill="none"/>
<path d="M163.0,1910.8 L174.9,1908.3 L181.0,1907.0 L177.6,1903.4 L188.4,1900.1 L207.2,1895.7 L215.7,1896.7 L234.2,1899.3 L243.9,1901.5 L261.8,1898.2 L271.9,1900.1 L283.5,1902.9 L296.7,1904.2 L309.1,1904.2 L320.4,1905.6 L327.9,1901.5 L333.0,1900.1 L338.1,1904.2 L345.3,1900.1 L352.5,1901.5 L351.7,1905.6 L338.3,1909.7 L333.2,1913.9 L319.4,1918.2 L308.8,1926.8 L308.2,1931.2 L312.3,1935.7 L320.9,1940.7 L327.5,1941.6 L324.4,1947.7 L328.2,1952.3 L333.0,1944.7 L341.6,1937.2 L342.5,1931.2 L346.9,1925.3 L348.8,1920.2 L359.3,1921.0 L364.4,1923.9 L365.3,1931.2 L374.1,1926.8 L377.7,1934.2 L379.9,1940.1 L384.7,1946.2 L385.5,1950.8 L376.7,1955.3 L361.4,1956.9 L353.0,1960.0 L359.9,1961.5 L359.6,1966.2 L367.3,1969.3 L358.3,1974.0 L352.8,1975.6 L351.2,1972.4 L342.1,1977.2 L339.3,1981.9 L328.7,1986.6 L322.5,1994.6 L319.4,2000.9 L312.4,2007.3 L302.4,2015.3 L302.2,2029.6 L299.8,2035.4 L296.4,2031.2 L295.8,2023.2 L293.1,2020.1 L288.0,2019.1 L279.6,2020.1 L276.2,2023.2 L265.7,2021.6 L256.2,2028.0 L251.8,2044.0 L254.2,2055.1 L259.5,2057.4 L268.0,2055.8 L270.4,2048.8 L280.3,2047.2 L277.4,2058.3 L273.9,2064.7 L286.3,2065.3 L286.4,2080.7 L290.2,2087.0 L297.3,2085.4 L302.8,2088.6 L302.6,2093.4 L298.6,2087.7 L294.2,2091.8 L287.3,2089.3 L280.5,2083.9 L275.7,2074.3 L266.2,2071.1 L258.5,2064.7 L250.1,2065.3 L236.9,2059.9 L228.3,2052.0 L229.7,2044.0 L224.5,2035.0 L215.6,2021.6 L212.3,2015.3 L213.8,2023.2 L217.1,2037.6 L219.0,2042.4 L213.1,2036.6 L208.9,2026.4 L206.7,2012.1 L199.6,2005.7 L199.1,1997.7 L199.2,1986.6 L209.2,1969.3 L216.2,1962.2 L214.6,1956.9 L210.8,1952.3 L212.1,1943.1 L213.3,1932.7 L208.4,1928.3 L196.3,1926.8 L187.6,1924.5 L175.1,1929.7 L165.8,1934.2 L153.4,1937.2 L139.1,1941.6 L130.5,1943.1 L152.0,1934.2 L162.0,1930.3 L152.4,1929.7 L152.6,1923.9 L159.8,1918.2 L172.1,1915.3 L164.2,1913.0 Z M389.0,1878.1 L402.3,1873.1 L418.7,1870.3 L445.4,1868.4 L470.9,1867.5 L486.6,1870.3 L490.7,1874.1 L483.7,1881.2 L484.0,1888.4 L477.1,1893.6 L475.9,1898.8 L464.9,1902.9 L451.7,1905.6 L441.9,1910.3 L434.8,1912.4 L423.7,1926.8 L413.5,1923.9 L410.1,1915.3 L409.4,1907.0 L411.1,1898.8 L411.3,1891.0 L408.4,1883.5 L393.4,1883.5 Z M365.6,1889.7 L373.3,1892.3 L382.7,1898.8 L390.6,1907.0 L383.4,1912.4 L375.5,1919.6 L367.5,1918.2 L361.2,1913.9 L353.4,1912.4 L367.5,1907.0 L362.5,1898.8 L348.3,1898.8 L344.7,1893.6 L355.9,1889.7 Z M287.5,1893.6 L306.1,1891.0 L315.8,1891.0 L313.8,1898.8 L297.9,1902.9 L286.2,1900.1 Z M353.6,1882.3 L372.2,1882.3 L386.9,1876.4 L409.3,1871.3 L403.7,1868.4 L377.5,1869.4 L359.3,1874.1 Z M273.6,1893.6 L290.6,1887.7 L297.8,1889.7 L281.1,1895.7 Z M338.3,1885.9 L355.5,1884.0 L369.1,1885.4 L363.4,1887.7 L344.2,1887.7 Z M302.0,1884.7 L320.3,1882.3 L322.7,1884.7 L310.3,1887.2 Z M302.8,2088.6 L310.2,2080.7 L318.9,2077.5 L319.9,2082.3 L330.0,2079.1 L341.0,2082.3 L348.0,2082.3 L351.9,2088.6 L360.1,2096.6 L374.1,2099.8 L379.6,2112.6 L385.2,2118.9 L396.5,2123.7 L407.8,2125.3 L416.3,2131.7 L422.1,2138.1 L420.9,2147.6 L414.2,2157.2 L412.0,2170.0 L408.6,2182.7 L404.8,2189.1 L396.8,2192.3 L387.8,2198.7 L388.1,2206.7 L383.0,2214.6 L377.8,2224.2 L370.2,2226.8 L365.8,2224.2 L370.0,2232.2 L368.8,2238.5 L358.7,2240.1 L352.5,2246.4 L357.8,2251.2 L355.0,2259.1 L351.0,2262.2 L356.9,2268.4 L352.9,2277.7 L356.1,2282.3 L366.1,2289.3 L358.5,2290.8 L349.7,2286.8 L341.0,2280.7 L333.3,2268.4 L332.5,2255.9 L329.5,2243.3 L328.2,2233.8 L328.4,2217.8 L326.5,2205.1 L326.9,2189.1 L325.4,2174.8 L317.2,2168.4 L308.1,2160.4 L301.6,2147.6 L296.1,2138.1 L291.9,2131.7 L294.3,2123.7 L293.5,2115.8 L297.9,2111.0 L300.8,2106.2 L302.9,2098.2 Z M504.6,2001.6 L515.2,2003.5 L528.4,1998.4 L546.8,1997.1 L549.9,2008.9 L560.8,2012.7 L574.4,2016.9 L574.1,2011.1 L587.7,2013.7 L598.7,2016.9 L606.7,2016.2 L613.0,2026.4 L618.1,2039.2 L623.6,2048.8 L627.5,2058.3 L635.0,2068.5 L641.8,2077.5 L646.7,2082.3 L663.3,2077.5 L663.6,2082.3 L655.6,2099.8 L644.5,2112.6 L636.0,2122.1 L630.2,2134.9 L634.0,2150.8 L633.5,2163.6 L620.4,2176.4 L616.8,2190.7 L610.2,2198.7 L607.3,2208.3 L595.5,2221.0 L587.2,2224.2 L573.7,2226.8 L569.3,2224.2 L569.0,2216.2 L561.5,2200.3 L560.5,2185.9 L553.9,2171.6 L558.3,2154.0 L554.8,2134.9 L545.9,2118.9 L548.1,2106.2 L543.0,2101.4 L534.6,2096.6 L523.3,2097.2 L512.1,2099.8 L499.4,2101.7 L488.2,2093.4 L478.4,2082.3 L473.5,2074.3 L471.6,2068.5 L475.3,2055.1 L473.5,2048.8 L479.9,2037.6 L485.1,2027.4 L494.0,2020.1 L495.0,2012.1 Z M658.6,2154.0 L661.3,2165.2 L650.9,2193.9 L643.8,2197.1 L640.4,2187.5 L643.4,2176.4 L644.5,2166.8 L651.7,2163.6 Z M496.8,1997.7 L495.7,1992.0 L497.8,1983.5 L496.7,1978.7 L505.2,1976.9 L515.9,1977.5 L517.5,1969.3 L509.3,1963.1 L516.8,1960.9 L520.5,1958.4 L524.4,1954.4 L530.1,1950.8 L532.4,1946.8 L540.7,1945.3 L539.6,1937.2 L544.6,1933.6 L543.9,1940.1 L548.9,1944.1 L554.5,1945.0 L564.2,1942.5 L569.7,1940.1 L570.1,1934.8 L575.8,1934.2 L573.8,1929.1 L583.7,1927.4 L588.0,1926.8 L576.6,1925.9 L569.8,1925.3 L567.5,1918.2 L573.9,1911.6 L567.2,1910.3 L559.1,1921.0 L558.5,1924.5 L562.9,1927.4 L558.7,1935.7 L554.3,1938.6 L551.0,1940.4 L545.5,1930.3 L538.8,1932.7 L533.0,1929.7 L531.6,1921.6 L537.9,1916.7 L547.9,1908.3 L553.3,1901.5 L563.0,1898.8 L571.5,1896.2 L581.3,1898.8 L587.9,1900.7 L604.6,1904.8 L605.0,1908.9 L594.3,1908.3 L594.8,1913.9 L600.6,1915.3 L606.2,1912.4 L613.4,1908.9 L611.4,1903.4 L620.3,1905.1 L632.0,1903.4 L643.7,1902.0 L651.2,1900.7 L662.0,1903.4 L656.2,1898.8 L652.9,1892.3 L662.2,1891.5 L673.9,1904.2 L668.6,1894.9 L674.1,1893.1 L677.4,1889.7 L687.9,1888.4 L684.4,1884.7 L698.0,1883.5 L709.7,1879.5 L728.2,1882.3 L727.7,1889.7 L738.7,1889.2 L752.5,1891.0 L766.4,1889.7 L780.6,1896.2 L788.8,1894.9 L794.1,1891.5 L818.6,1894.9 L844.7,1898.8 L850.4,1901.5 L865.7,1899.3 L885.3,1901.5 L890.2,1902.0 L905.2,1911.9 L901.9,1913.3 L911.5,1919.6 L904.3,1922.5 L903.3,1926.8 L890.4,1927.4 L892.6,1933.3 L900.9,1938.6 L903.1,1947.7 L901.0,1953.8 L883.4,1938.6 L881.1,1931.2 L882.1,1922.5 L874.4,1921.6 L871.7,1928.9 L855.9,1928.9 L843.1,1929.7 L840.3,1942.5 L853.2,1945.3 L862.9,1953.8 L868.8,1963.1 L864.8,1975.6 L857.4,1978.1 L854.2,1983.5 L852.1,1988.8 L862.6,2000.9 L858.4,2005.1 L853.2,1997.7 L848.6,1995.2 L845.9,1989.5 L837.7,1991.4 L836.3,1986.0 L828.5,1991.4 L833.5,1996.8 L843.2,1997.7 L838.1,2004.1 L848.4,2015.3 L850.7,2020.1 L848.4,2031.2 L842.4,2040.8 L833.5,2044.9 L824.5,2048.8 L820.0,2046.2 L815.7,2053.5 L823.9,2066.3 L826.6,2077.5 L819.4,2083.9 L815.4,2087.7 L814.5,2082.9 L807.5,2077.5 L802.4,2073.6 L800.8,2080.7 L799.3,2086.1 L803.1,2092.8 L809.0,2098.2 L812.1,2107.8 L813.6,2111.6 L806.4,2106.8 L802.8,2098.2 L796.7,2089.6 L796.3,2077.5 L792.5,2064.7 L785.3,2065.3 L782.3,2056.7 L774.6,2047.2 L770.0,2044.6 L760.7,2047.2 L760.0,2052.0 L749.7,2063.1 L744.3,2066.9 L744.8,2080.7 L738.3,2090.2 L733.7,2082.3 L728.7,2071.1 L723.5,2059.9 L721.4,2048.8 L714.0,2048.8 L709.0,2040.8 L702.8,2035.0 L689.1,2035.4 L677.5,2034.4 L674.7,2029.6 L668.0,2030.9 L659.3,2026.4 L655.8,2020.1 L650.5,2020.7 L658.1,2032.8 L661.4,2038.2 L668.9,2038.6 L674.5,2032.2 L676.3,2038.2 L685.4,2044.6 L680.0,2055.1 L673.5,2060.6 L665.4,2064.7 L654.6,2071.1 L646.4,2074.9 L641.7,2075.2 L639.0,2066.3 L631.4,2053.5 L626.6,2044.0 L620.4,2032.8 L615.7,2026.4 L613.9,2027.1 L610.1,2023.2 L608.5,2020.1 L612.9,2015.9 L615.2,2007.3 L615.6,2000.0 L606.5,2000.9 L601.0,1999.3 L594.4,1999.0 L589.8,1993.0 L589.4,1988.2 L595.4,1985.1 L602.8,1982.5 L611.7,1981.9 L620.0,1985.1 L627.4,1983.5 L625.3,1978.7 L616.8,1974.0 L617.8,1966.2 L608.2,1968.4 L605.3,1973.7 L598.1,1967.8 L592.9,1975.6 L592.5,1981.9 L587.9,1986.6 L582.3,1987.6 L580.8,1994.6 L579.9,1999.3 L575.6,1994.6 L571.0,1986.6 L569.3,1981.9 L558.6,1974.6 L554.5,1970.9 L551.7,1974.6 L556.5,1981.9 L561.7,1982.5 L568.3,1987.6 L564.9,1991.4 L563.2,1994.6 L561.3,1988.2 L552.7,1983.5 L546.7,1977.2 L542.1,1974.6 L535.8,1978.4 L528.7,1978.1 L528.7,1982.5 L521.8,1986.6 L519.7,1992.3 L515.2,1998.4 L506.5,2000.3 L502.1,1997.1 Z M150.8,1902.0 L155.8,1905.6 L160.3,1909.7 L150.2,1913.9 L145.6,1911.1 L135.8,1911.9 Z M507.0,1956.9 L524.1,1953.2 L524.6,1948.3 L520.5,1946.2 L515.8,1939.2 L515.9,1933.6 L511.3,1933.3 L513.0,1930.9 L508.6,1931.2 L505.9,1937.2 L509.2,1942.2 L513.4,1944.7 L509.3,1947.7 L510.1,1951.4 Z M506.1,1950.2 L506.3,1943.1 L501.7,1941.0 L496.8,1944.7 L496.8,1951.4 Z M469.4,1911.1 L474.1,1908.6 L486.7,1908.6 L491.4,1912.4 L481.3,1917.0 L471.8,1915.3 Z M622.9,1894.9 L628.2,1888.4 L636.4,1883.5 L646.5,1881.2 L644.8,1884.7 L633.6,1891.0 L631.8,1896.7 Z M540.1,1876.4 L548.5,1874.1 L567.6,1873.7 L560.2,1878.3 L551.9,1881.9 L545.9,1879.3 Z M689.7,1876.4 L692.9,1872.2 L707.5,1876.4 L701.5,1878.8 Z M782.4,1885.9 L787.7,1883.5 L804.3,1885.4 L797.6,1887.2 Z M871.3,2015.9 L872.6,2008.6 L869.7,2007.3 L872.0,2002.8 L880.4,2000.9 L880.9,1996.8 L885.5,1993.0 L882.7,1985.7 L886.1,1985.1 L890.6,1991.4 L890.6,1995.2 L893.9,2002.5 L889.8,2005.1 L885.0,2006.3 L881.8,2008.9 L875.9,2008.9 L874.5,2015.3 Z M882.0,1983.5 L879.1,1978.1 L877.6,1971.2 L889.7,1975.6 L891.9,1978.1 L889.3,1981.9 L881.8,1980.3 Z M877.0,1969.3 L868.0,1956.9 L858.3,1943.8 L866.3,1950.8 L872.8,1958.4 L877.3,1966.2 Z M851.5,2042.4 L853.6,2035.4 L854.3,2045.6 Z M821.9,2054.2 L826.5,2052.0 L827.2,2056.7 Z M745.1,2085.4 L750.4,2091.8 L747.0,2096.6 L744.7,2090.2 Z M855.0,2056.7 L859.8,2057.4 L861.4,2071.1 L867.4,2074.3 L858.7,2071.7 L854.9,2064.7 Z M863.6,2093.4 L872.8,2084.8 L876.2,2093.4 L873.7,2097.6 L869.2,2093.4 Z M788.7,2097.9 L795.0,2099.2 L803.7,2109.4 L812.2,2118.9 L819.1,2125.3 L818.2,2134.6 L813.2,2133.3 L805.1,2123.7 L798.1,2111.0 Z M816.6,2137.4 L825.7,2136.8 L832.7,2136.5 L842.3,2140.6 L841.5,2143.5 L829.6,2141.9 L819.9,2139.4 Z M827.7,2111.0 L833.3,2109.4 L838.8,2104.6 L845.6,2098.2 L849.5,2093.4 L855.5,2098.8 L852.1,2106.2 L852.5,2112.6 L847.8,2126.9 L841.6,2126.9 L833.2,2125.3 L830.5,2120.5 L827.8,2115.8 Z M857.3,2113.2 L861.5,2111.9 L872.8,2111.0 L867.3,2114.5 L860.2,2114.8 L863.0,2118.9 L868.0,2118.9 L863.7,2122.1 L866.3,2130.1 L862.6,2131.1 L860.8,2124.4 L859.1,2133.3 L856.8,2133.3 L855.7,2125.3 Z M889.8,2118.3 L898.2,2118.3 L900.8,2126.3 L909.4,2121.5 L917.8,2124.0 L928.8,2129.5 L936.4,2134.9 L933.9,2137.4 L942.7,2148.6 L933.1,2147.0 L925.2,2140.3 L920.6,2145.1 L911.1,2141.3 L908.8,2134.3 L902.1,2130.1 L895.1,2128.5 L892.4,2124.7 Z M833.6,2185.9 L832.4,2198.7 L830.6,2214.6 L826.9,2225.2 L834.1,2227.4 L850.1,2223.9 L867.6,2216.6 L874.6,2215.9 L879.7,2226.4 L889.8,2220.1 L886.5,2229.0 L888.9,2236.9 L899.1,2237.6 L904.6,2239.5 L915.1,2234.7 L923.3,2224.2 L934.6,2211.4 L939.9,2198.0 L935.9,2187.5 L931.7,2179.5 L926.1,2175.7 L926.1,2163.6 L921.4,2161.4 L920.1,2150.2 L916.6,2157.2 L912.5,2171.6 L907.0,2171.6 L899.8,2165.2 L903.5,2155.0 L893.1,2153.1 L886.6,2155.6 L882.0,2163.6 L875.4,2160.4 L869.1,2165.2 L860.5,2171.6 L855.8,2178.0 L844.1,2181.5 Z M894.8,2245.8 L903.4,2245.8 L900.9,2250.2 L895.1,2254.3 L892.3,2252.8 Z M980.4,2225.8 L981.6,2231.5 L983.1,2235.3 L988.7,2236.0 L981.9,2241.1 L976.6,2246.4 L971.5,2248.0 L975.2,2243.3 L973.5,2241.1 L978.6,2236.9 L979.9,2228.0 Z M968.0,2244.9 L968.9,2248.7 L960.8,2254.3 L952.6,2259.1 L948.1,2262.8 L942.0,2264.0 L938.6,2262.2 L944.9,2257.5 L954.9,2252.8 L961.7,2249.0 Z M286.0,2045.6 L294.8,2041.7 L305.4,2044.6 L313.1,2049.7 L315.1,2051.3 L305.8,2052.6 L304.8,2049.7 L297.0,2045.6 Z M314.0,2056.7 L318.9,2052.3 L326.6,2052.6 L330.7,2056.4 L323.2,2059.0 Z M373.3,1963.7 L385.0,1952.3 L384.7,1956.9 L389.5,1961.5 L388.0,1967.1 L380.6,1966.8 Z M639.3,1972.4 L649.0,1966.2 L654.4,1972.4 L650.5,1977.2 L656.7,1981.9 L660.9,1991.4 L660.1,1997.7 L651.9,1996.2 L648.1,1989.8 L643.8,1981.9 L640.3,1977.2 Z M666.9,1967.8 L673.7,1969.3 L675.5,1975.6 L669.2,1975.6 Z M610.7,2114.8 L616.4,2115.1 L616.3,2122.1 L610.7,2123.7 Z M290.7,1966.8 L303.1,1961.5 L309.1,1964.7 L309.0,1967.8 L302.8,1967.8 L295.2,1967.8 Z M294.9,1981.9 L298.7,1981.9 L306.4,1970.9 L303.0,1969.9 L297.4,1975.6 Z M309.6,1969.3 L318.7,1971.5 L312.5,1978.1 L308.1,1976.2 Z M306.1,1982.8 L318.3,1979.7 L325.6,1977.2 L326.1,1975.6 L318.1,1976.5 L315.5,1980.3 L307.4,1981.3 Z M284.7,1946.2 L290.0,1945.3 L285.7,1955.3 L282.2,1952.3 Z M259.9,1909.7 L272.7,1907.5 L267.8,1912.4 L259.2,1912.4 Z M259.6,1923.9 L272.3,1919.6 L280.0,1919.6 L270.8,1923.9 L263.6,1924.5 Z M335.8,1888.4 L343.5,1888.4 L343.6,1891.5 L332.9,1893.6 Z M323.8,1889.0 L331.5,1889.0 L328.9,1893.6 L321.7,1894.9 L319.4,1892.3 Z M335.2,1911.1 L342.5,1909.7 L346.3,1915.3 L337.4,1919.0 L331.3,1916.7 Z M317.8,1900.1 L325.6,1899.3 L323.9,1902.6 L317.5,1902.9 Z M327.7,1882.3 L339.7,1881.6 L334.5,1885.9 L325.6,1885.4 Z M353.7,1873.1 L365.3,1872.2 L365.6,1876.4 L354.5,1878.3 L349.5,1876.4 Z M292.4,1882.3 L307.0,1880.0 L304.7,1882.8 L293.7,1884.0 Z M332.9,1876.9 L342.4,1876.4 L340.7,1879.3 L331.6,1879.3 Z M208.5,1954.4 L214.6,1956.9 L214.9,1962.2 L211.0,1960.6 Z M205.4,1944.1 L208.0,1944.7 L205.3,1950.2 L204.1,1947.7 Z M165.6,1933.3 L171.3,1932.7 L167.7,1935.7 L162.5,1936.3 Z M854.8,2142.2 L866.1,2142.2 L866.0,2143.8 L854.7,2144.1 Z M867.0,2148.6 L877.3,2142.5 L877.2,2143.8 L868.4,2148.9 Z M879.8,2109.4 L882.6,2111.0 L881.3,2117.3 L879.9,2114.2 Z M881.1,2125.3 L889.5,2126.0 L888.1,2127.2 L881.0,2126.9 Z M849.8,2089.3 L855.4,2079.7 L855.7,2082.3 L851.4,2088.6 Z M868.4,2075.9 L872.9,2080.7 L871.9,2083.9 L869.6,2081.3 Z M862.2,2078.1 L865.7,2079.1 L866.4,2086.4 L864.3,2084.5 Z M938.5,2133.3 L949.1,2129.1 L948.3,2133.3 L939.7,2135.8 Z M974.5,2180.2 L981.0,2186.9 L979.5,2187.2 L974.1,2181.8 Z M541.7,1985.1 L545.6,1985.1 L545.5,1990.7 L542.4,1991.4 Z M542.5,1980.3 L544.8,1978.7 L544.7,1983.5 L542.9,1982.8 Z M553.3,1994.6 L561.4,1993.9 L560.1,1998.7 L553.4,1996.2 Z M582.8,2002.2 L590.3,2003.1 L589.6,2004.1 L583.2,2003.5 Z M606.3,2004.1 L612.0,2002.2 L610.7,2005.1 L607.0,2005.1 Z M303.1,2057.1 L308.9,2057.7 L306.5,2059.0 L303.0,2058.0 Z M334.0,2056.7 L338.4,2057.1 L337.7,2058.3 L333.8,2058.3 Z M372.7,2278.6 L380.6,2278.9 L379.7,2281.3 L373.5,2280.7 Z M346.9,2081.3 L349.7,2081.3 L349.3,2083.5 L346.8,2083.5 Z M161.3,1895.7 L166.7,1894.9 L165.4,1896.2 L159.5,1896.7 Z M876.2,1895.4 L878.3,1894.9 L881.5,1896.7 L879.1,1896.7 Z M365.9,1902.9 L373.0,1901.5 L375.4,1904.2 Z M317.8,1878.8 L324.8,1877.6 L319.8,1880.0 Z M347.1,1880.0 L357.1,1879.3 L356.3,1881.6 L346.2,1882.3 Z M606.1,1873.7 L618.8,1872.2 L631.4,1872.8 L622.1,1874.1 Z M555.4,1873.5 L565.8,1873.5 L568.2,1875.3 L557.6,1875.3 Z M194.7,2352.7 L223.3,2353.4 L244.6,2350.3 L262.5,2344.3 L289.7,2343.1 L319.9,2344.3 L324.3,2339.2 L349.0,2340.5 L368.5,2340.5 L379.2,2339.2 L381.6,2327.3 L387.0,2317.6 L395.2,2314.2 L392.7,2320.4 L392.0,2327.3 L400.0,2337.9 L406.6,2345.6 L430.0,2352.7 L457.1,2352.7 L473.4,2346.8 L491.3,2340.5 L500.5,2335.3 L520.5,2332.7 L540.8,2332.7 L561.0,2332.7 L581.6,2331.4 L597.9,2331.4 L614.3,2325.9 L632.8,2321.8 L639.9,2324.5 L656.0,2325.9 L664.8,2328.6 L668.4,2332.7 L681.2,2328.6 L699.6,2323.2 L720.7,2323.2 L741.8,2323.2 L762.8,2323.2 L783.9,2323.2 L806.5,2321.8 L820.2,2324.5 L829.6,2328.6 L844.7,2332.7 L858.4,2336.6 L841.7,2343.1 L821.6,2351.5 L830.4,2353.4 L846.3,2352.7 M772.1,1952.3 L776.4,1947.7 L778.3,1940.1 M603.0,2126.9 L603.8,2134.9 L607.0,2142.9 M616.0,2146.1 L617.1,2154.0 L618.0,2160.4 M621.3,2101.4 L622.5,2106.8 M601.6,2123.4 L602.8,2121.2 " fill="none" stroke="#000" stroke-width="1.9" stroke-linejoin="round"/>
<path d="M86.2,2048.8 h0.6 M89.3,2053.2 h0.6 M80.2,2045.6 h0.6 M25.7,2173.2 h0.6 M1015.1,2171.6 h0.6 M978.6,2184.3 h0.6 M969.4,2146.1 h0.6 M988.4,2166.8 h0.6 M104.6,2171.9 h0.6 M39.4,2159.5 h0.6 M925.4,2071.1 h0.6 M898.3,2091.8 h0.6 M349.7,2071.1 h0.6 M348.8,2064.7 h0.6 M335.5,2057.7 h0.6 M305.5,2058.0 h0.6 M454.6,2067.9 h0.6 M476.7,2025.5 h0.6 M453.3,1995.2 h0.6 M474.6,2011.4 h0.6 M679.4,2180.2 h0.6 M673.6,2182.7 h0.6 M725.8,2103.0 h0.6 M265.1,2117.3 h0.6 M377.7,2279.8 h0.6 M432.6,2287.7 h0.6 M692.3,2272.4 h0.6 M504.3,2166.8 h0.6 M479.7,2141.3 h0.6 M542.8,1988.8 h0.6 M543.3,1981.9 h0.6 M557.0,1996.2 h0.6 M586.6,2003.5 h0.6 M607.9,2004.1 h0.6 M346.5,2012.7 h0.6 M869.4,2031.2 h0.6 M880.8,2126.0 h0.6 M874.2,2142.9 h0.6 M860.0,2144.5 h0.6 M851.7,2142.9 h0.6 M846.1,2142.9 h0.6 M948.2,2130.1 h0.6 M956.3,2134.9 h0.6 M964.5,2093.4 h0.6 M989.2,2087.0 h0.6 M1004.9,2109.4 h0.6 M127.0,2144.5 h0.6 M222.8,2201.9 h0.6 M73.0,2255.9 h0.6 M553.6,1874.6 h0.6 M620.2,1872.2 h0.6 M482.0,1887.2 h0.6 M125.7,1945.3 h0.6 M116.1,1947.7 h0.6 M106.7,1949.9 h0.6 M98.5,1950.8 h0.6 M90.6,1951.4 h0.6 M953.2,1952.3 h0.6 M944.3,1950.8 h0.6 M934.5,1948.3 h0.6 M893.0,1970.9 h0.6 M896.9,1967.8 h0.6 M898.3,1961.5 h0.6 M900.7,1956.9 h0.6 M871.0,2025.5 h0.6 M862.1,2037.9 h0.6 M307.4,2037.6 h0.6 M311.1,2040.8 h0.6 M317.0,2048.8 h0.6 M307.1,2030.9 h0.6 M348.9,2066.6 h0.6 M349.0,2073.6 h0.6 M353.5,2074.0 h0.6 M345.5,2060.6 h0.6 M671.3,2075.9 h0.6 M559.4,2074.3 h0.6 M961.4,2141.3 h0.6 M969.9,2152.4 h0.6 M987.4,2165.2 h0.6 M990.3,2176.4 h0.6 M36.5,2182.7 h0.6 M1010.7,2117.3 h0.6 M78.7,2183.4 h0.6 M98.3,2168.4 h0.6 M138.8,2182.7 h0.6 M115.5,2163.6 h0.6 M873.9,2121.5 h0.6 M885.5,2141.3 h0.6 M898.5,2136.5 h0.6 M789.0,2077.5 h0.6 M781.5,2090.2 h0.6 M724.3,2080.7 h0.6 M727.4,2117.3 h0.6 M641.5,2153.1 h0.6 M646.7,2156.6 h0.6 M650.2,2145.7 h0.6 M450.6,2062.2 h0.6 M446.9,1993.0 h0.6 M439.5,1989.8 h0.6 M924.2,2276.8 h0.6 M895.5,2288.7 h0.6 M459.7,2300.3 h0.6 M418.4,2306.4 h0.6 M388.4,2311.9 h0.6 M614.6,2264.7 h0.6 M649.9,2263.4 h0.6 M723.4,2236.9 h0.6 M487.8,2234.4 h0.6 M494.3,2244.2 h0.6 M329.8,2076.8 h0.6 M324.3,2075.9 h0.6 M340.8,2080.7 h0.6 M295.1,2054.2 h0.6 M279.3,2063.8 h0.6 M213.0,2082.9 h0.6 M212.5,2055.8 h0.6 M199.1,2023.2 h0.6 M166.4,1931.2 h0.6 M144.2,1941.0 h0.6 M189.1,1925.9 h0.6 M208.2,1934.2 h0.6 M209.8,1938.6 h0.6 M369.3,2289.3 h0.6 M336.7,2274.6 h0.6 M333.7,2263.7 h0.6 M331.1,2252.8 h0.6 " stroke="#000" stroke-width="2.6" stroke-linecap="round"/>
</g>
<path d="M790.6,1858.5 L798.7,1861.0 L806.8,1863.4 L815.9,1866.5 L825.8,1870.3 L835.8,1874.1 L846.3,1878.8 L856.9,1883.5 L866.8,1888.4 L876.0,1893.6 L885.2,1898.8 L893.5,1904.2 L901.9,1909.7 L910.0,1915.3 L917.9,1921.0 L925.8,1926.8 L933.2,1932.7 L940.6,1938.6 L947.6,1944.7 L954.3,1950.8 L961.0,1956.9 L966.7,1963.1 L972.4,1969.3 L977.9,1975.6 L983.1,1981.9 L988.2,1988.2 L992.5,1994.6 L996.8,2000.9 L1000.7,2007.3 L1004.2,2013.7 L1007.7,2020.1 L1010.3,2026.4 L1013.0,2032.8 L1015.2,2039.2 L1017.1,2045.6 L1019.0,2052.0 L1020.5,2058.3 L1022.1,2064.7 L1023.5,2071.1 L1024.6,2077.5 L1025.7,2083.9 L1026.3,2090.2 L1027.0,2096.6 L1027.4,2103.0 L1027.7,2109.4 L1028.0,2115.8 L1027.7,2122.1 L1027.4,2128.5 L1027.0,2134.9 L1026.3,2141.3 L1025.7,2147.6 L1024.6,2154.0 L1023.5,2160.4 L1022.1,2166.8 L1020.5,2173.2 L1019.0,2179.5 L1017.1,2185.9 L1015.2,2192.3 L1013.0,2198.7 L1010.3,2205.1 L1007.7,2211.4 L1004.2,2217.8 L1000.7,2224.2 L996.8,2230.6 L992.5,2236.9 L988.2,2243.3 L983.1,2249.6 L977.9,2255.9 L972.4,2262.2 L966.7,2268.4 L961.0,2274.6 L954.3,2280.7 L947.6,2286.8 L940.6,2292.9 L933.2,2298.8 L925.8,2304.7 L917.9,2310.5 L910.0,2316.2 L901.9,2321.8 L893.5,2327.3 L885.2,2332.7 L876.0,2337.9 L866.8,2343.1 L856.9,2348.0 L846.3,2352.7 L835.8,2357.4 L825.8,2361.2 L815.9,2365.0 L806.8,2368.1 L798.7,2370.5 L790.6,2373.0 L250.4,2373.0 L242.3,2370.5 L234.2,2368.1 L225.1,2365.0 L215.2,2361.2 L205.2,2357.4 L194.7,2352.7 L184.1,2348.0 L174.2,2343.1 L165.0,2337.9 L155.8,2332.7 L147.5,2327.3 L139.1,2321.8 L131.0,2316.2 L123.1,2310.5 L115.2,2304.7 L107.8,2298.8 L100.4,2292.9 L93.4,2286.8 L86.7,2280.7 L80.0,2274.6 L74.3,2268.4 L68.6,2262.2 L63.1,2255.9 L57.9,2249.6 L52.8,2243.3 L48.5,2236.9 L44.2,2230.6 L40.3,2224.2 L36.8,2217.8 L33.3,2211.4 L30.7,2205.1 L28.0,2198.7 L25.8,2192.3 L23.9,2185.9 L22.0,2179.5 L20.5,2173.2 L18.9,2166.8 L17.5,2160.4 L16.4,2154.0 L15.3,2147.6 L14.7,2141.3 L14.0,2134.9 L13.6,2128.5 L13.3,2122.1 L13.0,2115.8 L13.3,2109.4 L13.6,2103.0 L14.0,2096.6 L14.7,2090.2 L15.3,2083.9 L16.4,2077.5 L17.5,2071.1 L18.9,2064.7 L20.5,2058.3 L22.0,2052.0 L23.9,2045.6 L25.8,2039.2 L28.0,2032.8 L30.7,2026.4 L33.3,2020.1 L36.8,2013.7 L40.3,2007.3 L44.2,2000.9 L48.5,1994.6 L52.8,1988.2 L57.9,1981.9 L63.1,1975.6 L68.6,1969.3 L74.3,1963.1 L80.0,1956.9 L86.7,1950.8 L93.4,1944.7 L100.4,1938.6 L107.8,1932.7 L115.2,1926.8 L123.1,1921.0 L131.0,1915.3 L139.1,1909.7 L147.5,1904.2 L155.8,1898.8 L165.0,1893.6 L174.2,1888.4 L184.1,1883.5 L194.7,1878.8 L205.2,1874.1 L215.2,1870.3 L225.1,1866.5 L234.2,1863.4 L242.3,1861.0 L250.4,1858.5 Z" fill="none" stroke="#000" stroke-width="2"/>
<rect x="13.1" y="2395.0" width="98.3" height="33.5" fill="#1f305e" stroke="none" stroke-width="0"/>
<rect x="110.9" y="2395.0" width="98.3" height="33.5" fill="#2166ac" stroke="none" stroke-width="0"/>
<rect x="208.7" y="2395.0" width="98.3" height="33.5" fill="#4393c3" stroke="none" stroke-width="0"/>
<rect x="306.5" y="2395.0" width="98.3" height="33.5" fill="#92c5de" stroke="none" stroke-width="0"/>
<rect x="404.3" y="2395.0" width="98.3" height="33.5" fill="#d1e5f0" stroke="none" stroke-width="0"/>
<rect x="502.2" y="2395.0" width="98.3" height="33.5" fill="#fddbc7" stroke="none" stroke-width="0"/>
<rect x="600.0" y="2395.0" width="98.3" height="33.5" fill="#f4a582" stroke="none" stroke-width="0"/>
<rect x="697.8" y="2395.0" width="98.3" height="33.5" fill="#d6604d" stroke="none" stroke-width="0"/>
<rect x="795.6" y="2395.0" width="98.3" height="33.5" fill="#b2182b" stroke="none" stroke-width="0"/>
<rect x="893.4" y="2395.0" width="98.3" height="33.5" fill="#67001f" stroke="none" stroke-width="0"/>
<line x1="110.9" y1="2395.0" x2="110.9" y2="2428.5" stroke="#3a3a3a" stroke-width="0.8" />
<line x1="208.7" y1="2395.0" x2="208.7" y2="2428.5" stroke="#3a3a3a" stroke-width="0.8" />
<line x1="306.5" y1="2395.0" x2="306.5" y2="2428.5" stroke="#3a3a3a" stroke-width="0.8" />
<line x1="404.3" y1="2395.0" x2="404.3" y2="2428.5" stroke="#3a3a3a" stroke-width="0.8" />
<line x1="502.2" y1="2395.0" x2="502.2" y2="2428.5" stroke="#3a3a3a" stroke-width="0.8" />
<line x1="600.0" y1="2395.0" x2="600.0" y2="2428.5" stroke="#3a3a3a" stroke-width="0.8" />
<line x1="697.8" y1="2395.0" x2="697.8" y2="2428.5" stroke="#3a3a3a" stroke-width="0.8" />
<line x1="795.6" y1="2395.0" x2="795.6" y2="2428.5" stroke="#3a3a3a" stroke-width="0.8" />
<line x1="893.4" y1="2395.0" x2="893.4" y2="2428.5" stroke="#3a3a3a" stroke-width="0.8" />
<rect x="13.1" y="2395" width="978.1" height="33.5" fill="none" stroke="#3a3a3a" stroke-width="0.8"/>
<text transform="translate(110.9,2466.7) scale(0.7668,1)" font-size="38.5" text-anchor="middle" fill="#4d4d4f" stroke="#4d4d4f" stroke-width="0.5">−0.6</text>
<text transform="translate(208.7,2466.7) scale(0.7668,1)" font-size="38.5" text-anchor="middle" fill="#4d4d4f" stroke="#4d4d4f" stroke-width="0.5">−0.4</text>
<text transform="translate(306.5,2466.7) scale(0.7668,1)" font-size="38.5" text-anchor="middle" fill="#4d4d4f" stroke="#4d4d4f" stroke-width="0.5">−0.2</text>
<text transform="translate(404.3,2466.7) scale(0.7668,1)" font-size="38.5" text-anchor="middle" fill="#4d4d4f" stroke="#4d4d4f" stroke-width="0.5">−0.1</text>
<text transform="translate(502.2,2466.7) scale(0.7668,1)" font-size="38.5" text-anchor="middle" fill="#4d4d4f" stroke="#4d4d4f" stroke-width="0.5">0.0</text>
<text transform="translate(600.0,2466.7) scale(0.7668,1)" font-size="38.5" text-anchor="middle" fill="#4d4d4f" stroke="#4d4d4f" stroke-width="0.5">0.1</text>
<text transform="translate(697.8,2466.7) scale(0.7668,1)" font-size="38.5" text-anchor="middle" fill="#4d4d4f" stroke="#4d4d4f" stroke-width="0.5">0.2</text>
<text transform="translate(795.6,2466.7) scale(0.7668,1)" font-size="38.5" text-anchor="middle" fill="#4d4d4f" stroke="#4d4d4f" stroke-width="0.5">0.4</text>
<text transform="translate(893.4,2466.7) scale(0.7668,1)" font-size="38.5" text-anchor="middle" fill="#4d4d4f" stroke="#4d4d4f" stroke-width="0.5">0.6</text>
<text transform="translate(367.0,2506.0) scale(0.8036,1)" font-size="38.5" text-anchor="start" fill="#4d4d4f" stroke="#4d4d4f" stroke-width="0.5">Trend (°C per decade)</text>
<rect x="13" y="2483.5" width="106.5" height="40.5" fill="none" stroke="#231f20" stroke-width="1.5"/>
<text transform="translate(24.0,2516.5) scale(0.7935,1)" font-size="38.5" text-anchor="start" fill="#4d4d4f" stroke="#4d4d4f" stroke-width="0.5">Colour</text>
<text transform="translate(143.0,2514.5) scale(0.7938,1)" font-size="38.5" text-anchor="start" fill="#4d4d4f" stroke="#4d4d4f" stroke-width="0.5">Significant</text>
<rect x="13" y="2539.5" width="105" height="40.5" fill="none" stroke="#231f20" stroke-width="1.5"/>
<path d="M28,2552 l16,16 M28,2568 l16,-16" stroke="#4d4d4f" stroke-width="1.7"/>
<path d="M57.5,2552 l16,16 M57.5,2568 l16,-16" stroke="#4d4d4f" stroke-width="1.7"/>
<path d="M86,2552 l16,16 M86,2568 l16,-16" stroke="#4d4d4f" stroke-width="1.7"/>
<text transform="translate(143.0,2573.0) scale(0.7920,1)" font-size="38.5" text-anchor="start" fill="#4d4d4f" stroke="#4d4d4f" stroke-width="0.5">Non significant</text>
<text transform="translate(1224.5,1122.5) scale(0.8246,1)" font-size="45.5" text-anchor="start" fill="#231f20" stroke="#231f20" stroke-width="0.5">(c) Temperatures have increased faster over</text>
<text transform="translate(1227.5,1177.5) scale(0.8250,1)" font-size="45.5" text-anchor="start" fill="#231f20" stroke="#231f20" stroke-width="0.5">land than over the oceans</text>
<line x1="1205.5" y1="1168.0" x2="1205.5" y2="1795.8" stroke="#4d4d4f" stroke-width="1.6" />
<line x1="1192.0" y1="1168.5" x2="1205.5" y2="1168.5" stroke="#4d4d4f" stroke-width="1.6" />
<text transform="translate(1186.5,1182.7) scale(0.7668,1)" font-size="38.5" text-anchor="end" fill="#4d4d4f" stroke="#4d4d4f" stroke-width="0.5">2.0</text>
<line x1="1192.0" y1="1293.8" x2="1205.5" y2="1293.8" stroke="#4d4d4f" stroke-width="1.6" />
<text transform="translate(1186.5,1308.0) scale(0.7668,1)" font-size="38.5" text-anchor="end" fill="#4d4d4f" stroke="#4d4d4f" stroke-width="0.5">1.5</text>
<line x1="1192.0" y1="1419.1" x2="1205.5" y2="1419.1" stroke="#4d4d4f" stroke-width="1.6" />
<text transform="translate(1186.5,1433.3) scale(0.7668,1)" font-size="38.5" text-anchor="end" fill="#4d4d4f" stroke="#4d4d4f" stroke-width="0.5">1.0</text>
<line x1="1192.0" y1="1544.4" x2="1205.5" y2="1544.4" stroke="#4d4d4f" stroke-width="1.6" />
<text transform="translate(1186.5,1557.4) scale(0.7668,1)" font-size="38.5" text-anchor="end" fill="#4d4d4f" stroke="#4d4d4f" stroke-width="0.5">0.5</text>
<line x1="1192.0" y1="1669.7" x2="1205.5" y2="1669.7" stroke="#4d4d4f" stroke-width="1.6" />
<text transform="translate(1186.5,1682.7) scale(0.7668,1)" font-size="38.5" text-anchor="end" fill="#4d4d4f" stroke="#4d4d4f" stroke-width="0.5">0.0</text>
<line x1="1192.0" y1="1795.0" x2="1205.5" y2="1795.0" stroke="#4d4d4f" stroke-width="1.6" />
<text transform="translate(1186.5,1804.7) scale(0.7668,1)" font-size="38.5" text-anchor="end" fill="#4d4d4f" stroke="#4d4d4f" stroke-width="0.5">−0.5</text>
<line x1="1192.0" y1="1795.0" x2="2074.5" y2="1795.0" stroke="#4d4d4f" stroke-width="1.6" />
<line x1="1209.5" y1="1795.0" x2="1209.5" y2="1807.0" stroke="#4d4d4f" stroke-width="1.6" />
<text transform="translate(1193.7,1843.3) scale(0.7706,1)" font-size="38.5" text-anchor="middle" fill="#4d4d4f" stroke="#4d4d4f" stroke-width="0.5">1850</text>
<line x1="1456.7" y1="1795.0" x2="1456.7" y2="1807.0" stroke="#4d4d4f" stroke-width="1.6" />
<text transform="translate(1440.2,1843.3) scale(0.7706,1)" font-size="38.5" text-anchor="middle" fill="#4d4d4f" stroke="#4d4d4f" stroke-width="0.5">1900</text>
<line x1="1704.0" y1="1795.0" x2="1704.0" y2="1807.0" stroke="#4d4d4f" stroke-width="1.6" />
<text transform="translate(1687.0,1843.3) scale(0.7706,1)" font-size="38.5" text-anchor="middle" fill="#4d4d4f" stroke="#4d4d4f" stroke-width="0.5">1950</text>
<line x1="1951.3" y1="1795.0" x2="1951.3" y2="1807.0" stroke="#4d4d4f" stroke-width="1.6" />
<text transform="translate(1932.0,1843.3) scale(0.7706,1)" font-size="38.5" text-anchor="middle" fill="#4d4d4f" stroke="#4d4d4f" stroke-width="0.5">2000</text>
<line x1="1207.5" y1="1669.7" x2="2052.6" y2="1669.7" stroke="#8a8a8a" stroke-width="1.4" />
<path d="M1209.5,1680.8 L1214.4,1660.3 L1219.4,1647.4 L1224.3,1653.2 L1229.3,1667.9 L1234.2,1659.1 L1239.2,1680.8 L1244.1,1706.0 L1249.1,1680.8 L1254.0,1663.2 L1258.9,1673.8 L1263.9,1685.5 L1268.8,1689.6 L1273.8,1676.7 L1278.7,1673.8 L1283.7,1659.1 L1288.6,1658.5 L1293.6,1658.5 L1298.5,1650.3 L1303.5,1660.3 L1308.4,1659.7 L1313.3,1660.9 L1318.3,1660.3 L1323.2,1672.0 L1328.2,1690.7 L1333.1,1653.2 L1338.1,1677.9 L1343.0,1601.7 L1348.0,1602.9 L1352.9,1645.6 L1357.9,1655.6 L1362.8,1642.7 L1367.7,1647.4 L1372.7,1657.3 L1377.6,1691.3 L1382.6,1697.2 L1387.5,1699.5 L1392.5,1711.8 L1397.4,1677.9 L1402.4,1644.5 L1407.3,1706.0 L1412.2,1676.1 L1417.2,1697.2 L1422.1,1697.2 L1427.1,1707.1 L1432.0,1683.7 L1437.0,1648.6 L1441.9,1653.2 L1446.9,1707.1 L1451.8,1680.8 L1456.8,1657.3 L1461.7,1680.8 L1466.6,1707.1 L1471.6,1733.5 L1476.5,1745.2 L1481.5,1697.2 L1486.4,1686.6 L1491.4,1701.3 L1496.3,1733.5 L1501.3,1751.1 L1506.2,1743.5 L1511.2,1742.3 L1516.1,1717.7 L1521.0,1723.0 L1526.0,1683.7 L1530.9,1664.4 L1535.9,1704.2 L1540.8,1729.4 L1545.8,1691.3 L1550.7,1692.5 L1555.7,1674.9 L1560.6,1679.6 L1565.6,1691.3 L1570.5,1682.5 L1575.4,1687.8 L1580.4,1679.0 L1585.3,1649.7 L1590.3,1666.1 L1595.2,1673.8 L1600.2,1693.7 L1605.1,1655.6 L1610.1,1643.3 L1615.0,1657.3 L1620.0,1683.7 L1624.9,1660.3 L1629.8,1667.9 L1634.8,1653.2 L1639.7,1614.6 L1644.7,1629.2 L1649.6,1628.0 L1654.6,1591.1 L1659.5,1595.8 L1664.5,1603.4 L1669.4,1597.0 L1674.4,1564.8 L1679.3,1590.0 L1684.2,1641.5 L1689.2,1636.8 L1694.1,1652.7 L1699.1,1643.9 L1704.0,1647.4 L1709.0,1619.3 L1713.9,1597.0 L1718.9,1597.0 L1723.8,1632.7 L1728.8,1656.2 L1733.7,1648.6 L1738.6,1607.5 L1743.6,1612.2 L1748.5,1616.3 L1753.5,1619.3 L1758.4,1615.2 L1763.4,1628.0 L1768.3,1626.3 L1773.3,1669.1 L1778.2,1648.6 L1783.1,1635.7 L1788.1,1632.7 L1793.0,1636.8 L1798.0,1594.1 L1802.9,1617.5 L1807.9,1653.2 L1812.8,1603.4 L1817.8,1600.5 L1822.7,1632.1 L1827.7,1639.8 L1832.6,1632.7 L1837.5,1575.3 L1842.5,1597.0 L1847.4,1569.5 L1852.4,1557.7 L1857.3,1557.7 L1862.3,1579.4 L1867.2,1556.6 L1872.2,1577.1 L1877.1,1578.2 L1882.1,1580.0 L1887.0,1547.2 L1891.9,1548.9 L1896.9,1561.8 L1901.8,1530.2 L1906.8,1532.5 L1911.7,1565.4 L1916.7,1554.8 L1921.6,1551.9 L1926.6,1531.4 L1931.5,1538.4 L1936.5,1512.0 L1941.4,1487.4 L1946.3,1544.8 L1951.3,1537.2 L1956.2,1507.9 L1961.2,1498.0 L1966.1,1495.0 L1971.1,1503.8 L1976.0,1488.6 L1981.0,1489.2 L1985.9,1503.2 L1990.9,1516.7 L1995.8,1479.8 L2000.7,1473.9 L2005.7,1498.0 L2010.6,1485.7 L2015.6,1485.7 L2020.5,1461.1 L2025.5,1434.7 L2030.4,1413.0 L2035.4,1430.6 L2040.3,1438.8 L2045.2,1415.9 L2050.2,1420.0" fill="none" stroke="#2e4a9e" stroke-width="2.0" stroke-linejoin="round" />
<path d="M1209.5,1695.4 L1214.4,1651.5 L1219.4,1663.2 L1224.3,1672.0 L1229.3,1638.6 L1234.2,1660.3 L1239.2,1683.7 L1244.1,1707.1 L1249.1,1663.2 L1254.0,1626.9 L1258.9,1701.3 L1263.9,1697.2 L1268.8,1738.2 L1273.8,1652.7 L1278.7,1695.4 L1283.7,1660.3 L1288.6,1651.5 L1293.6,1657.3 L1298.5,1660.3 L1303.5,1636.8 L1308.4,1669.1 L1313.3,1688.4 L1318.3,1660.3 L1323.2,1645.6 L1328.2,1638.6 L1333.1,1710.1 L1338.1,1689.6 L1343.0,1598.8 L1348.0,1560.7 L1352.9,1666.1 L1357.9,1679.0 L1362.8,1645.6 L1367.7,1674.9 L1372.7,1707.1 L1377.6,1732.3 L1382.6,1718.9 L1387.5,1697.2 L1392.5,1710.1 L1397.4,1677.9 L1402.4,1640.9 L1407.3,1701.3 L1412.2,1693.7 L1417.2,1701.3 L1422.1,1703.0 L1427.1,1667.9 L1432.0,1674.9 L1437.0,1645.6 L1441.9,1632.7 L1446.9,1666.1 L1451.8,1623.4 L1456.8,1601.7 L1461.7,1590.0 L1466.6,1640.9 L1471.6,1660.3 L1476.5,1685.5 L1481.5,1639.8 L1486.4,1608.7 L1491.4,1701.3 L1496.3,1661.4 L1501.3,1659.1 L1506.2,1653.2 L1511.2,1670.8 L1516.1,1670.8 L1521.0,1639.8 L1526.0,1572.4 L1530.9,1572.4 L1535.9,1660.3 L1540.8,1708.9 L1545.8,1666.1 L1550.7,1626.9 L1555.7,1635.1 L1560.6,1588.8 L1565.6,1626.3 L1570.5,1625.1 L1575.4,1616.3 L1580.4,1599.9 L1585.3,1561.8 L1590.3,1607.5 L1595.2,1585.9 L1600.2,1669.1 L1605.1,1584.1 L1610.1,1568.3 L1615.0,1564.8 L1620.0,1645.6 L1624.9,1580.0 L1629.8,1603.4 L1634.8,1592.9 L1639.7,1566.5 L1644.7,1522.6 L1649.6,1541.9 L1654.6,1547.2 L1659.5,1548.9 L1664.5,1561.8 L1669.4,1553.0 L1674.4,1523.8 L1679.3,1581.2 L1684.2,1566.5 L1689.2,1550.7 L1694.1,1553.0 L1699.1,1581.2 L1704.0,1638.6 L1709.0,1580.0 L1713.9,1574.1 L1718.9,1516.7 L1723.8,1590.0 L1728.8,1587.0 L1733.7,1662.0 L1738.6,1570.6 L1743.6,1546.0 L1748.5,1553.0 L1753.5,1584.1 L1758.4,1538.4 L1763.4,1543.1 L1768.3,1521.4 L1773.3,1625.1 L1778.2,1594.6 L1783.1,1576.5 L1788.1,1557.7 L1793.0,1601.7 L1798.0,1590.0 L1802.9,1556.0 L1807.9,1576.5 L1812.8,1610.5 L1817.8,1493.3 L1822.7,1610.5 L1827.7,1538.4 L1832.6,1628.0 L1837.5,1512.0 L1842.5,1550.7 L1847.4,1537.2 L1852.4,1475.7 L1857.3,1436.4 L1862.3,1550.7 L1867.2,1458.1 L1872.2,1550.7 L1877.1,1548.9 L1882.1,1510.9 L1887.0,1469.8 L1891.9,1423.0 L1896.9,1481.6 L1901.8,1413.0 L1906.8,1425.9 L1911.7,1513.8 L1916.7,1500.3 L1921.6,1455.2 L1926.6,1386.6 L1931.5,1465.7 L1936.5,1405.4 L1941.4,1340.9 L1946.3,1395.4 L1951.3,1417.1 L1956.2,1364.4 L1961.2,1331.0 L1966.1,1338.0 L1971.1,1382.0 L1976.0,1299.9 L1981.0,1329.2 L1985.9,1284.1 L1990.9,1352.7 L1995.8,1336.8 L2000.7,1292.9 L2005.7,1336.2 L2010.6,1336.2 L2015.6,1313.4 L2020.5,1320.4 L2025.5,1250.1 L2030.4,1207.9 L2035.4,1235.5 L2040.3,1285.3 L2045.2,1241.3 L2050.2,1200.3" fill="none" stroke="#e31e26" stroke-width="2.0" stroke-linejoin="round" />
<text transform="translate(1227.6,1462.0) scale(0.7822,1)" font-size="38.5" text-anchor="start" fill="#e31e26" stroke="#e31e26" stroke-width="0.5">Land</text>
<text transform="translate(1227.6,1502.0) scale(0.7838,1)" font-size="38.5" text-anchor="start" fill="#2e4a9e" stroke="#2e4a9e" stroke-width="0.5">Oceans</text>
<text transform="translate(1950.0,1260.0) scale(0.7673,1)" font-size="38.5" text-anchor="start" fill="#e31e26" stroke="#e31e26" stroke-width="0.5">1.59</text>
<text transform="translate(1956.0,1441.5) scale(0.7673,1)" font-size="38.5" text-anchor="start" fill="#2e4a9e" stroke="#2e4a9e" stroke-width="0.5">0.88</text>
<line x1="2001.0" y1="1271.2" x2="2047.0" y2="1271.2" stroke="#e31e26" stroke-width="1.3" stroke-dasharray="8 4"/>
<line x1="2001.0" y1="1449.3" x2="2047.0" y2="1449.3" stroke="#2e4a9e" stroke-width="1.3" stroke-dasharray="8 4"/>
<text transform="translate(1117.7,1795.2) rotate(-90) scale(0.8036,1)" font-size="38.5" text-anchor="middle" fill="#4d4d4f" stroke="#4d4d4f" stroke-width="0.5">Global surface temperature relative to 1850–1900 (°C)</text>
<line x1="1205.5" y1="1903.5" x2="1205.5" y2="2204.7" stroke="#4d4d4f" stroke-width="1.6" />
<line x1="1192.0" y1="1959.8" x2="1205.5" y2="1959.8" stroke="#4d4d4f" stroke-width="1.6" />
<text transform="translate(1186.5,1970.0) scale(0.7668,1)" font-size="38.5" text-anchor="end" fill="#4d4d4f" stroke="#4d4d4f" stroke-width="0.5">1.0</text>
<line x1="1192.0" y1="2041.1" x2="1205.5" y2="2041.1" stroke="#4d4d4f" stroke-width="1.6" />
<text transform="translate(1186.5,2045.0) scale(0.7668,1)" font-size="38.5" text-anchor="end" fill="#4d4d4f" stroke="#4d4d4f" stroke-width="0.5">0.5</text>
<line x1="1192.0" y1="2122.4" x2="1205.5" y2="2122.4" stroke="#4d4d4f" stroke-width="1.6" />
<text transform="translate(1186.5,2120.3) scale(0.7668,1)" font-size="38.5" text-anchor="end" fill="#4d4d4f" stroke="#4d4d4f" stroke-width="0.5">0.0</text>
<line x1="1192.0" y1="2203.7" x2="1205.5" y2="2203.7" stroke="#4d4d4f" stroke-width="1.6" />
<text transform="translate(1186.5,2196.8) scale(0.7668,1)" font-size="38.5" text-anchor="end" fill="#4d4d4f" stroke="#4d4d4f" stroke-width="0.5">−0.5</text>
<path d="M1231.7,2105.2 L1236.8,2078.2 L1241.9,2072.6 L1247.0,2084.6 L1252.1,2083.2 L1257.2,2086.4 L1262.3,2093.7 L1267.4,2111.9 L1272.5,2101.6 L1277.6,2083.1 L1282.7,2105.2 L1287.8,2110.9 L1292.9,2123.5 L1298.0,2090.1 L1303.1,2114.9 L1308.2,2093.4 L1313.3,2090.2 L1318.4,2089.7 L1323.5,2092.5 L1328.6,2089.1 L1333.7,2085.3 L1338.8,2100.3 L1343.9,2085.9 L1349.0,2094.0 L1354.1,2100.1 L1359.2,2100.8 L1364.3,2106.7 L1369.4,2047.9 L1374.5,2042.5 L1379.6,2086.1 L1384.7,2096.5 L1389.8,2086.3 L1394.9,2092.3 L1400.0,2106.0 L1405.1,2130.4 L1410.2,2125.1 L1415.3,2112.8 L1420.4,2128.1 L1425.5,2110.0 L1430.6,2086.8 L1435.7,2127.8 L1440.8,2114.0 L1445.9,2125.8 L1451.0,2124.9 L1456.1,2127.8 L1461.2,2119.0 L1466.3,2092.0 L1471.4,2085.3 L1476.5,2122.6 L1481.6,2105.1 L1486.7,2080.4 L1491.8,2096.5 L1496.9,2112.8 L1502.0,2127.4 L1507.1,2146.2 L1512.2,2112.1 L1517.3,2103.7 L1522.4,2125.7 L1527.5,2126.9 L1532.6,2132.6 L1537.7,2129.6 L1542.8,2136.1 L1547.9,2122.9 L1553.0,2122.6 L1558.1,2088.1 L1563.2,2078.6 L1568.3,2108.7 L1573.4,2130.0 L1578.5,2114.8 L1583.6,2097.6 L1588.7,2099.1 L1593.8,2083.9 L1598.9,2099.0 L1604.0,2092.6 L1609.1,2093.0 L1614.2,2093.6 L1619.3,2068.2 L1624.4,2082.1 L1629.5,2084.6 L1634.6,2108.5 L1639.7,2081.2 L1644.8,2068.2 L1649.9,2075.5 L1655.0,2098.2 L1660.1,2080.2 L1665.2,2084.4 L1670.3,2077.7 L1675.4,2047.4 L1680.5,2034.3 L1685.6,2035.3 L1690.7,2015.0 L1695.8,2018.4 L1700.9,2024.4 L1706.0,2023.4 L1711.1,2007.7 L1716.2,2023.0 L1721.3,2049.1 L1726.4,2039.1 L1731.5,2063.3 L1736.6,2074.6 L1741.7,2090.5 L1746.8,2061.2 L1751.9,2049.6 L1757.0,2036.4 L1762.1,2067.7 L1767.2,2082.4 L1772.3,2094.9 L1777.4,2053.2 L1782.5,2051.8 L1787.6,2054.5 L1792.7,2066.3 L1797.8,2054.1 L1802.9,2061.7 L1808.0,2057.5 L1813.1,2099.9 L1818.2,2091.2 L1823.3,2073.6 L1828.4,2069.3 L1833.5,2075.1 L1838.6,2055.7 L1843.7,2069.1 L1848.8,2086.5 L1853.9,2070.6 L1859.0,2043.9 L1864.1,2084.4 L1869.2,2076.3 L1874.3,2090.5 L1879.4,2039.1 L1884.5,2052.1 L1889.6,2044.2 L1894.7,2027.2 L1899.8,2016.3 L1904.9,2050.4 L1910.0,2018.3 L1915.1,2049.3 L1920.2,2040.2 L1925.3,2036.6 L1930.4,2016.4 L1935.5,2009.5 L1940.6,2024.6 L1945.7,1997.4 L1950.8,2003.2 L1955.9,2031.1 L1961.0,2024.8 L1966.1,2019.2 L1971.2,1995.7 L1976.3,2014.9 L1981.4,1989.2 L1986.5,1964.0 L1991.6,2005.1 L1996.7,1998.7 L2001.8,1981.9 L2006.9,1972.5 L2012.0,1962.9 L2017.1,1978.8 L2022.2,1960.5 L2027.3,1961.5 L2032.4,1963.0 L2037.5,1980.4 L2042.6,1957.8 L2047.7,1942.2 L2052.8,1967.3 L2057.9,1966.1 L2063.0,1958.9 L2068.1,1952.3 L2073.2,1922.2 L2078.3,1905.2 L2083.4,1914.0 L2088.5,1932.4 L2093.6,1914.1 L2098.7,1903.5 L2098.7,1921.3 L2093.6,1929.0 L2088.5,1947.8 L2083.4,1931.7 L2078.3,1921.6 L2073.2,1939.8 L2068.1,1966.9 L2063.0,1974.5 L2057.9,1981.2 L2052.8,1984.5 L2047.7,1960.3 L2042.6,1976.4 L2037.5,1996.8 L2032.4,1977.0 L2027.3,1978.0 L2022.2,1975.1 L2017.1,1995.2 L2012.0,1981.3 L2006.9,1986.4 L2001.8,1996.5 L1996.7,2016.6 L1991.6,2020.2 L1986.5,1979.5 L1981.4,2003.5 L1976.3,2029.1 L1971.2,2011.8 L1966.1,2035.3 L1961.0,2043.5 L1955.9,2049.0 L1950.8,2017.6 L1945.7,2013.0 L1940.6,2045.0 L1935.5,2029.4 L1930.4,2035.8 L1925.3,2058.3 L1920.2,2063.2 L1915.1,2068.1 L1910.0,2038.8 L1904.9,2069.6 L1899.8,2035.8 L1894.7,2045.9 L1889.6,2063.1 L1884.5,2072.5 L1879.4,2058.6 L1874.3,2110.2 L1869.2,2095.3 L1864.1,2103.4 L1859.0,2065.7 L1853.9,2089.8 L1848.8,2107.1 L1843.7,2089.7 L1838.6,2078.3 L1833.5,2098.1 L1828.4,2091.8 L1823.3,2096.6 L1818.2,2110.2 L1813.1,2121.9 L1808.0,2079.2 L1802.9,2082.9 L1797.8,2076.2 L1792.7,2089.7 L1787.6,2084.0 L1782.5,2080.4 L1777.4,2082.1 L1772.3,2121.7 L1767.2,2110.5 L1762.1,2097.4 L1757.0,2065.6 L1751.9,2077.6 L1746.8,2089.2 L1741.7,2118.2 L1736.6,2102.2 L1731.5,2094.8 L1726.4,2089.8 L1721.3,2097.2 L1716.2,2071.3 L1711.1,2055.4 L1706.0,2074.0 L1700.9,2074.8 L1695.8,2069.1 L1690.7,2064.0 L1685.6,2083.8 L1680.5,2081.0 L1675.4,2078.5 L1670.3,2106.4 L1665.2,2112.5 L1660.1,2107.7 L1655.0,2128.8 L1649.9,2102.6 L1644.8,2095.6 L1639.7,2108.8 L1634.6,2142.5 L1629.5,2116.4 L1624.4,2117.1 L1619.3,2101.8 L1614.2,2126.7 L1609.1,2128.7 L1604.0,2129.1 L1598.9,2133.9 L1593.8,2119.0 L1588.7,2131.1 L1583.6,2132.5 L1578.5,2148.8 L1573.4,2166.3 L1568.3,2144.5 L1563.2,2112.5 L1558.1,2122.7 L1553.0,2157.2 L1547.9,2158.0 L1542.8,2169.4 L1537.7,2165.6 L1532.6,2167.1 L1527.5,2162.3 L1522.4,2160.7 L1517.3,2135.6 L1512.2,2146.2 L1507.1,2178.6 L1502.0,2162.8 L1496.9,2146.5 L1491.8,2128.8 L1486.7,2116.9 L1481.6,2138.2 L1476.5,2157.9 L1471.4,2121.2 L1466.3,2126.3 L1461.2,2153.5 L1456.1,2160.7 L1451.0,2160.1 L1445.9,2161.4 L1440.8,2147.1 L1435.7,2161.8 L1430.6,2121.4 L1425.5,2143.2 L1420.4,2161.9 L1415.3,2147.8 L1410.2,2157.8 L1405.1,2162.4 L1400.0,2138.0 L1394.9,2126.7 L1389.8,2119.8 L1384.7,2131.4 L1379.6,2138.5 L1374.5,2093.0 L1369.4,2101.4 L1364.3,2157.8 L1359.2,2151.0 L1354.1,2150.4 L1349.0,2145.0 L1343.9,2139.7 L1338.8,2150.1 L1333.7,2139.6 L1328.6,2140.7 L1323.5,2144.9 L1318.4,2143.9 L1313.3,2142.9 L1308.2,2144.1 L1303.1,2165.1 L1298.0,2143.7 L1292.9,2175.2 L1287.8,2160.9 L1282.7,2155.1 L1277.6,2134.9 L1272.5,2151.4 L1267.4,2164.0 L1262.3,2143.6 L1257.2,2137.8 L1252.1,2135.4 L1247.0,2134.6 L1241.9,2125.3 L1236.8,2128.5 L1231.7,2156.4 Z" fill="#c8c8c8" stroke="none" stroke-width="0" stroke-linejoin="round" />
<path d="M1231.7,2143.0 L1236.8,2109.2 L1241.9,2109.3 L1247.0,2124.0 L1252.1,2113.3 L1257.2,2115.8 L1262.3,2118.6 L1267.4,2145.1 L1272.5,2135.5 L1277.6,2118.1 L1282.7,2130.7 L1287.8,2143.3 L1292.9,2158.9 L1298.0,2131.9 L1303.1,2133.9 L1308.2,2104.7 L1313.3,2112.1 L1318.4,2106.0 L1323.5,2105.6 L1328.6,2110.5 L1333.7,2127.4 L1338.8,2128.1 L1343.9,2114.9 L1349.0,2125.4 L1354.1,2133.3 L1359.2,2131.2 L1364.3,2146.0 L1369.4,2076.1 L1374.5,2058.9 L1379.6,2117.5 L1384.7,2119.3 L1389.8,2106.5 L1394.9,2114.3 L1400.0,2120.2 L1405.1,2146.7 L1410.2,2146.4 L1415.3,2128.1 L1420.4,2144.5 L1425.5,2124.2 L1430.6,2109.6 L1435.7,2138.9 L1440.8,2125.2 L1445.9,2151.5 L1451.0,2146.9 L1456.1,2140.3 L1461.2,2134.8 L1466.3,2104.5 L1471.4,2107.8 L1476.5,2138.4 L1481.6,2118.7 L1486.7,2105.5 L1491.8,2109.5 L1496.9,2124.9 L1502.0,2143.3 L1507.1,2160.6 L1512.2,2128.7 L1517.3,2123.1 L1522.4,2148.6 L1527.5,2143.5 L1532.6,2152.3 L1537.7,2155.4 L1542.8,2151.6 L1547.9,2140.1 L1553.0,2139.2 L1558.1,2108.4 L1563.2,2096.8 L1568.3,2129.8 L1573.4,2148.6 L1578.5,2132.2 L1583.6,2118.5 L1588.7,2112.8 L1593.8,2109.8 L1598.9,2124.3 L1604.0,2112.6 L1609.1,2107.7 L1614.2,2108.2 L1619.3,2086.4 L1624.4,2106.0 L1629.5,2097.8 L1634.6,2119.8 L1639.7,2090.7 L1644.8,2080.3 L1649.9,2082.8 L1655.0,2120.5 L1660.1,2092.7 L1665.2,2092.4 L1670.3,2091.9 L1675.4,2067.9 L1680.5,2069.0 L1685.6,2069.9 L1690.7,2045.3 L1695.8,2064.4 L1700.9,2059.6 L1706.0,2058.6 L1711.1,2036.2 L1716.2,2054.8 L1721.3,2079.4 L1726.4,2078.4 L1731.5,2083.2 L1736.6,2088.4 L1741.7,2109.4 L1746.8,2070.0 L1751.9,2062.4 L1757.0,2056.5 L1762.1,2084.7 L1767.2,2096.6 L1772.3,2108.2 L1777.4,2070.7 L1782.5,2066.3 L1787.6,2069.8 L1792.7,2080.7 L1797.8,2067.9 L1802.9,2079.4 L1808.0,2073.5 L1813.1,2117.2 L1818.2,2097.1 L1823.3,2084.1 L1828.4,2079.6 L1833.5,2086.3 L1838.6,2065.9 L1843.7,2082.6 L1848.8,2092.4 L1853.9,2075.8 L1859.0,2062.0 L1864.1,2097.8 L1869.2,2089.8 L1874.3,2095.7 L1879.4,2050.4 L1884.5,2067.0 L1889.6,2049.6 L1894.7,2035.8 L1899.8,2029.9 L1904.9,2062.4 L1910.0,2028.0 L1915.1,2060.4 L1920.2,2058.2 L1925.3,2046.3 L1930.4,2024.9 L1935.5,2020.7 L1940.6,2034.9 L1945.7,2004.7 L1950.8,2003.5 L1955.9,2037.9 L1961.0,2036.1 L1966.1,2026.4 L1971.2,1992.7 L1976.3,2013.1 L1981.4,1991.5 L1986.5,1963.5 L1991.6,2001.1 L1996.7,2010.6 L2001.8,1987.3 L2006.9,1974.9 L2012.0,1966.9 L2017.1,1986.0 L2022.2,1956.8 L2027.3,1962.0 L2032.4,1960.3 L2037.5,1986.8 L2042.6,1958.7 L2047.7,1944.3 L2052.8,1971.4 L2057.9,1969.8 L2063.0,1958.1 L2068.1,1952.8 L2073.2,1926.3 L2078.3,1910.2 L2083.4,1917.5 L2088.5,1938.9 L2093.6,1916.4 L2098.7,1902.9" fill="none" stroke="#ec1c8d" stroke-width="3.6" stroke-linejoin="round" />
<path d="M1231.7,2128.3 L1236.8,2110.6 L1241.9,2118.6 L1247.0,2124.1 L1252.1,2111.5 L1257.2,2113.8 L1262.3,2118.4 L1267.4,2142.2 L1272.5,2125.9 L1277.6,2112.8 L1282.7,2129.6 L1287.8,2139.1 L1292.9,2150.7 L1298.0,2124.5 L1303.1,2129.4 L1308.2,2108.2 L1313.3,2109.4 L1318.4,2115.6 L1323.5,2115.9 L1328.6,2113.0 L1333.7,2125.0 L1338.8,2130.4 L1343.9,2120.4 L1349.0,2124.1 L1354.1,2127.7 L1359.2,2123.1 L1364.3,2133.6 L1369.4,2084.8 L1374.5,2077.6 L1379.6,2122.4 L1384.7,2115.1 L1389.8,2104.1 L1394.9,2108.1 L1400.0,2112.3 L1405.1,2139.9 L1410.2,2140.8 L1415.3,2126.2 L1420.4,2139.9 L1425.5,2121.3 L1430.6,2099.1 L1435.7,2140.3 L1440.8,2124.6 L1445.9,2145.5 L1451.0,2137.6 L1456.1,2136.3 L1461.2,2138.4 L1466.3,2105.2 L1471.4,2102.3 L1476.5,2140.6 L1481.6,2118.2 L1486.7,2100.6 L1491.8,2104.1 L1496.9,2127.4 L1502.0,2142.2 L1507.1,2159.7 L1512.2,2123.7 L1517.3,2110.7 L1522.4,2143.2 L1527.5,2144.2 L1532.6,2144.6 L1537.7,2146.6 L1542.8,2149.9 L1547.9,2143.0 L1553.0,2140.7 L1558.1,2102.4 L1563.2,2096.9 L1568.3,2123.5 L1573.4,2152.0 L1578.5,2126.0 L1583.6,2116.5 L1588.7,2105.8 L1593.8,2099.3 L1598.9,2115.9 L1604.0,2112.7 L1609.1,2110.1 L1614.2,2106.1 L1619.3,2084.4 L1624.4,2102.1 L1629.5,2095.3 L1634.6,2119.4 L1639.7,2090.6 L1644.8,2082.5 L1649.9,2081.9 L1655.0,2112.4 L1660.1,2086.4 L1665.2,2098.8 L1670.3,2088.0 L1675.4,2069.2 L1680.5,2062.1 L1685.6,2070.3 L1690.7,2051.4 L1695.8,2051.8 L1700.9,2064.7 L1706.0,2060.1 L1711.1,2035.4 L1716.2,2058.0 L1721.3,2083.8 L1726.4,2072.5 L1731.5,2082.3 L1736.6,2082.9 L1741.7,2105.7 L1746.8,2073.8 L1751.9,2064.1 L1757.0,2048.4 L1762.1,2086.4 L1767.2,2089.5 L1772.3,2108.5 L1777.4,2064.0 L1782.5,2069.0 L1787.6,2071.3 L1792.7,2076.6 L1797.8,2068.2 L1802.9,2073.9 L1808.0,2065.7 L1813.1,2111.7 L1818.2,2100.3 L1823.3,2081.6 L1828.4,2084.4 L1833.5,2092.3 L1838.6,2069.1 L1843.7,2075.9 L1848.8,2092.1 L1853.9,2079.4 L1859.0,2055.7 L1864.1,2093.7 L1869.2,2081.5 L1874.3,2094.0 L1879.4,2042.4 L1884.5,2055.6 L1889.6,2046.3 L1894.7,2027.8 L1899.8,2019.9 L1904.9,2055.8 L1910.0,2028.6 L1915.1,2052.0 L1920.2,2054.6 L1925.3,2050.5 L1930.4,2022.4 L1935.5,2012.3 L1940.6,2035.7 L1945.7,2000.9 L1950.8,2006.3 L1955.9,2040.0 L1961.0,2038.8 L1966.1,2020.1 L1971.2,2003.5 L1976.3,2015.5 L1981.4,1991.8 L1986.5,1972.8 L1991.6,2007.9 L1996.7,2011.2 L2001.8,1988.6 L2006.9,1978.1 L2012.0,1976.3 L2017.1,1988.7 L2022.2,1961.4 L2027.3,1967.5 L2032.4,1959.4 L2037.5,1982.2 L2042.6,1963.3 L2047.7,1954.1 L2052.8,1975.4 L2057.9,1971.9 L2063.0,1962.4 L2068.1,1953.5 L2073.2,1927.6 L2078.3,1909.1 L2083.4,1924.8 L2088.5,1937.2 L2093.6,1916.8 L2098.7,1917.1" fill="none" stroke="#f58220" stroke-width="3.3" stroke-linejoin="round" />
<path d="M1231.7,2130.7 L1236.8,2111.3 L1241.9,2112.2 L1247.0,2114.8 L1252.1,2113.5 L1257.2,2119.1 L1262.3,2122.6 L1267.4,2131.7 L1272.5,2126.0 L1277.6,2116.0 L1282.7,2122.7 L1287.8,2131.1 L1292.9,2139.3 L1298.0,2121.6 L1303.1,2132.8 L1308.2,2122.4 L1313.3,2119.0 L1318.4,2118.9 L1323.5,2121.2 L1328.6,2115.8 L1333.7,2117.6 L1338.8,2126.7 L1343.9,2116.6 L1349.0,2119.7 L1354.1,2125.3 L1359.2,2127.9 L1364.3,2126.5 L1369.4,2092.0 L1374.5,2081.9 L1379.6,2113.8 L1384.7,2120.5 L1389.8,2106.0 L1394.9,2118.0 L1400.0,2123.7 L1405.1,2150.9 L1410.2,2143.1 L1415.3,2135.9 L1420.4,2155.1 L1425.5,2135.5 L1430.6,2114.3 L1435.7,2148.0 L1440.8,2136.9 L1445.9,2152.0 L1451.0,2152.9 L1456.1,2149.7 L1461.2,2145.0 L1466.3,2117.9 L1471.4,2112.6 L1476.5,2148.5 L1481.6,2124.1 L1486.7,2108.0 L1491.8,2113.7 L1496.9,2133.5 L1502.0,2150.4 L1507.1,2165.8 L1512.2,2139.1 L1517.3,2120.6 L1522.4,2148.0 L1527.5,2150.5 L1532.6,2157.1 L1537.7,2155.9 L1542.8,2161.1 L1547.9,2146.5 L1553.0,2147.3 L1558.1,2115.1 L1563.2,2106.1 L1568.3,2133.5 L1573.4,2154.7 L1578.5,2142.3 L1583.6,2121.1 L1588.7,2119.9 L1593.8,2113.1 L1598.9,2126.5 L1604.0,2119.6 L1609.1,2117.5 L1614.2,2119.6 L1619.3,2090.6 L1624.4,2111.9 L1629.5,2102.6 L1634.6,2133.9 L1639.7,2105.7 L1644.8,2091.5 L1649.9,2102.1 L1655.0,2127.6 L1660.1,2109.0 L1665.2,2116.3 L1670.3,2106.7 L1675.4,2085.8 L1680.5,2083.1 L1685.6,2085.9 L1690.7,2064.9 L1695.8,2075.4 L1700.9,2081.7 L1706.0,2074.4 L1711.1,2057.4 L1716.2,2068.8 L1721.3,2094.9 L1726.4,2094.2 L1731.5,2099.0 L1736.6,2102.0 L1741.7,2117.1 L1746.8,2088.7 L1751.9,2077.5 L1757.0,2066.2 L1762.1,2095.9 L1767.2,2110.9 L1772.3,2121.5 L1777.4,2081.5 L1782.5,2083.6 L1787.6,2087.6 L1792.7,2092.9 L1797.8,2081.8 L1802.9,2087.5 L1808.0,2088.6 L1813.1,2128.3 L1818.2,2112.2 L1823.3,2107.4 L1828.4,2097.1 L1833.5,2103.7 L1838.6,2088.2 L1843.7,2093.0 L1848.8,2111.8 L1853.9,2091.3 L1859.0,2072.4 L1864.1,2104.5 L1869.2,2096.2 L1874.3,2117.6 L1879.4,2065.4 L1884.5,2075.2 L1889.6,2062.1 L1894.7,2050.4 L1899.8,2039.3 L1904.9,2071.8 L1910.0,2044.5 L1915.1,2071.8 L1920.2,2071.4 L1925.3,2064.8 L1930.4,2038.2 L1935.5,2034.7 L1940.6,2050.2 L1945.7,2016.6 L1950.8,2026.1 L1955.9,2056.7 L1961.0,2050.5 L1966.1,2043.2 L1971.2,2020.5 L1976.3,2031.1 L1981.4,2010.2 L1986.5,1987.8 L1991.6,2026.1 L1996.7,2023.1 L2001.8,2004.6 L2006.9,1992.0 L2012.0,1991.4 L2017.1,1999.2 L2022.2,1980.3 L2027.3,1981.8 L2032.4,1983.9 L2037.5,2004.8 L2042.6,1984.0 L2047.7,1965.4 L2052.8,1992.3 L2057.9,1988.8 L2063.0,1983.5 L2068.1,1971.5 L2073.2,1950.1 L2078.3,1925.7 L2083.4,1936.8 L2088.5,1956.1 L2093.6,1935.9 L2098.7,1926.8" fill="none" stroke="#2ea7e0" stroke-width="3.6" stroke-linejoin="round" />
<path d="M1231.7,2131.2 L1236.8,2102.4 L1241.9,2101.7 L1247.0,2108.1 L1252.1,2111.2 L1257.2,2112.7 L1262.3,2117.1 L1267.4,2139.6 L1272.5,2124.8 L1277.6,2110.1 L1282.7,2128.6 L1287.8,2134.5 L1292.9,2150.4 L1298.0,2120.9 L1303.1,2138.9 L1308.2,2118.3 L1313.3,2119.1 L1318.4,2121.7 L1323.5,2120.9 L1328.6,2115.8 L1333.7,2117.6 L1338.8,2123.5 L1343.9,2117.1 L1349.0,2119.6 L1354.1,2124.2 L1359.2,2124.8 L1364.3,2132.5 L1369.4,2078.6 L1374.5,2067.1 L1379.6,2114.5 L1384.7,2115.8 L1389.8,2103.0 L1394.9,2110.7 L1400.0,2119.6 L1405.1,2144.0 L1410.2,2140.1 L1415.3,2132.5 L1420.4,2145.3 L1425.5,2126.0 L1430.6,2105.5 L1435.7,2145.3 L1440.8,2129.9 L1445.9,2146.6 L1451.0,2144.8 L1456.1,2143.2 L1461.2,2137.6 L1466.3,2110.1 L1471.4,2106.8 L1476.5,2142.7 L1481.6,2120.9 L1486.7,2103.0 L1491.8,2110.7 L1496.9,2129.9 L1502.0,2147.8 L1507.1,2160.7 L1512.2,2129.9 L1517.3,2117.1 L1522.4,2145.3 L1527.5,2147.3 L1532.6,2151.2 L1537.7,2151.2 L1542.8,2152.2 L1547.9,2142.7 L1553.0,2141.4 L1558.1,2106.8 L1563.2,2096.0 L1568.3,2129.9 L1573.4,2152.2 L1578.5,2132.5 L1583.6,2117.1 L1588.7,2112.7 L1593.8,2103.7 L1598.9,2118.3 L1604.0,2115.3 L1609.1,2114.0 L1614.2,2109.4 L1619.3,2085.0 L1624.4,2101.7 L1629.5,2097.8 L1634.6,2126.0 L1639.7,2094.2 L1644.8,2080.8 L1649.9,2087.5 L1655.0,2117.1 L1660.1,2092.9 L1665.2,2098.2 L1670.3,2092.9 L1675.4,2067.3 L1680.5,2066.0 L1685.6,2070.6 L1690.7,2051.2 L1695.8,2057.9 L1700.9,2063.3 L1706.0,2062.8 L1711.1,2041.3 L1716.2,2057.9 L1721.3,2083.5 L1726.4,2078.6 L1731.5,2084.0 L1736.6,2087.5 L1741.7,2103.6 L1746.8,2074.9 L1751.9,2063.3 L1757.0,2052.5 L1762.1,2084.8 L1767.2,2096.4 L1772.3,2106.3 L1777.4,2068.7 L1782.5,2066.8 L1787.6,2071.4 L1792.7,2082.1 L1797.8,2067.3 L1802.9,2073.2 L1808.0,2070.0 L1813.1,2113.0 L1818.2,2098.2 L1823.3,2088.8 L1828.4,2083.5 L1833.5,2090.2 L1838.6,2070.0 L1843.7,2079.4 L1848.8,2096.9 L1853.9,2078.1 L1859.0,2056.6 L1864.1,2091.5 L1869.2,2083.5 L1874.3,2099.0 L1879.4,2047.2 L1884.5,2062.0 L1889.6,2051.2 L1894.7,2033.7 L1899.8,2024.3 L1904.9,2057.9 L1910.0,2028.4 L1915.1,2056.0 L1920.2,2055.2 L1925.3,2049.1 L1930.4,2024.3 L1935.5,2018.4 L1940.6,2034.5 L1945.7,2004.2 L1950.8,2007.7 L1955.9,2042.6 L1961.0,2037.8 L1966.1,2027.0 L1971.2,2003.6 L1976.3,2019.0 L1981.4,1993.4 L1986.5,1970.6 L1991.6,2010.9 L1996.7,2010.1 L2001.8,1986.7 L2006.9,1976.0 L2012.0,1975.4 L2017.1,1987.2 L2022.2,1965.2 L2027.3,1970.0 L2032.4,1966.5 L2037.5,1988.9 L2042.6,1970.6 L2047.7,1953.9 L2052.8,1977.3 L2057.9,1971.9 L2063.0,1965.7 L2068.1,1957.1 L2073.2,1933.0 L2078.3,1913.6 L2083.4,1924.9 L2088.5,1938.9 L2093.6,1919.5 L2098.7,1914.7" fill="none" stroke="#000" stroke-width="1.7" stroke-linejoin="round" />
<text transform="translate(1222.5,1915.5) scale(0.7959,1)" font-size="38.5" text-anchor="start" fill="#231f20" stroke="#231f20" stroke-width="0.5">Annual and decadal averages</text>
<text transform="translate(1217.7,1972.0) scale(0.7904,1)" font-size="38.5" text-anchor="start" fill="#231f20" stroke="#231f20" stroke-width="0.5">HadCRUT .5.0</text>
<text transform="translate(1434.0,1972.0) scale(0.7900,1)" font-size="38.5" text-anchor="start" fill="#2ea7e0" stroke="#2ea7e0" stroke-width="0.5">NOAAGlobalTemp</text>
<text transform="translate(1217.7,2010.0) scale(0.7882,1)" font-size="38.5" text-anchor="start" fill="#f58220" stroke="#f58220" stroke-width="0.5">Kadow et al.</text>
<text transform="translate(1434.0,2010.0) scale(0.7861,1)" font-size="38.5" text-anchor="start" fill="#ec1c8d" stroke="#ec1c8d" stroke-width="0.5">Berkeley Earth</text>
<line x1="1205.5" y1="2234.5" x2="1205.5" y2="2535.3" stroke="#4d4d4f" stroke-width="1.6" />
<line x1="1192.0" y1="2291.6" x2="1205.5" y2="2291.6" stroke="#4d4d4f" stroke-width="1.6" />
<text transform="translate(1186.5,2300.0) scale(0.7668,1)" font-size="38.5" text-anchor="end" fill="#4d4d4f" stroke="#4d4d4f" stroke-width="0.5">1.0</text>
<line x1="1192.0" y1="2372.6" x2="1205.5" y2="2372.6" stroke="#4d4d4f" stroke-width="1.6" />
<text transform="translate(1186.5,2378.0) scale(0.7668,1)" font-size="38.5" text-anchor="end" fill="#4d4d4f" stroke="#4d4d4f" stroke-width="0.5">0.5</text>
<line x1="1192.0" y1="2453.6" x2="1205.5" y2="2453.6" stroke="#4d4d4f" stroke-width="1.6" />
<text transform="translate(1186.5,2458.4) scale(0.7668,1)" font-size="38.5" text-anchor="end" fill="#4d4d4f" stroke="#4d4d4f" stroke-width="0.5">0.0</text>
<text transform="translate(1189.5,2545.8) scale(0.7668,1)" font-size="38.5" text-anchor="end" fill="#4d4d4f" stroke="#4d4d4f" stroke-width="0.5">−0.5</text>
<line x1="1192.0" y1="2534.5" x2="2074.5" y2="2534.5" stroke="#4d4d4f" stroke-width="1.6" />
<line x1="1231.7" y1="2534.5" x2="1231.7" y2="2546.5" stroke="#4d4d4f" stroke-width="1.6" />
<text transform="translate(1220.0,2580.6) scale(0.7706,1)" font-size="38.5" text-anchor="middle" fill="#4d4d4f" stroke="#4d4d4f" stroke-width="0.5">1850</text>
<line x1="1486.6" y1="2534.5" x2="1486.6" y2="2546.5" stroke="#4d4d4f" stroke-width="1.6" />
<text transform="translate(1475.0,2580.6) scale(0.7706,1)" font-size="38.5" text-anchor="middle" fill="#4d4d4f" stroke="#4d4d4f" stroke-width="0.5">1900</text>
<line x1="1742.1" y1="2534.5" x2="1742.1" y2="2546.5" stroke="#4d4d4f" stroke-width="1.6" />
<text transform="translate(1731.2,2580.6) scale(0.7706,1)" font-size="38.5" text-anchor="middle" fill="#4d4d4f" stroke="#4d4d4f" stroke-width="0.5">1950</text>
<line x1="1997.0" y1="2534.5" x2="1997.0" y2="2546.5" stroke="#4d4d4f" stroke-width="1.6" />
<text transform="translate(1985.2,2580.6) scale(0.7706,1)" font-size="38.5" text-anchor="middle" fill="#4d4d4f" stroke="#4d4d4f" stroke-width="0.5">2000</text>
<rect x="1235.9" y="2429.6" width="46.3" height="35.2" fill="#c8c8c8" stroke="none" stroke-width="0"/>
<line x1="1235.9" y1="2455.4" x2="1282.1" y2="2455.4" stroke="#2ea7e0" stroke-width="4.2" />
<line x1="1235.9" y1="2456.6" x2="1282.1" y2="2456.6" stroke="#ec1c8d" stroke-width="4.2" />
<line x1="1235.9" y1="2453.6" x2="1282.1" y2="2453.6" stroke="#f58220" stroke-width="4.2" />
<line x1="1235.9" y1="2447.2" x2="1282.1" y2="2447.2" stroke="#000" stroke-width="1.6" />
<rect x="1287.0" y="2439.0" width="46.3" height="36.9" fill="#c8c8c8" stroke="none" stroke-width="0"/>
<line x1="1287.0" y1="2454.2" x2="1333.3" y2="2454.2" stroke="#2ea7e0" stroke-width="4.2" />
<line x1="1287.0" y1="2454.8" x2="1333.3" y2="2454.8" stroke="#ec1c8d" stroke-width="4.2" />
<line x1="1287.0" y1="2451.3" x2="1333.3" y2="2451.3" stroke="#f58220" stroke-width="4.2" />
<line x1="1287.0" y1="2456.0" x2="1333.3" y2="2456.0" stroke="#000" stroke-width="1.6" />
<rect x="1338.2" y="2429.6" width="46.3" height="27.5" fill="#c8c8c8" stroke="none" stroke-width="0"/>
<line x1="1338.2" y1="2445.4" x2="1384.5" y2="2445.4" stroke="#2ea7e0" stroke-width="4.2" />
<line x1="1338.2" y1="2441.3" x2="1384.5" y2="2441.3" stroke="#ec1c8d" stroke-width="4.2" />
<line x1="1338.2" y1="2440.2" x2="1384.5" y2="2440.2" stroke="#f58220" stroke-width="4.2" />
<line x1="1338.2" y1="2442.5" x2="1384.5" y2="2442.5" stroke="#000" stroke-width="1.6" />
<rect x="1389.3" y="2446.6" width="46.3" height="24.0" fill="#c8c8c8" stroke="none" stroke-width="0"/>
<line x1="1389.3" y1="2460.7" x2="1435.6" y2="2460.7" stroke="#2ea7e0" stroke-width="4.2" />
<line x1="1389.3" y1="2460.7" x2="1435.6" y2="2460.7" stroke="#ec1c8d" stroke-width="4.2" />
<line x1="1389.3" y1="2461.3" x2="1435.6" y2="2461.3" stroke="#f58220" stroke-width="4.2" />
<line x1="1389.3" y1="2458.9" x2="1435.6" y2="2458.9" stroke="#000" stroke-width="1.6" />
<rect x="1440.5" y="2446.6" width="46.3" height="26.4" fill="#c8c8c8" stroke="none" stroke-width="0"/>
<line x1="1440.5" y1="2453.1" x2="1486.8" y2="2453.1" stroke="#2ea7e0" stroke-width="4.2" />
<line x1="1440.5" y1="2454.8" x2="1486.8" y2="2454.8" stroke="#ec1c8d" stroke-width="4.2" />
<line x1="1440.5" y1="2461.9" x2="1486.8" y2="2461.9" stroke="#f58220" stroke-width="4.2" />
<line x1="1440.5" y1="2460.1" x2="1486.8" y2="2460.1" stroke="#000" stroke-width="1.6" />
<rect x="1491.6" y="2458.3" width="46.3" height="26.4" fill="#c8c8c8" stroke="none" stroke-width="0"/>
<line x1="1491.6" y1="2476.5" x2="1537.9" y2="2476.5" stroke="#2ea7e0" stroke-width="4.2" />
<line x1="1491.6" y1="2471.8" x2="1537.9" y2="2471.8" stroke="#ec1c8d" stroke-width="4.2" />
<line x1="1491.6" y1="2472.4" x2="1537.9" y2="2472.4" stroke="#f58220" stroke-width="4.2" />
<line x1="1491.6" y1="2470.6" x2="1537.9" y2="2470.6" stroke="#000" stroke-width="1.6" />
<rect x="1542.8" y="2446.6" width="46.3" height="25.2" fill="#c8c8c8" stroke="none" stroke-width="0"/>
<line x1="1542.8" y1="2470.6" x2="1589.1" y2="2470.6" stroke="#2ea7e0" stroke-width="4.2" />
<line x1="1542.8" y1="2462.4" x2="1589.1" y2="2462.4" stroke="#ec1c8d" stroke-width="4.2" />
<line x1="1542.8" y1="2458.9" x2="1589.1" y2="2458.9" stroke="#f58220" stroke-width="4.2" />
<line x1="1542.8" y1="2460.7" x2="1589.1" y2="2460.7" stroke="#000" stroke-width="1.6" />
<rect x="1593.9" y="2423.2" width="46.3" height="31.1" fill="#c8c8c8" stroke="none" stroke-width="0"/>
<line x1="1593.9" y1="2456.6" x2="1640.2" y2="2456.6" stroke="#2ea7e0" stroke-width="4.2" />
<line x1="1593.9" y1="2440.8" x2="1640.2" y2="2440.8" stroke="#ec1c8d" stroke-width="4.2" />
<line x1="1593.9" y1="2440.2" x2="1640.2" y2="2440.2" stroke="#f58220" stroke-width="4.2" />
<line x1="1593.9" y1="2438.4" x2="1640.2" y2="2438.4" stroke="#000" stroke-width="1.6" />
<rect x="1645.1" y="2398.6" width="46.3" height="31.1" fill="#c8c8c8" stroke="none" stroke-width="0"/>
<line x1="1645.1" y1="2436.1" x2="1691.4" y2="2436.1" stroke="#2ea7e0" stroke-width="4.2" />
<line x1="1645.1" y1="2422.0" x2="1691.4" y2="2422.0" stroke="#ec1c8d" stroke-width="4.2" />
<line x1="1645.1" y1="2417.9" x2="1691.4" y2="2417.9" stroke="#f58220" stroke-width="4.2" />
<line x1="1645.1" y1="2413.8" x2="1691.4" y2="2413.8" stroke="#000" stroke-width="1.6" />
<rect x="1696.2" y="2381.0" width="46.3" height="43.9" fill="#c8c8c8" stroke="none" stroke-width="0"/>
<line x1="1696.2" y1="2419.1" x2="1742.5" y2="2419.1" stroke="#2ea7e0" stroke-width="4.2" />
<line x1="1696.2" y1="2408.5" x2="1742.5" y2="2408.5" stroke="#ec1c8d" stroke-width="4.2" />
<line x1="1696.2" y1="2407.4" x2="1742.5" y2="2407.4" stroke="#f58220" stroke-width="4.2" />
<line x1="1696.2" y1="2403.3" x2="1742.5" y2="2403.3" stroke="#000" stroke-width="1.6" />
<rect x="1747.4" y="2391.0" width="46.3" height="35.2" fill="#c8c8c8" stroke="none" stroke-width="0"/>
<line x1="1747.4" y1="2424.9" x2="1793.7" y2="2424.9" stroke="#2ea7e0" stroke-width="4.2" />
<line x1="1747.4" y1="2410.9" x2="1793.7" y2="2410.9" stroke="#ec1c8d" stroke-width="4.2" />
<line x1="1747.4" y1="2409.1" x2="1793.7" y2="2409.1" stroke="#f58220" stroke-width="4.2" />
<line x1="1747.4" y1="2407.4" x2="1793.7" y2="2407.4" stroke="#000" stroke-width="1.6" />
<rect x="1798.5" y="2401.5" width="46.3" height="24.6" fill="#c8c8c8" stroke="none" stroke-width="0"/>
<line x1="1798.5" y1="2424.4" x2="1844.8" y2="2424.4" stroke="#2ea7e0" stroke-width="4.2" />
<line x1="1798.5" y1="2417.3" x2="1844.8" y2="2417.3" stroke="#ec1c8d" stroke-width="4.2" />
<line x1="1798.5" y1="2412.0" x2="1844.8" y2="2412.0" stroke="#f58220" stroke-width="4.2" />
<line x1="1798.5" y1="2415.0" x2="1844.8" y2="2415.0" stroke="#000" stroke-width="1.6" />
<rect x="1849.7" y="2388.6" width="46.3" height="23.4" fill="#c8c8c8" stroke="none" stroke-width="0"/>
<line x1="1849.7" y1="2410.9" x2="1896.0" y2="2410.9" stroke="#2ea7e0" stroke-width="4.2" />
<line x1="1849.7" y1="2402.7" x2="1896.0" y2="2402.7" stroke="#ec1c8d" stroke-width="4.2" />
<line x1="1849.7" y1="2398.6" x2="1896.0" y2="2398.6" stroke="#f58220" stroke-width="4.2" />
<line x1="1849.7" y1="2401.5" x2="1896.0" y2="2401.5" stroke="#000" stroke-width="1.6" />
<rect x="1900.8" y="2354.6" width="46.3" height="23.4" fill="#c8c8c8" stroke="none" stroke-width="0"/>
<line x1="1900.8" y1="2377.5" x2="1947.1" y2="2377.5" stroke="#2ea7e0" stroke-width="4.2" />
<line x1="1900.8" y1="2366.3" x2="1947.1" y2="2366.3" stroke="#ec1c8d" stroke-width="4.2" />
<line x1="1900.8" y1="2365.2" x2="1947.1" y2="2365.2" stroke="#f58220" stroke-width="4.2" />
<line x1="1900.8" y1="2366.9" x2="1947.1" y2="2366.9" stroke="#000" stroke-width="1.6" />
<rect x="1952.0" y="2331.2" width="46.3" height="29.3" fill="#c8c8c8" stroke="none" stroke-width="0"/>
<line x1="1952.0" y1="2359.9" x2="1998.3" y2="2359.9" stroke="#2ea7e0" stroke-width="4.2" />
<line x1="1952.0" y1="2339.4" x2="1998.3" y2="2339.4" stroke="#ec1c8d" stroke-width="4.2" />
<line x1="1952.0" y1="2342.3" x2="1998.3" y2="2342.3" stroke="#f58220" stroke-width="4.2" />
<line x1="1952.0" y1="2344.7" x2="1998.3" y2="2344.7" stroke="#000" stroke-width="1.6" />
<rect x="2003.1" y="2291.9" width="46.3" height="26.4" fill="#c8c8c8" stroke="none" stroke-width="0"/>
<line x1="2003.1" y1="2323.6" x2="2049.4" y2="2323.6" stroke="#2ea7e0" stroke-width="4.2" />
<line x1="2003.1" y1="2303.1" x2="2049.4" y2="2303.1" stroke="#ec1c8d" stroke-width="4.2" />
<line x1="2003.1" y1="2306.6" x2="2049.4" y2="2306.6" stroke="#f58220" stroke-width="4.2" />
<line x1="2003.1" y1="2306.0" x2="2049.4" y2="2306.0" stroke="#000" stroke-width="1.6" />
<rect x="2054.3" y="2259.7" width="46.3" height="25.8" fill="#c8c8c8" stroke="none" stroke-width="0"/>
<line x1="2054.3" y1="2287.2" x2="2100.6" y2="2287.2" stroke="#2ea7e0" stroke-width="4.2" />
<line x1="2054.3" y1="2269.1" x2="2100.6" y2="2269.1" stroke="#ec1c8d" stroke-width="4.2" />
<line x1="2054.3" y1="2276.1" x2="2100.6" y2="2276.1" stroke="#f58220" stroke-width="4.2" />
<line x1="2054.3" y1="2272.0" x2="2100.6" y2="2272.0" stroke="#000" stroke-width="1.6" />
<rect x="1896.8" y="2253.8" width="209.8" height="131.8" fill="none" stroke="#4d4d4f" stroke-width="1.3"/>
<text transform="translate(1367.0,2243.3) scale(0.7972,1)" font-size="38.5" text-anchor="start" fill="#231f20" stroke="#231f20" stroke-width="0.5">Each of the last four decades has in</text>
<text transform="translate(1367.0,2287.5) scale(0.7988,1)" font-size="38.5" text-anchor="start" fill="#231f20" stroke="#231f20" stroke-width="0.5">turn been warmer than any decade</text>
<text transform="translate(1367.0,2333.0) scale(0.7991,1)" font-size="38.5" text-anchor="start" fill="#231f20" stroke="#231f20" stroke-width="0.5">that preceded it since 1850.</text>
</g>
</svg></body></html>
